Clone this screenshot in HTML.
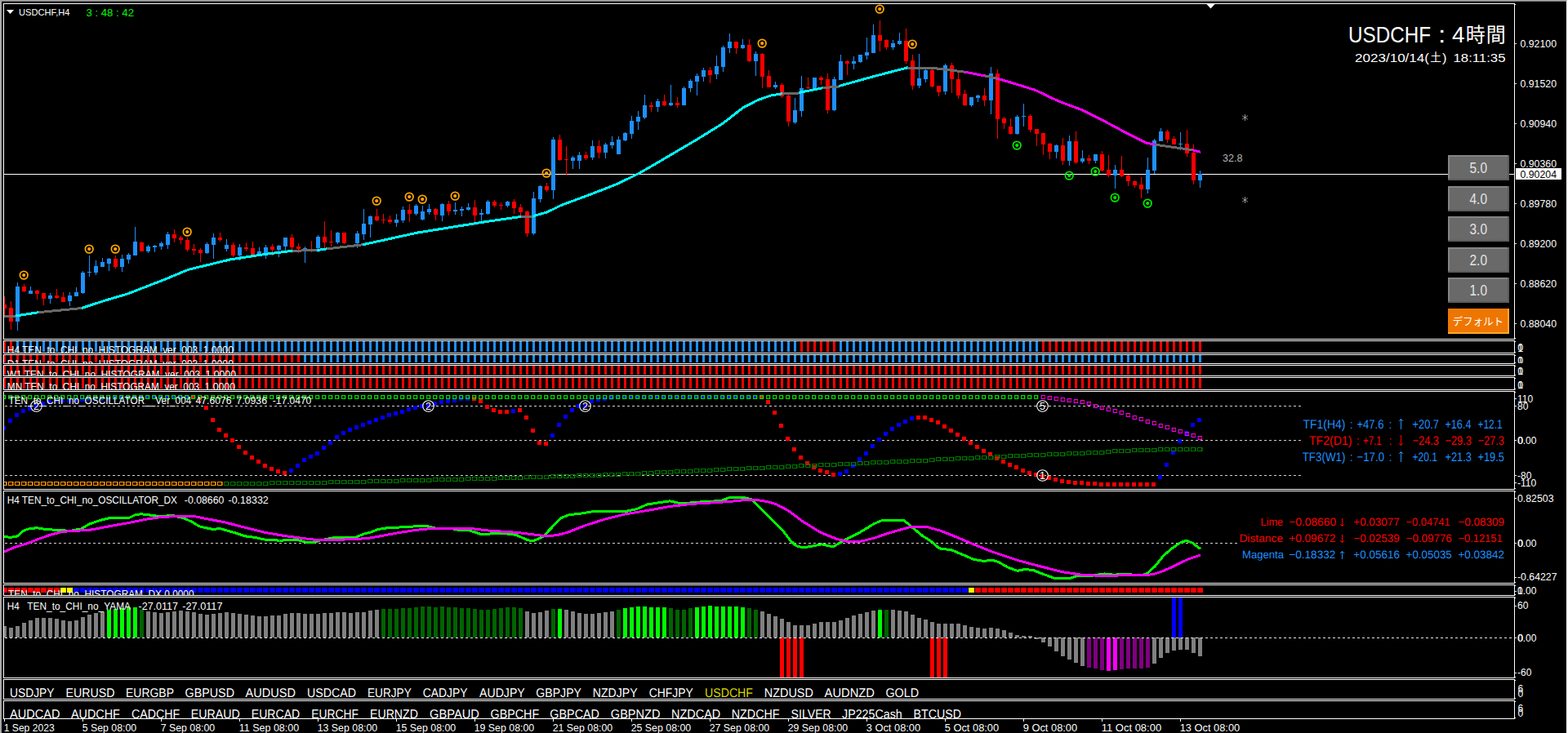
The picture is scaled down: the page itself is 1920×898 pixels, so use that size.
<!DOCTYPE html><html><head><meta charset="utf-8"><title>USDCHF,H4</title><style>html,body{margin:0;padding:0;background:#000;overflow:hidden}svg{display:block}text{font-family:"Liberation Sans",sans-serif;white-space:pre}</style></head><body>
<svg width="1920" height="898" viewBox="0 0 1920 898">
<rect x="0" y="0" width="1920" height="898" fill="#000"/>
<g shape-rendering="crispEdges">
<rect x="0" y="0" width="2" height="898" fill="#a8a8a8"/>
<rect x="1918" y="0" width="2" height="898" fill="#ffffff"/>
<rect x="0" y="0" width="1919" height="1" fill="#a8a8a8"/>
<rect x="2" y="1" width="1916" height="1" fill="#787878"/>
<rect x="4.5" y="4.5" width="1850" height="411" fill="none" stroke="#fff" stroke-width="1"/>
<rect x="4.5" y="417.5" width="1850" height="15" fill="none" stroke="#fff" stroke-width="1"/>
<rect x="4.5" y="434.5" width="1850" height="11" fill="none" stroke="#fff" stroke-width="1"/>
<rect x="4.5" y="447.5" width="1850" height="13" fill="none" stroke="#fff" stroke-width="1"/>
<rect x="4.5" y="462.5" width="1850" height="15" fill="none" stroke="#fff" stroke-width="1"/>
<rect x="4.5" y="479.5" width="1850" height="120" fill="none" stroke="#fff" stroke-width="1"/>
<rect x="4.5" y="601.5" width="1850" height="113" fill="none" stroke="#fff" stroke-width="1"/>
<rect x="4.5" y="716.5" width="1850" height="13" fill="none" stroke="#fff" stroke-width="1"/>
<rect x="4.5" y="731.5" width="1850" height="99" fill="none" stroke="#fff" stroke-width="1"/>
<rect x="4.5" y="832.5" width="1850" height="24" fill="none" stroke="#fff" stroke-width="1"/>
<rect x="4.5" y="858.5" width="1850" height="22" fill="none" stroke="#fff" stroke-width="1"/>
<rect x="1855" y="5" width="1" height="1" fill="#fff"/>
<rect x="1855" y="414" width="1" height="1" fill="#fff"/>
<rect x="1855" y="418" width="1" height="1" fill="#fff"/>
<rect x="1855" y="431" width="1" height="1" fill="#fff"/>
<rect x="1855" y="435" width="1" height="1" fill="#fff"/>
<rect x="1855" y="444" width="1" height="1" fill="#fff"/>
<rect x="1855" y="448" width="1" height="1" fill="#fff"/>
<rect x="1855" y="459" width="1" height="1" fill="#fff"/>
<rect x="1855" y="463" width="1" height="1" fill="#fff"/>
<rect x="1855" y="476" width="1" height="1" fill="#fff"/>
<rect x="1855" y="480" width="1" height="1" fill="#fff"/>
<rect x="1855" y="598" width="1" height="1" fill="#fff"/>
<rect x="1855" y="602" width="1" height="1" fill="#fff"/>
<rect x="1855" y="713" width="1" height="1" fill="#fff"/>
<rect x="1855" y="717" width="1" height="1" fill="#fff"/>
<rect x="1855" y="728" width="1" height="1" fill="#fff"/>
<rect x="1855" y="732" width="1" height="1" fill="#fff"/>
<rect x="1855" y="829" width="1" height="1" fill="#fff"/>
<rect x="1855" y="833" width="1" height="1" fill="#fff"/>
<rect x="1855" y="855" width="1" height="1" fill="#fff"/>
<rect x="1855" y="859" width="1" height="1" fill="#fff"/>
<rect x="1855" y="879" width="1" height="1" fill="#fff"/>
</g>
<clipPath id="cm"><rect x="5" y="5" width="1849" height="410"/></clipPath>
<g clip-path="url(#cm)">
<g shape-rendering="crispEdges">
<rect x="5" y="213" width="1849" height="1" fill="#fff"/>
<rect x="5" y="363" width="1" height="26" fill="#ff0000"/>
<rect x="3" y="373" width="5" height="5" fill="#ff0000"/>
<rect x="13" y="369" width="1" height="35" fill="#ff0000"/>
<rect x="11" y="377" width="5" height="17" fill="#ff0000"/>
<rect x="21" y="346" width="1" height="59" fill="#1e90ff"/>
<rect x="19" y="351" width="5" height="43" fill="#1e90ff"/>
<rect x="29" y="348" width="1" height="10" fill="#ff0000"/>
<rect x="27" y="351" width="5" height="6" fill="#ff0000"/>
<rect x="37" y="351" width="1" height="9" fill="#1e90ff"/>
<rect x="35" y="356" width="5" height="4" fill="#1e90ff"/>
<rect x="45" y="355" width="1" height="12" fill="#ff0000"/>
<rect x="43" y="356" width="5" height="4" fill="#ff0000"/>
<rect x="53" y="359" width="1" height="15" fill="#ff0000"/>
<rect x="51" y="359" width="5" height="7" fill="#ff0000"/>
<rect x="61" y="359" width="1" height="13" fill="#1e90ff"/>
<rect x="59" y="362" width="5" height="4" fill="#1e90ff"/>
<rect x="69" y="354" width="1" height="12" fill="#ff0000"/>
<rect x="67" y="362" width="5" height="3" fill="#ff0000"/>
<rect x="77" y="358" width="1" height="12" fill="#ff0000"/>
<rect x="75" y="364" width="5" height="6" fill="#ff0000"/>
<rect x="85" y="358" width="1" height="17" fill="#1e90ff"/>
<rect x="83" y="362" width="5" height="7" fill="#1e90ff"/>
<rect x="93" y="352" width="1" height="11" fill="#1e90ff"/>
<rect x="91" y="358" width="5" height="5" fill="#1e90ff"/>
<rect x="101" y="332" width="1" height="28" fill="#1e90ff"/>
<rect x="99" y="334" width="5" height="25" fill="#1e90ff"/>
<rect x="109" y="313" width="1" height="26" fill="#1e90ff"/>
<rect x="107" y="333" width="5" height="1" fill="#1e90ff"/>
<rect x="117" y="319" width="1" height="18" fill="#1e90ff"/>
<rect x="115" y="326" width="5" height="8" fill="#1e90ff"/>
<rect x="125" y="316" width="1" height="11" fill="#1e90ff"/>
<rect x="123" y="321" width="5" height="6" fill="#1e90ff"/>
<rect x="133" y="316" width="1" height="16" fill="#1e90ff"/>
<rect x="131" y="317" width="5" height="6" fill="#1e90ff"/>
<rect x="141" y="313" width="1" height="16" fill="#ff0000"/>
<rect x="139" y="317" width="5" height="10" fill="#ff0000"/>
<rect x="149" y="312" width="1" height="21" fill="#1e90ff"/>
<rect x="147" y="317" width="5" height="10" fill="#1e90ff"/>
<rect x="157" y="310" width="1" height="13" fill="#1e90ff"/>
<rect x="155" y="312" width="5" height="6" fill="#1e90ff"/>
<rect x="165" y="278" width="1" height="35" fill="#1e90ff"/>
<rect x="163" y="296" width="5" height="17" fill="#1e90ff"/>
<rect x="173" y="296" width="1" height="12" fill="#ff0000"/>
<rect x="171" y="297" width="5" height="11" fill="#ff0000"/>
<rect x="181" y="300" width="1" height="10" fill="#1e90ff"/>
<rect x="179" y="302" width="5" height="6" fill="#1e90ff"/>
<rect x="189" y="300" width="1" height="9" fill="#1e90ff"/>
<rect x="187" y="301" width="5" height="2" fill="#1e90ff"/>
<rect x="197" y="296" width="1" height="10" fill="#1e90ff"/>
<rect x="195" y="298" width="5" height="4" fill="#1e90ff"/>
<rect x="205" y="284" width="1" height="21" fill="#1e90ff"/>
<rect x="203" y="287" width="5" height="13" fill="#1e90ff"/>
<rect x="213" y="281" width="1" height="16" fill="#ff0000"/>
<rect x="211" y="287" width="5" height="5" fill="#ff0000"/>
<rect x="221" y="289" width="1" height="10" fill="#ff0000"/>
<rect x="219" y="291" width="5" height="3" fill="#ff0000"/>
<rect x="229" y="291" width="1" height="17" fill="#ff0000"/>
<rect x="227" y="294" width="5" height="12" fill="#ff0000"/>
<rect x="237" y="299" width="1" height="13" fill="#ff0000"/>
<rect x="235" y="305" width="5" height="2" fill="#ff0000"/>
<rect x="245" y="304" width="1" height="17" fill="#ff0000"/>
<rect x="243" y="306" width="5" height="4" fill="#ff0000"/>
<rect x="253" y="297" width="1" height="14" fill="#1e90ff"/>
<rect x="251" y="299" width="5" height="11" fill="#1e90ff"/>
<rect x="261" y="286" width="1" height="31" fill="#1e90ff"/>
<rect x="259" y="291" width="5" height="9" fill="#1e90ff"/>
<rect x="269" y="285" width="1" height="11" fill="#ff0000"/>
<rect x="267" y="291" width="5" height="3" fill="#ff0000"/>
<rect x="277" y="293" width="1" height="15" fill="#1e90ff"/>
<rect x="275" y="300" width="5" height="5" fill="#1e90ff"/>
<rect x="285" y="297" width="1" height="18" fill="#ff0000"/>
<rect x="283" y="300" width="5" height="13" fill="#ff0000"/>
<rect x="293" y="299" width="1" height="20" fill="#1e90ff"/>
<rect x="291" y="303" width="5" height="10" fill="#1e90ff"/>
<rect x="301" y="297" width="1" height="11" fill="#ff0000"/>
<rect x="299" y="303" width="5" height="2" fill="#ff0000"/>
<rect x="309" y="296" width="1" height="16" fill="#ff0000"/>
<rect x="307" y="304" width="5" height="8" fill="#ff0000"/>
<rect x="317" y="303" width="1" height="8" fill="#1e90ff"/>
<rect x="315" y="308" width="5" height="3" fill="#1e90ff"/>
<rect x="325" y="300" width="1" height="17" fill="#1e90ff"/>
<rect x="323" y="303" width="5" height="7" fill="#1e90ff"/>
<rect x="333" y="299" width="1" height="14" fill="#ff0000"/>
<rect x="331" y="302" width="5" height="4" fill="#ff0000"/>
<rect x="341" y="300" width="1" height="15" fill="#1e90ff"/>
<rect x="339" y="301" width="5" height="5" fill="#1e90ff"/>
<rect x="349" y="291" width="1" height="16" fill="#1e90ff"/>
<rect x="347" y="291" width="5" height="11" fill="#1e90ff"/>
<rect x="357" y="287" width="1" height="23" fill="#ff0000"/>
<rect x="355" y="291" width="5" height="12" fill="#ff0000"/>
<rect x="365" y="298" width="1" height="12" fill="#ff0000"/>
<rect x="363" y="302" width="5" height="3" fill="#ff0000"/>
<rect x="373" y="302" width="1" height="20" fill="#1e90ff"/>
<rect x="371" y="304" width="5" height="1" fill="#1e90ff"/>
<rect x="381" y="295" width="1" height="14" fill="#ff0000"/>
<rect x="379" y="307" width="5" height="1" fill="#ff0000"/>
<rect x="389" y="288" width="1" height="21" fill="#1e90ff"/>
<rect x="387" y="290" width="5" height="14" fill="#1e90ff"/>
<rect x="397" y="271" width="1" height="36" fill="#ff0000"/>
<rect x="395" y="290" width="5" height="7" fill="#ff0000"/>
<rect x="405" y="282" width="1" height="20" fill="#ff0000"/>
<rect x="403" y="296" width="5" height="1" fill="#ff0000"/>
<rect x="413" y="284" width="1" height="15" fill="#1e90ff"/>
<rect x="411" y="285" width="5" height="12" fill="#1e90ff"/>
<rect x="421" y="285" width="1" height="14" fill="#ff0000"/>
<rect x="419" y="285" width="5" height="13" fill="#ff0000"/>
<rect x="429" y="301" width="1" height="2" fill="#ff0000"/>
<rect x="427" y="301" width="5" height="2" fill="#ff0000"/>
<rect x="437" y="283" width="1" height="21" fill="#1e90ff"/>
<rect x="435" y="286" width="5" height="12" fill="#1e90ff"/>
<rect x="445" y="256" width="1" height="38" fill="#1e90ff"/>
<rect x="443" y="274" width="5" height="13" fill="#1e90ff"/>
<rect x="453" y="264" width="1" height="27" fill="#1e90ff"/>
<rect x="451" y="265" width="5" height="10" fill="#1e90ff"/>
<rect x="461" y="256" width="1" height="15" fill="#ff0000"/>
<rect x="459" y="265" width="5" height="5" fill="#ff0000"/>
<rect x="469" y="262" width="1" height="12" fill="#ff0000"/>
<rect x="467" y="269" width="5" height="1" fill="#ff0000"/>
<rect x="477" y="264" width="1" height="10" fill="#ff0000"/>
<rect x="475" y="269" width="5" height="3" fill="#ff0000"/>
<rect x="485" y="262" width="1" height="16" fill="#1e90ff"/>
<rect x="483" y="269" width="5" height="4" fill="#1e90ff"/>
<rect x="493" y="253" width="1" height="20" fill="#1e90ff"/>
<rect x="491" y="257" width="5" height="13" fill="#1e90ff"/>
<rect x="501" y="250" width="1" height="22" fill="#ff0000"/>
<rect x="499" y="257" width="5" height="5" fill="#ff0000"/>
<rect x="509" y="250" width="1" height="14" fill="#1e90ff"/>
<rect x="507" y="252" width="5" height="10" fill="#1e90ff"/>
<rect x="517" y="252" width="1" height="18" fill="#1e90ff"/>
<rect x="515" y="259" width="5" height="10" fill="#1e90ff"/>
<rect x="525" y="250" width="1" height="13" fill="#1e90ff"/>
<rect x="523" y="256" width="5" height="4" fill="#1e90ff"/>
<rect x="533" y="255" width="1" height="15" fill="#ff0000"/>
<rect x="531" y="256" width="5" height="7" fill="#ff0000"/>
<rect x="541" y="249" width="1" height="22" fill="#1e90ff"/>
<rect x="539" y="250" width="5" height="14" fill="#1e90ff"/>
<rect x="549" y="246" width="1" height="18" fill="#ff0000"/>
<rect x="547" y="250" width="5" height="9" fill="#ff0000"/>
<rect x="557" y="248" width="1" height="15" fill="#1e90ff"/>
<rect x="555" y="257" width="5" height="2" fill="#1e90ff"/>
<rect x="565" y="253" width="1" height="12" fill="#1e90ff"/>
<rect x="563" y="256" width="5" height="2" fill="#1e90ff"/>
<rect x="573" y="249" width="1" height="9" fill="#1e90ff"/>
<rect x="571" y="254" width="5" height="3" fill="#1e90ff"/>
<rect x="581" y="245" width="1" height="31" fill="#ff0000"/>
<rect x="579" y="254" width="5" height="10" fill="#ff0000"/>
<rect x="589" y="256" width="1" height="15" fill="#1e90ff"/>
<rect x="587" y="261" width="5" height="2" fill="#1e90ff"/>
<rect x="597" y="245" width="1" height="18" fill="#1e90ff"/>
<rect x="595" y="247" width="5" height="15" fill="#1e90ff"/>
<rect x="605" y="245" width="1" height="9" fill="#ff0000"/>
<rect x="603" y="247" width="5" height="5" fill="#ff0000"/>
<rect x="613" y="248" width="1" height="9" fill="#ff0000"/>
<rect x="611" y="251" width="5" height="1" fill="#ff0000"/>
<rect x="621" y="246" width="1" height="8" fill="#1e90ff"/>
<rect x="619" y="247" width="5" height="5" fill="#1e90ff"/>
<rect x="629" y="244" width="1" height="18" fill="#ff0000"/>
<rect x="627" y="247" width="5" height="8" fill="#ff0000"/>
<rect x="637" y="250" width="1" height="14" fill="#ff0000"/>
<rect x="635" y="254" width="5" height="6" fill="#ff0000"/>
<rect x="645" y="258" width="1" height="32" fill="#ff0000"/>
<rect x="643" y="259" width="5" height="27" fill="#ff0000"/>
<rect x="653" y="235" width="1" height="53" fill="#1e90ff"/>
<rect x="651" y="243" width="5" height="43" fill="#1e90ff"/>
<rect x="661" y="227" width="1" height="21" fill="#1e90ff"/>
<rect x="659" y="228" width="5" height="16" fill="#1e90ff"/>
<rect x="669" y="224" width="1" height="11" fill="#ff0000"/>
<rect x="667" y="228" width="5" height="5" fill="#ff0000"/>
<rect x="677" y="168" width="1" height="76" fill="#1e90ff"/>
<rect x="675" y="171" width="5" height="62" fill="#1e90ff"/>
<rect x="685" y="165" width="1" height="32" fill="#ff0000"/>
<rect x="683" y="171" width="5" height="25" fill="#ff0000"/>
<rect x="693" y="179" width="1" height="36" fill="#ff0000"/>
<rect x="691" y="195" width="5" height="1" fill="#ff0000"/>
<rect x="701" y="191" width="1" height="16" fill="#1e90ff"/>
<rect x="699" y="193" width="5" height="4" fill="#1e90ff"/>
<rect x="709" y="186" width="1" height="21" fill="#1e90ff"/>
<rect x="707" y="190" width="5" height="7" fill="#1e90ff"/>
<rect x="717" y="186" width="1" height="10" fill="#ff0000"/>
<rect x="715" y="190" width="5" height="4" fill="#ff0000"/>
<rect x="725" y="172" width="1" height="24" fill="#1e90ff"/>
<rect x="723" y="179" width="5" height="14" fill="#1e90ff"/>
<rect x="733" y="172" width="1" height="22" fill="#ff0000"/>
<rect x="731" y="179" width="5" height="8" fill="#ff0000"/>
<rect x="741" y="175" width="1" height="19" fill="#1e90ff"/>
<rect x="739" y="177" width="5" height="10" fill="#1e90ff"/>
<rect x="749" y="167" width="1" height="15" fill="#1e90ff"/>
<rect x="747" y="174" width="5" height="4" fill="#1e90ff"/>
<rect x="757" y="167" width="1" height="22" fill="#1e90ff"/>
<rect x="755" y="171" width="5" height="18" fill="#1e90ff"/>
<rect x="765" y="162" width="1" height="11" fill="#1e90ff"/>
<rect x="763" y="163" width="5" height="9" fill="#1e90ff"/>
<rect x="773" y="142" width="1" height="28" fill="#1e90ff"/>
<rect x="771" y="148" width="5" height="16" fill="#1e90ff"/>
<rect x="781" y="136" width="1" height="23" fill="#1e90ff"/>
<rect x="779" y="143" width="5" height="6" fill="#1e90ff"/>
<rect x="789" y="116" width="1" height="30" fill="#1e90ff"/>
<rect x="787" y="129" width="5" height="15" fill="#1e90ff"/>
<rect x="797" y="125" width="1" height="12" fill="#ff0000"/>
<rect x="795" y="129" width="5" height="2" fill="#ff0000"/>
<rect x="805" y="121" width="1" height="16" fill="#1e90ff"/>
<rect x="803" y="124" width="5" height="7" fill="#1e90ff"/>
<rect x="813" y="116" width="1" height="14" fill="#ff0000"/>
<rect x="811" y="124" width="5" height="5" fill="#ff0000"/>
<rect x="821" y="104" width="1" height="26" fill="#1e90ff"/>
<rect x="819" y="126" width="5" height="3" fill="#1e90ff"/>
<rect x="829" y="119" width="1" height="13" fill="#ff0000"/>
<rect x="827" y="126" width="5" height="3" fill="#ff0000"/>
<rect x="837" y="106" width="1" height="23" fill="#1e90ff"/>
<rect x="835" y="108" width="5" height="21" fill="#1e90ff"/>
<rect x="845" y="97" width="1" height="16" fill="#1e90ff"/>
<rect x="843" y="99" width="5" height="9" fill="#1e90ff"/>
<rect x="853" y="90" width="1" height="27" fill="#1e90ff"/>
<rect x="851" y="93" width="5" height="7" fill="#1e90ff"/>
<rect x="861" y="83" width="1" height="17" fill="#1e90ff"/>
<rect x="859" y="86" width="5" height="8" fill="#1e90ff"/>
<rect x="869" y="82" width="1" height="20" fill="#ff0000"/>
<rect x="867" y="86" width="5" height="6" fill="#ff0000"/>
<rect x="877" y="68" width="1" height="29" fill="#1e90ff"/>
<rect x="875" y="81" width="5" height="10" fill="#1e90ff"/>
<rect x="885" y="56" width="1" height="32" fill="#1e90ff"/>
<rect x="883" y="58" width="5" height="24" fill="#1e90ff"/>
<rect x="893" y="41" width="1" height="24" fill="#1e90ff"/>
<rect x="891" y="51" width="5" height="8" fill="#1e90ff"/>
<rect x="901" y="51" width="1" height="15" fill="#ff0000"/>
<rect x="899" y="51" width="5" height="8" fill="#ff0000"/>
<rect x="909" y="48" width="1" height="12" fill="#1e90ff"/>
<rect x="907" y="55" width="5" height="4" fill="#1e90ff"/>
<rect x="917" y="48" width="1" height="28" fill="#ff0000"/>
<rect x="915" y="55" width="5" height="20" fill="#ff0000"/>
<rect x="925" y="63" width="1" height="30" fill="#1e90ff"/>
<rect x="923" y="66" width="5" height="9" fill="#1e90ff"/>
<rect x="933" y="65" width="1" height="43" fill="#ff0000"/>
<rect x="931" y="66" width="5" height="28" fill="#ff0000"/>
<rect x="941" y="86" width="1" height="21" fill="#ff0000"/>
<rect x="939" y="93" width="5" height="14" fill="#ff0000"/>
<rect x="949" y="100" width="1" height="9" fill="#1e90ff"/>
<rect x="947" y="104" width="5" height="3" fill="#1e90ff"/>
<rect x="957" y="102" width="1" height="18" fill="#ff0000"/>
<rect x="955" y="104" width="5" height="14" fill="#ff0000"/>
<rect x="965" y="115" width="1" height="40" fill="#ff0000"/>
<rect x="963" y="117" width="5" height="32" fill="#ff0000"/>
<rect x="973" y="120" width="1" height="32" fill="#1e90ff"/>
<rect x="971" y="135" width="5" height="15" fill="#1e90ff"/>
<rect x="981" y="93" width="1" height="50" fill="#1e90ff"/>
<rect x="979" y="108" width="5" height="28" fill="#1e90ff"/>
<rect x="989" y="95" width="1" height="14" fill="#ff0000"/>
<rect x="987" y="107" width="5" height="1" fill="#ff0000"/>
<rect x="997" y="95" width="1" height="16" fill="#1e90ff"/>
<rect x="995" y="95" width="5" height="14" fill="#1e90ff"/>
<rect x="1005" y="93" width="1" height="11" fill="#ff0000"/>
<rect x="1003" y="95" width="5" height="3" fill="#ff0000"/>
<rect x="1013" y="90" width="1" height="49" fill="#ff0000"/>
<rect x="1011" y="97" width="5" height="38" fill="#ff0000"/>
<rect x="1021" y="94" width="1" height="42" fill="#1e90ff"/>
<rect x="1019" y="97" width="5" height="38" fill="#1e90ff"/>
<rect x="1029" y="67" width="1" height="31" fill="#1e90ff"/>
<rect x="1027" y="75" width="5" height="23" fill="#1e90ff"/>
<rect x="1037" y="74" width="1" height="18" fill="#ff0000"/>
<rect x="1035" y="75" width="5" height="3" fill="#ff0000"/>
<rect x="1045" y="69" width="1" height="16" fill="#1e90ff"/>
<rect x="1043" y="75" width="5" height="3" fill="#1e90ff"/>
<rect x="1053" y="67" width="1" height="10" fill="#1e90ff"/>
<rect x="1051" y="67" width="5" height="9" fill="#1e90ff"/>
<rect x="1061" y="46" width="1" height="27" fill="#1e90ff"/>
<rect x="1059" y="64" width="5" height="4" fill="#1e90ff"/>
<rect x="1069" y="30" width="1" height="35" fill="#1e90ff"/>
<rect x="1067" y="43" width="5" height="22" fill="#1e90ff"/>
<rect x="1077" y="25" width="1" height="38" fill="#ff0000"/>
<rect x="1075" y="43" width="5" height="7" fill="#ff0000"/>
<rect x="1085" y="48" width="1" height="13" fill="#ff0000"/>
<rect x="1083" y="49" width="5" height="9" fill="#ff0000"/>
<rect x="1093" y="49" width="1" height="12" fill="#1e90ff"/>
<rect x="1091" y="53" width="5" height="5" fill="#1e90ff"/>
<rect x="1101" y="40" width="1" height="15" fill="#1e90ff"/>
<rect x="1099" y="50" width="5" height="4" fill="#1e90ff"/>
<rect x="1109" y="35" width="1" height="43" fill="#ff0000"/>
<rect x="1107" y="50" width="5" height="25" fill="#ff0000"/>
<rect x="1117" y="67" width="1" height="43" fill="#ff0000"/>
<rect x="1115" y="74" width="5" height="31" fill="#ff0000"/>
<rect x="1125" y="66" width="1" height="42" fill="#1e90ff"/>
<rect x="1123" y="96" width="5" height="9" fill="#1e90ff"/>
<rect x="1133" y="85" width="1" height="16" fill="#1e90ff"/>
<rect x="1131" y="86" width="5" height="11" fill="#1e90ff"/>
<rect x="1141" y="85" width="1" height="22" fill="#ff0000"/>
<rect x="1139" y="86" width="5" height="20" fill="#ff0000"/>
<rect x="1149" y="105" width="1" height="13" fill="#ff0000"/>
<rect x="1147" y="105" width="5" height="8" fill="#ff0000"/>
<rect x="1157" y="78" width="1" height="38" fill="#1e90ff"/>
<rect x="1155" y="80" width="5" height="32" fill="#1e90ff"/>
<rect x="1165" y="77" width="1" height="37" fill="#ff0000"/>
<rect x="1163" y="80" width="5" height="17" fill="#ff0000"/>
<rect x="1173" y="88" width="1" height="33" fill="#ff0000"/>
<rect x="1171" y="97" width="5" height="20" fill="#ff0000"/>
<rect x="1181" y="110" width="1" height="20" fill="#ff0000"/>
<rect x="1179" y="115" width="5" height="14" fill="#ff0000"/>
<rect x="1189" y="119" width="1" height="12" fill="#1e90ff"/>
<rect x="1187" y="119" width="5" height="10" fill="#1e90ff"/>
<rect x="1197" y="116" width="1" height="9" fill="#1e90ff"/>
<rect x="1195" y="117" width="5" height="3" fill="#1e90ff"/>
<rect x="1205" y="108" width="1" height="22" fill="#ff0000"/>
<rect x="1203" y="117" width="5" height="6" fill="#ff0000"/>
<rect x="1213" y="82" width="1" height="58" fill="#1e90ff"/>
<rect x="1211" y="90" width="5" height="33" fill="#1e90ff"/>
<rect x="1221" y="85" width="1" height="85" fill="#ff0000"/>
<rect x="1219" y="90" width="5" height="56" fill="#ff0000"/>
<rect x="1229" y="143" width="1" height="15" fill="#ff0000"/>
<rect x="1227" y="145" width="5" height="6" fill="#ff0000"/>
<rect x="1237" y="145" width="1" height="20" fill="#ff0000"/>
<rect x="1235" y="155" width="5" height="9" fill="#ff0000"/>
<rect x="1245" y="141" width="1" height="24" fill="#1e90ff"/>
<rect x="1243" y="143" width="5" height="21" fill="#1e90ff"/>
<rect x="1253" y="127" width="1" height="28" fill="#1e90ff"/>
<rect x="1251" y="142" width="5" height="1" fill="#1e90ff"/>
<rect x="1261" y="140" width="1" height="22" fill="#ff0000"/>
<rect x="1259" y="142" width="5" height="17" fill="#ff0000"/>
<rect x="1269" y="158" width="1" height="21" fill="#ff0000"/>
<rect x="1267" y="158" width="5" height="6" fill="#ff0000"/>
<rect x="1277" y="163" width="1" height="27" fill="#ff0000"/>
<rect x="1275" y="163" width="5" height="14" fill="#ff0000"/>
<rect x="1285" y="175" width="1" height="20" fill="#ff0000"/>
<rect x="1283" y="176" width="5" height="10" fill="#ff0000"/>
<rect x="1293" y="177" width="1" height="17" fill="#1e90ff"/>
<rect x="1291" y="178" width="5" height="8" fill="#1e90ff"/>
<rect x="1301" y="169" width="1" height="33" fill="#ff0000"/>
<rect x="1299" y="178" width="5" height="19" fill="#ff0000"/>
<rect x="1309" y="166" width="1" height="37" fill="#1e90ff"/>
<rect x="1307" y="173" width="5" height="24" fill="#1e90ff"/>
<rect x="1317" y="161" width="1" height="40" fill="#ff0000"/>
<rect x="1315" y="173" width="5" height="26" fill="#ff0000"/>
<rect x="1325" y="184" width="1" height="16" fill="#1e90ff"/>
<rect x="1323" y="194" width="5" height="4" fill="#1e90ff"/>
<rect x="1333" y="190" width="1" height="11" fill="#ff0000"/>
<rect x="1331" y="194" width="5" height="3" fill="#ff0000"/>
<rect x="1341" y="189" width="1" height="11" fill="#1e90ff"/>
<rect x="1339" y="189" width="5" height="8" fill="#1e90ff"/>
<rect x="1349" y="185" width="1" height="25" fill="#ff0000"/>
<rect x="1347" y="189" width="5" height="20" fill="#ff0000"/>
<rect x="1357" y="190" width="1" height="27" fill="#ff0000"/>
<rect x="1355" y="208" width="5" height="7" fill="#ff0000"/>
<rect x="1365" y="202" width="1" height="29" fill="#1e90ff"/>
<rect x="1363" y="208" width="5" height="7" fill="#1e90ff"/>
<rect x="1373" y="191" width="1" height="26" fill="#ff0000"/>
<rect x="1371" y="208" width="5" height="8" fill="#ff0000"/>
<rect x="1381" y="214" width="1" height="14" fill="#ff0000"/>
<rect x="1379" y="215" width="5" height="7" fill="#ff0000"/>
<rect x="1389" y="221" width="1" height="9" fill="#ff0000"/>
<rect x="1387" y="222" width="5" height="5" fill="#ff0000"/>
<rect x="1397" y="217" width="1" height="26" fill="#ff0000"/>
<rect x="1395" y="226" width="5" height="6" fill="#ff0000"/>
<rect x="1405" y="193" width="1" height="44" fill="#1e90ff"/>
<rect x="1403" y="208" width="5" height="24" fill="#1e90ff"/>
<rect x="1413" y="170" width="1" height="43" fill="#1e90ff"/>
<rect x="1411" y="172" width="5" height="37" fill="#1e90ff"/>
<rect x="1421" y="157" width="1" height="16" fill="#1e90ff"/>
<rect x="1419" y="161" width="5" height="12" fill="#1e90ff"/>
<rect x="1429" y="159" width="1" height="16" fill="#ff0000"/>
<rect x="1427" y="161" width="5" height="10" fill="#ff0000"/>
<rect x="1437" y="167" width="1" height="10" fill="#ff0000"/>
<rect x="1435" y="170" width="5" height="7" fill="#ff0000"/>
<rect x="1445" y="162" width="1" height="22" fill="#1e90ff"/>
<rect x="1443" y="176" width="5" height="1" fill="#1e90ff"/>
<rect x="1453" y="159" width="1" height="33" fill="#ff0000"/>
<rect x="1451" y="176" width="5" height="12" fill="#ff0000"/>
<rect x="1461" y="177" width="1" height="49" fill="#ff0000"/>
<rect x="1459" y="187" width="5" height="34" fill="#ff0000"/>
<rect x="1469" y="209" width="1" height="21" fill="#1e90ff"/>
<rect x="1467" y="213" width="5" height="8" fill="#1e90ff"/>
<polyline fill="none" stroke="#696969" stroke-width="3" stroke-linejoin="round" points="5.0,387.7 19.0,387.0"/>
<polyline fill="none" stroke="#00ffff" stroke-width="3" stroke-linejoin="round" points="19.0,387.0 47.0,382.7"/>
<polyline fill="none" stroke="#696969" stroke-width="3" stroke-linejoin="round" points="47.0,382.7 100.0,377.5"/>
<polyline fill="none" stroke="#00ffff" stroke-width="3" stroke-linejoin="round" points="100.0,377.5 129.0,368.0 156.0,360.1 200.0,343.0 231.0,330.2 282.0,317.9 322.0,311.8 358.0,307.3"/>
<polyline fill="none" stroke="#696969" stroke-width="3" stroke-linejoin="round" points="358.0,307.3 388.0,306.5"/>
<polyline fill="none" stroke="#00ffff" stroke-width="3" stroke-linejoin="round" points="388.0,306.5 400.0,304.9"/>
<polyline fill="none" stroke="#696969" stroke-width="3" stroke-linejoin="round" points="400.0,304.9 444.0,299.8"/>
<polyline fill="none" stroke="#00ffff" stroke-width="3" stroke-linejoin="round" points="444.0,299.8 511.0,285.1 600.0,270.8 638.0,265.5"/>
<polyline fill="none" stroke="#696969" stroke-width="3" stroke-linejoin="round" points="638.0,265.5 652.0,265.5"/>
<polyline fill="none" stroke="#00ffff" stroke-width="3" stroke-linejoin="round" points="652.0,265.5 655.0,264.1 670.0,259.9 687.0,251.5 725.0,237.4 757.0,224.9 784.0,211.5 800.0,202.3 854.0,170.5 885.0,151.3 910.0,131.8 928.0,122.5 944.0,117.0 958.0,114.7"/>
<polyline fill="none" stroke="#696969" stroke-width="3" stroke-linejoin="round" points="958.0,114.7 978.0,114.0"/>
<polyline fill="none" stroke="#00ffff" stroke-width="3" stroke-linejoin="round" points="978.0,114.0 980.0,113.1 1007.0,107.8"/>
<polyline fill="none" stroke="#696969" stroke-width="3" stroke-linejoin="round" points="1007.0,107.8 1027.0,106.0"/>
<polyline fill="none" stroke="#00ffff" stroke-width="3" stroke-linejoin="round" points="1027.0,106.0 1028.0,105.3 1068.0,94.1 1111.0,82.9"/>
<polyline fill="none" stroke="#696969" stroke-width="3" stroke-linejoin="round" points="1111.0,82.9 1114.0,83.7 1145.0,83.7 1181.0,88.1"/>
<polyline fill="none" stroke="#ff00ff" stroke-width="3" stroke-linejoin="round" points="1181.0,88.1 1206.0,92.9"/>
<polyline fill="none" stroke="#696969" stroke-width="3" stroke-linejoin="round" points="1206.0,92.9 1221.0,96.1"/>
<polyline fill="none" stroke="#ff00ff" stroke-width="3" stroke-linejoin="round" points="1221.0,96.1 1245.0,103.3 1268.0,110.5 1288.0,120.2 1300.0,125.5 1325.0,134.7 1350.0,147.2 1375.0,160.6 1405.0,175.6 1414.0,176.8"/>
<polyline fill="none" stroke="#696969" stroke-width="3" stroke-linejoin="round" points="1414.0,176.8 1415.0,177.3 1460.0,183.7"/>
<polyline fill="none" stroke="#ff00ff" stroke-width="3" stroke-linejoin="round" points="1460.0,183.7 1470.0,186.2"/>
</g>
<circle cx="29.2" cy="337.1" r="4.8" fill="none" stroke="#ffa500" stroke-width="1.8"/><circle cx="29.2" cy="337.1" r="2.1" fill="#ffa500"/>
<circle cx="109.2" cy="305.1" r="4.8" fill="none" stroke="#ffa500" stroke-width="1.8"/><circle cx="109.2" cy="305.1" r="2.1" fill="#ffa500"/>
<circle cx="141.2" cy="305.1" r="4.8" fill="none" stroke="#ffa500" stroke-width="1.8"/><circle cx="141.2" cy="305.1" r="2.1" fill="#ffa500"/>
<circle cx="229.2" cy="284.1" r="4.8" fill="none" stroke="#ffa500" stroke-width="1.8"/><circle cx="229.2" cy="284.1" r="2.1" fill="#ffa500"/>
<circle cx="461.2" cy="246.1" r="4.8" fill="none" stroke="#ffa500" stroke-width="1.8"/><circle cx="461.2" cy="246.1" r="2.1" fill="#ffa500"/>
<circle cx="501.2" cy="241.1" r="4.8" fill="none" stroke="#ffa500" stroke-width="1.8"/><circle cx="501.2" cy="241.1" r="2.1" fill="#ffa500"/>
<circle cx="517.2" cy="244.1" r="4.8" fill="none" stroke="#ffa500" stroke-width="1.8"/><circle cx="517.2" cy="244.1" r="2.1" fill="#ffa500"/>
<circle cx="557.2" cy="240.1" r="4.8" fill="none" stroke="#ffa500" stroke-width="1.8"/><circle cx="557.2" cy="240.1" r="2.1" fill="#ffa500"/>
<circle cx="669.2" cy="212.1" r="4.8" fill="none" stroke="#ffa500" stroke-width="1.8"/><circle cx="669.2" cy="212.1" r="2.1" fill="#ffa500"/>
<circle cx="933.2" cy="53.1" r="4.8" fill="none" stroke="#ffa500" stroke-width="1.8"/><circle cx="933.2" cy="53.1" r="2.1" fill="#ffa500"/>
<circle cx="1077.2" cy="11.1" r="4.8" fill="none" stroke="#ffa500" stroke-width="1.8"/><circle cx="1077.2" cy="11.1" r="2.1" fill="#ffa500"/>
<circle cx="1117.2" cy="54.1" r="4.8" fill="none" stroke="#ffa500" stroke-width="1.8"/><circle cx="1117.2" cy="54.1" r="2.1" fill="#ffa500"/>
<circle cx="1245.2" cy="178.1" r="4.8" fill="none" stroke="#00e800" stroke-width="1.8"/><circle cx="1245.2" cy="178.1" r="2.1" fill="#00e800"/>
<circle cx="1309.2" cy="215.1" r="4.8" fill="none" stroke="#00e800" stroke-width="1.8"/><circle cx="1309.2" cy="215.1" r="2.1" fill="#00e800"/>
<circle cx="1341.2" cy="210.1" r="4.8" fill="none" stroke="#00e800" stroke-width="1.8"/><circle cx="1341.2" cy="210.1" r="2.1" fill="#00e800"/>
<circle cx="1365.2" cy="242.1" r="4.8" fill="none" stroke="#00e800" stroke-width="1.8"/><circle cx="1365.2" cy="242.1" r="2.1" fill="#00e800"/>
<circle cx="1405.2" cy="249.1" r="4.8" fill="none" stroke="#00e800" stroke-width="1.8"/><circle cx="1405.2" cy="249.1" r="2.1" fill="#00e800"/>
</g>
<polygon points="1476.5,4 1488.5,4 1482.5,10.5" fill="#fff"/>
<polygon points="8,12 17,12 12.5,17" fill="#fff"/>
<text x="23" y="19" font-size="11" fill="#fff" textLength="62.5" lengthAdjust="spacingAndGlyphs">USDCHF,H4</text>
<text x="105.5" y="19.7" font-size="12.6" fill="#00ff00" textLength="58.5" lengthAdjust="spacingAndGlyphs">3 : 48 : 42</text>
<text x="1651" y="51.5" font-size="27.2" fill="#fff" textLength="101" lengthAdjust="spacingAndGlyphs">USDCHF</text>
<rect x="1764" y="36.8" width="3.4" height="3.2" fill="#fff"/>
<rect x="1764" y="49" width="3.4" height="3.2" fill="#fff"/>
<text x="1778" y="51.5" font-size="27.2" fill="#fff" textLength="15.5" lengthAdjust="spacingAndGlyphs">4</text>
<text x="1794.8" y="51.2" font-size="24" fill="#fff" style="font-family:'Liberation Sans','Noto Sans CJK JP',sans-serif">時</text>
<text x="1819.8" y="51.2" font-size="24" fill="#fff" style="font-family:'Liberation Sans','Noto Sans CJK JP',sans-serif">間</text>
<text x="1659" y="75.6" font-size="15" fill="#fff" textLength="91" lengthAdjust="spacingAndGlyphs">2023/10/14(</text>
<text x="1751.3" y="75.3" font-size="13.6" fill="#fff" style="font-family:'Liberation Sans','Noto Sans CJK JP',sans-serif">土</text>
<text x="1766" y="75.6" font-size="15" fill="#fff" textLength="5.5" lengthAdjust="spacingAndGlyphs">)</text>
<text x="1779.5" y="75.6" font-size="15" fill="#fff" textLength="64" lengthAdjust="spacingAndGlyphs">18:11:35</text>
<text x="1497" y="198" font-size="13" fill="#b4b4b4" textLength="24.5" lengthAdjust="spacingAndGlyphs">32.8</text>
<path d="M1524.5 140V148M1521.1 141.8L1527.9 146.2M1521.1 146.2L1527.9 141.8" stroke="#a8a8a8" stroke-width="0.85" fill="none"/>
<path d="M1524.5 241V249M1521.1 242.8L1527.9 247.2M1521.1 247.2L1527.9 242.8" stroke="#a8a8a8" stroke-width="0.85" fill="none"/>
<g shape-rendering="crispEdges">
<rect x="1773" y="190" width="75" height="31" fill="#5c5c5c"/>
<rect x="1773" y="190" width="73" height="29" fill="#848484"/>
<rect x="1775" y="192" width="71" height="27" fill="#696969"/>
<rect x="1773" y="228" width="75" height="31" fill="#5c5c5c"/>
<rect x="1773" y="228" width="73" height="29" fill="#848484"/>
<rect x="1775" y="230" width="71" height="27" fill="#696969"/>
<rect x="1773" y="265" width="75" height="31" fill="#5c5c5c"/>
<rect x="1773" y="265" width="73" height="29" fill="#848484"/>
<rect x="1775" y="267" width="71" height="27" fill="#696969"/>
<rect x="1773" y="303" width="75" height="31" fill="#5c5c5c"/>
<rect x="1773" y="303" width="73" height="29" fill="#848484"/>
<rect x="1775" y="305" width="71" height="27" fill="#696969"/>
<rect x="1773" y="340" width="75" height="31" fill="#5c5c5c"/>
<rect x="1773" y="340" width="73" height="29" fill="#848484"/>
<rect x="1775" y="342" width="71" height="27" fill="#696969"/>
<rect x="1773" y="378" width="75" height="31" fill="#ffa928"/>
<rect x="1773" y="378" width="73" height="29" fill="#ee7600"/>
</g>
<text x="1799.5" y="212" font-size="18.7" fill="#e4e4e4" textLength="21.5" lengthAdjust="spacingAndGlyphs">5.0</text>
<text x="1799.5" y="250" font-size="18.7" fill="#e4e4e4" textLength="21.5" lengthAdjust="spacingAndGlyphs">4.0</text>
<text x="1799.5" y="287" font-size="18.7" fill="#e4e4e4" textLength="21.5" lengthAdjust="spacingAndGlyphs">3.0</text>
<text x="1799.5" y="325" font-size="18.7" fill="#e4e4e4" textLength="21.5" lengthAdjust="spacingAndGlyphs">2.0</text>
<text x="1799.5" y="362" font-size="18.7" fill="#e4e4e4" textLength="21.5" lengthAdjust="spacingAndGlyphs">1.0</text>
<text x="1778.4" y="398.4" font-size="12.6" fill="#fff" textLength="62.75" lengthAdjust="spacing" style="font-family:'Liberation Sans','Noto Sans CJK JP',sans-serif">デフォルト</text>
<g shape-rendering="crispEdges">
<rect x="1855" y="53" width="2" height="1" fill="#fff"/>
<rect x="1855" y="102" width="2" height="1" fill="#fff"/>
<rect x="1855" y="151" width="2" height="1" fill="#fff"/>
<rect x="1855" y="200" width="2" height="1" fill="#fff"/>
<rect x="1855" y="249" width="2" height="1" fill="#fff"/>
<rect x="1855" y="298" width="2" height="1" fill="#fff"/>
<rect x="1855" y="347" width="2" height="1" fill="#fff"/>
<rect x="1855" y="396" width="2" height="1" fill="#fff"/>
<rect x="1856" y="206" width="56" height="14" fill="#fff"/>
</g>
<text x="1861.5" y="57.5" font-size="12" fill="#fff" textLength="44.5" lengthAdjust="spacingAndGlyphs">0.92100</text>
<text x="1861.5" y="106.5" font-size="12" fill="#fff" textLength="44.5" lengthAdjust="spacingAndGlyphs">0.91520</text>
<text x="1861.5" y="155.5" font-size="12" fill="#fff" textLength="44.5" lengthAdjust="spacingAndGlyphs">0.90940</text>
<text x="1861.5" y="204.5" font-size="12" fill="#fff" textLength="44.5" lengthAdjust="spacingAndGlyphs">0.90360</text>
<text x="1861.5" y="253.5" font-size="12" fill="#fff" textLength="44.5" lengthAdjust="spacingAndGlyphs">0.89780</text>
<text x="1861.5" y="302.5" font-size="12" fill="#fff" textLength="44.5" lengthAdjust="spacingAndGlyphs">0.89200</text>
<text x="1861.5" y="351.5" font-size="12" fill="#fff" textLength="44.5" lengthAdjust="spacingAndGlyphs">0.88620</text>
<text x="1861.5" y="400.5" font-size="12" fill="#fff" textLength="44.5" lengthAdjust="spacingAndGlyphs">0.88040</text>
<text x="1861.5" y="217.5" font-size="12" fill="#000" textLength="44.5" lengthAdjust="spacingAndGlyphs">0.90204</text>
<clipPath id="c1"><rect x="5" y="418" width="1849" height="14"/></clipPath>
<g clip-path="url(#c1)"><g shape-rendering="crispEdges">
<rect x="4" y="418" width="3" height="13" fill="#ff0000"/>
<rect x="12" y="418" width="3" height="13" fill="#ff0000"/>
<rect x="20" y="418" width="3" height="13" fill="#1e90ff"/>
<rect x="28" y="418" width="3" height="13" fill="#1e90ff"/>
<rect x="36" y="418" width="3" height="13" fill="#1e90ff"/>
<rect x="44" y="418" width="3" height="13" fill="#1e90ff"/>
<rect x="52" y="418" width="3" height="13" fill="#1e90ff"/>
<rect x="60" y="418" width="3" height="13" fill="#1e90ff"/>
<rect x="68" y="418" width="3" height="13" fill="#1e90ff"/>
<rect x="76" y="418" width="3" height="13" fill="#1e90ff"/>
<rect x="84" y="418" width="3" height="13" fill="#1e90ff"/>
<rect x="92" y="418" width="3" height="13" fill="#1e90ff"/>
<rect x="100" y="418" width="3" height="13" fill="#1e90ff"/>
<rect x="108" y="418" width="3" height="13" fill="#1e90ff"/>
<rect x="116" y="418" width="3" height="13" fill="#1e90ff"/>
<rect x="124" y="418" width="3" height="13" fill="#1e90ff"/>
<rect x="132" y="418" width="3" height="13" fill="#1e90ff"/>
<rect x="140" y="418" width="3" height="13" fill="#1e90ff"/>
<rect x="148" y="418" width="3" height="13" fill="#1e90ff"/>
<rect x="156" y="418" width="3" height="13" fill="#1e90ff"/>
<rect x="164" y="418" width="3" height="13" fill="#1e90ff"/>
<rect x="172" y="418" width="3" height="13" fill="#1e90ff"/>
<rect x="180" y="418" width="3" height="13" fill="#1e90ff"/>
<rect x="188" y="418" width="3" height="13" fill="#1e90ff"/>
<rect x="196" y="418" width="3" height="13" fill="#1e90ff"/>
<rect x="204" y="418" width="3" height="13" fill="#1e90ff"/>
<rect x="212" y="418" width="3" height="13" fill="#1e90ff"/>
<rect x="220" y="418" width="3" height="13" fill="#1e90ff"/>
<rect x="228" y="418" width="3" height="13" fill="#1e90ff"/>
<rect x="236" y="418" width="3" height="13" fill="#1e90ff"/>
<rect x="244" y="418" width="3" height="13" fill="#1e90ff"/>
<rect x="252" y="418" width="3" height="13" fill="#1e90ff"/>
<rect x="260" y="418" width="3" height="13" fill="#1e90ff"/>
<rect x="268" y="418" width="3" height="13" fill="#1e90ff"/>
<rect x="276" y="418" width="3" height="13" fill="#1e90ff"/>
<rect x="284" y="418" width="3" height="13" fill="#1e90ff"/>
<rect x="292" y="418" width="3" height="13" fill="#1e90ff"/>
<rect x="300" y="418" width="3" height="13" fill="#1e90ff"/>
<rect x="308" y="418" width="3" height="13" fill="#1e90ff"/>
<rect x="316" y="418" width="3" height="13" fill="#1e90ff"/>
<rect x="324" y="418" width="3" height="13" fill="#1e90ff"/>
<rect x="332" y="418" width="3" height="13" fill="#1e90ff"/>
<rect x="340" y="418" width="3" height="13" fill="#1e90ff"/>
<rect x="348" y="418" width="3" height="13" fill="#1e90ff"/>
<rect x="356" y="418" width="3" height="13" fill="#1e90ff"/>
<rect x="364" y="418" width="3" height="13" fill="#1e90ff"/>
<rect x="372" y="418" width="3" height="13" fill="#1e90ff"/>
<rect x="380" y="418" width="3" height="13" fill="#1e90ff"/>
<rect x="388" y="418" width="3" height="13" fill="#1e90ff"/>
<rect x="396" y="418" width="3" height="13" fill="#1e90ff"/>
<rect x="404" y="418" width="3" height="13" fill="#1e90ff"/>
<rect x="412" y="418" width="3" height="13" fill="#1e90ff"/>
<rect x="420" y="418" width="3" height="13" fill="#1e90ff"/>
<rect x="428" y="418" width="3" height="13" fill="#1e90ff"/>
<rect x="436" y="418" width="3" height="13" fill="#1e90ff"/>
<rect x="444" y="418" width="3" height="13" fill="#1e90ff"/>
<rect x="452" y="418" width="3" height="13" fill="#1e90ff"/>
<rect x="460" y="418" width="3" height="13" fill="#1e90ff"/>
<rect x="468" y="418" width="3" height="13" fill="#1e90ff"/>
<rect x="476" y="418" width="3" height="13" fill="#1e90ff"/>
<rect x="484" y="418" width="3" height="13" fill="#1e90ff"/>
<rect x="492" y="418" width="3" height="13" fill="#1e90ff"/>
<rect x="500" y="418" width="3" height="13" fill="#1e90ff"/>
<rect x="508" y="418" width="3" height="13" fill="#1e90ff"/>
<rect x="516" y="418" width="3" height="13" fill="#1e90ff"/>
<rect x="524" y="418" width="3" height="13" fill="#1e90ff"/>
<rect x="532" y="418" width="3" height="13" fill="#1e90ff"/>
<rect x="540" y="418" width="3" height="13" fill="#1e90ff"/>
<rect x="548" y="418" width="3" height="13" fill="#1e90ff"/>
<rect x="556" y="418" width="3" height="13" fill="#1e90ff"/>
<rect x="564" y="418" width="3" height="13" fill="#1e90ff"/>
<rect x="572" y="418" width="3" height="13" fill="#1e90ff"/>
<rect x="580" y="418" width="3" height="13" fill="#1e90ff"/>
<rect x="588" y="418" width="3" height="13" fill="#1e90ff"/>
<rect x="596" y="418" width="3" height="13" fill="#1e90ff"/>
<rect x="604" y="418" width="3" height="13" fill="#1e90ff"/>
<rect x="612" y="418" width="3" height="13" fill="#1e90ff"/>
<rect x="620" y="418" width="3" height="13" fill="#1e90ff"/>
<rect x="628" y="418" width="3" height="13" fill="#1e90ff"/>
<rect x="636" y="418" width="3" height="13" fill="#1e90ff"/>
<rect x="644" y="418" width="3" height="13" fill="#1e90ff"/>
<rect x="652" y="418" width="3" height="13" fill="#1e90ff"/>
<rect x="660" y="418" width="3" height="13" fill="#1e90ff"/>
<rect x="668" y="418" width="3" height="13" fill="#1e90ff"/>
<rect x="676" y="418" width="3" height="13" fill="#1e90ff"/>
<rect x="684" y="418" width="3" height="13" fill="#1e90ff"/>
<rect x="692" y="418" width="3" height="13" fill="#1e90ff"/>
<rect x="700" y="418" width="3" height="13" fill="#1e90ff"/>
<rect x="708" y="418" width="3" height="13" fill="#1e90ff"/>
<rect x="716" y="418" width="3" height="13" fill="#1e90ff"/>
<rect x="724" y="418" width="3" height="13" fill="#1e90ff"/>
<rect x="732" y="418" width="3" height="13" fill="#1e90ff"/>
<rect x="740" y="418" width="3" height="13" fill="#1e90ff"/>
<rect x="748" y="418" width="3" height="13" fill="#1e90ff"/>
<rect x="756" y="418" width="3" height="13" fill="#1e90ff"/>
<rect x="764" y="418" width="3" height="13" fill="#1e90ff"/>
<rect x="772" y="418" width="3" height="13" fill="#1e90ff"/>
<rect x="780" y="418" width="3" height="13" fill="#1e90ff"/>
<rect x="788" y="418" width="3" height="13" fill="#1e90ff"/>
<rect x="796" y="418" width="3" height="13" fill="#1e90ff"/>
<rect x="804" y="418" width="3" height="13" fill="#1e90ff"/>
<rect x="812" y="418" width="3" height="13" fill="#1e90ff"/>
<rect x="820" y="418" width="3" height="13" fill="#1e90ff"/>
<rect x="828" y="418" width="3" height="13" fill="#1e90ff"/>
<rect x="836" y="418" width="3" height="13" fill="#1e90ff"/>
<rect x="844" y="418" width="3" height="13" fill="#1e90ff"/>
<rect x="852" y="418" width="3" height="13" fill="#1e90ff"/>
<rect x="860" y="418" width="3" height="13" fill="#1e90ff"/>
<rect x="868" y="418" width="3" height="13" fill="#1e90ff"/>
<rect x="876" y="418" width="3" height="13" fill="#1e90ff"/>
<rect x="884" y="418" width="3" height="13" fill="#1e90ff"/>
<rect x="892" y="418" width="3" height="13" fill="#1e90ff"/>
<rect x="900" y="418" width="3" height="13" fill="#1e90ff"/>
<rect x="908" y="418" width="3" height="13" fill="#1e90ff"/>
<rect x="916" y="418" width="3" height="13" fill="#1e90ff"/>
<rect x="924" y="418" width="3" height="13" fill="#1e90ff"/>
<rect x="932" y="418" width="3" height="13" fill="#1e90ff"/>
<rect x="940" y="418" width="3" height="13" fill="#1e90ff"/>
<rect x="948" y="418" width="3" height="13" fill="#1e90ff"/>
<rect x="956" y="418" width="3" height="13" fill="#1e90ff"/>
<rect x="964" y="418" width="3" height="13" fill="#1e90ff"/>
<rect x="972" y="418" width="3" height="13" fill="#1e90ff"/>
<rect x="980" y="418" width="3" height="13" fill="#ff0000"/>
<rect x="988" y="418" width="3" height="13" fill="#ff0000"/>
<rect x="996" y="418" width="3" height="13" fill="#ff0000"/>
<rect x="1004" y="418" width="3" height="13" fill="#ff0000"/>
<rect x="1012" y="418" width="3" height="13" fill="#ff0000"/>
<rect x="1020" y="418" width="3" height="13" fill="#ff0000"/>
<rect x="1028" y="418" width="3" height="13" fill="#1e90ff"/>
<rect x="1036" y="418" width="3" height="13" fill="#1e90ff"/>
<rect x="1044" y="418" width="3" height="13" fill="#1e90ff"/>
<rect x="1052" y="418" width="3" height="13" fill="#1e90ff"/>
<rect x="1060" y="418" width="3" height="13" fill="#1e90ff"/>
<rect x="1068" y="418" width="3" height="13" fill="#1e90ff"/>
<rect x="1076" y="418" width="3" height="13" fill="#1e90ff"/>
<rect x="1084" y="418" width="3" height="13" fill="#1e90ff"/>
<rect x="1092" y="418" width="3" height="13" fill="#1e90ff"/>
<rect x="1100" y="418" width="3" height="13" fill="#1e90ff"/>
<rect x="1108" y="418" width="3" height="13" fill="#1e90ff"/>
<rect x="1116" y="418" width="3" height="13" fill="#1e90ff"/>
<rect x="1124" y="418" width="3" height="13" fill="#1e90ff"/>
<rect x="1132" y="418" width="3" height="13" fill="#1e90ff"/>
<rect x="1140" y="418" width="3" height="13" fill="#1e90ff"/>
<rect x="1148" y="418" width="3" height="13" fill="#1e90ff"/>
<rect x="1156" y="418" width="3" height="13" fill="#1e90ff"/>
<rect x="1164" y="418" width="3" height="13" fill="#1e90ff"/>
<rect x="1172" y="418" width="3" height="13" fill="#1e90ff"/>
<rect x="1180" y="418" width="3" height="13" fill="#1e90ff"/>
<rect x="1188" y="418" width="3" height="13" fill="#1e90ff"/>
<rect x="1196" y="418" width="3" height="13" fill="#1e90ff"/>
<rect x="1204" y="418" width="3" height="13" fill="#1e90ff"/>
<rect x="1212" y="418" width="3" height="13" fill="#1e90ff"/>
<rect x="1220" y="418" width="3" height="13" fill="#1e90ff"/>
<rect x="1228" y="418" width="3" height="13" fill="#1e90ff"/>
<rect x="1236" y="418" width="3" height="13" fill="#1e90ff"/>
<rect x="1244" y="418" width="3" height="13" fill="#1e90ff"/>
<rect x="1252" y="418" width="3" height="13" fill="#1e90ff"/>
<rect x="1260" y="418" width="3" height="13" fill="#1e90ff"/>
<rect x="1268" y="418" width="3" height="13" fill="#1e90ff"/>
<rect x="1276" y="418" width="3" height="13" fill="#ff0000"/>
<rect x="1284" y="418" width="3" height="13" fill="#ff0000"/>
<rect x="1292" y="418" width="3" height="13" fill="#ff0000"/>
<rect x="1300" y="418" width="3" height="13" fill="#ff0000"/>
<rect x="1308" y="418" width="3" height="13" fill="#ff0000"/>
<rect x="1316" y="418" width="3" height="13" fill="#ff0000"/>
<rect x="1324" y="418" width="3" height="13" fill="#ff0000"/>
<rect x="1332" y="418" width="3" height="13" fill="#ff0000"/>
<rect x="1340" y="418" width="3" height="13" fill="#ff0000"/>
<rect x="1348" y="418" width="3" height="13" fill="#ff0000"/>
<rect x="1356" y="418" width="3" height="13" fill="#ff0000"/>
<rect x="1364" y="418" width="3" height="13" fill="#ff0000"/>
<rect x="1372" y="418" width="3" height="13" fill="#ff0000"/>
<rect x="1380" y="418" width="3" height="13" fill="#ff0000"/>
<rect x="1388" y="418" width="3" height="13" fill="#ff0000"/>
<rect x="1396" y="418" width="3" height="13" fill="#ff0000"/>
<rect x="1404" y="418" width="3" height="13" fill="#ff0000"/>
<rect x="1412" y="418" width="3" height="13" fill="#ff0000"/>
<rect x="1420" y="418" width="3" height="13" fill="#ff0000"/>
<rect x="1428" y="418" width="3" height="13" fill="#ff0000"/>
<rect x="1436" y="418" width="3" height="13" fill="#ff0000"/>
<rect x="1444" y="418" width="3" height="13" fill="#ff0000"/>
<rect x="1452" y="418" width="3" height="13" fill="#ff0000"/>
<rect x="1460" y="418" width="3" height="13" fill="#ff0000"/>
<rect x="1468" y="418" width="3" height="13" fill="#ff0000"/>
</g>
<text x="8.8" y="432.7" font-size="12" fill="#fff" textLength="233.3" lengthAdjust="spacingAndGlyphs">H4 TEN_to_CHI_no_HISTOGRAM_ver_003</text>
<text x="248.5" y="432.7" font-size="12" fill="#fff" textLength="37.5" lengthAdjust="spacingAndGlyphs">1.0000</text>
</g>
<clipPath id="c2"><rect x="5" y="435" width="1849" height="10"/></clipPath>
<g clip-path="url(#c2)"><g shape-rendering="crispEdges">
<rect x="4" y="435" width="3" height="9" fill="#ff0000"/>
<rect x="12" y="435" width="3" height="9" fill="#ff0000"/>
<rect x="20" y="435" width="3" height="9" fill="#ff0000"/>
<rect x="28" y="435" width="3" height="9" fill="#ff0000"/>
<rect x="36" y="435" width="3" height="9" fill="#ff0000"/>
<rect x="44" y="435" width="3" height="9" fill="#ff0000"/>
<rect x="52" y="435" width="3" height="9" fill="#ff0000"/>
<rect x="60" y="435" width="3" height="9" fill="#ff0000"/>
<rect x="68" y="435" width="3" height="9" fill="#ff0000"/>
<rect x="76" y="435" width="3" height="9" fill="#ff0000"/>
<rect x="84" y="435" width="3" height="9" fill="#ff0000"/>
<rect x="92" y="435" width="3" height="9" fill="#ff0000"/>
<rect x="100" y="435" width="3" height="9" fill="#ff0000"/>
<rect x="108" y="435" width="3" height="9" fill="#ff0000"/>
<rect x="116" y="435" width="3" height="9" fill="#ff0000"/>
<rect x="124" y="435" width="3" height="9" fill="#ff0000"/>
<rect x="132" y="435" width="3" height="9" fill="#ff0000"/>
<rect x="140" y="435" width="3" height="9" fill="#ff0000"/>
<rect x="148" y="435" width="3" height="9" fill="#ff0000"/>
<rect x="156" y="435" width="3" height="9" fill="#ff0000"/>
<rect x="164" y="435" width="3" height="9" fill="#ff0000"/>
<rect x="172" y="435" width="3" height="9" fill="#ff0000"/>
<rect x="180" y="435" width="3" height="9" fill="#ff0000"/>
<rect x="188" y="435" width="3" height="9" fill="#ff0000"/>
<rect x="196" y="435" width="3" height="9" fill="#ff0000"/>
<rect x="204" y="435" width="3" height="9" fill="#ff0000"/>
<rect x="212" y="435" width="3" height="9" fill="#ff0000"/>
<rect x="220" y="435" width="3" height="9" fill="#ff0000"/>
<rect x="228" y="435" width="3" height="9" fill="#ff0000"/>
<rect x="236" y="435" width="3" height="9" fill="#ff0000"/>
<rect x="244" y="435" width="3" height="9" fill="#ff0000"/>
<rect x="252" y="435" width="3" height="9" fill="#ff0000"/>
<rect x="260" y="435" width="3" height="9" fill="#ff0000"/>
<rect x="268" y="435" width="3" height="9" fill="#ff0000"/>
<rect x="276" y="435" width="3" height="9" fill="#ff0000"/>
<rect x="284" y="435" width="3" height="9" fill="#ff0000"/>
<rect x="292" y="435" width="3" height="9" fill="#ff0000"/>
<rect x="300" y="435" width="3" height="9" fill="#ff0000"/>
<rect x="308" y="435" width="3" height="9" fill="#ff0000"/>
<rect x="316" y="435" width="3" height="9" fill="#ff0000"/>
<rect x="324" y="435" width="3" height="9" fill="#ff0000"/>
<rect x="332" y="435" width="3" height="9" fill="#ff0000"/>
<rect x="340" y="435" width="3" height="9" fill="#ff0000"/>
<rect x="348" y="435" width="3" height="9" fill="#ff0000"/>
<rect x="356" y="435" width="3" height="9" fill="#ff0000"/>
<rect x="364" y="435" width="3" height="9" fill="#ff0000"/>
<rect x="372" y="435" width="3" height="9" fill="#1e90ff"/>
<rect x="380" y="435" width="3" height="9" fill="#1e90ff"/>
<rect x="388" y="435" width="3" height="9" fill="#1e90ff"/>
<rect x="396" y="435" width="3" height="9" fill="#1e90ff"/>
<rect x="404" y="435" width="3" height="9" fill="#1e90ff"/>
<rect x="412" y="435" width="3" height="9" fill="#1e90ff"/>
<rect x="420" y="435" width="3" height="9" fill="#1e90ff"/>
<rect x="428" y="435" width="3" height="9" fill="#1e90ff"/>
<rect x="436" y="435" width="3" height="9" fill="#1e90ff"/>
<rect x="444" y="435" width="3" height="9" fill="#1e90ff"/>
<rect x="452" y="435" width="3" height="9" fill="#1e90ff"/>
<rect x="460" y="435" width="3" height="9" fill="#1e90ff"/>
<rect x="468" y="435" width="3" height="9" fill="#1e90ff"/>
<rect x="476" y="435" width="3" height="9" fill="#1e90ff"/>
<rect x="484" y="435" width="3" height="9" fill="#1e90ff"/>
<rect x="492" y="435" width="3" height="9" fill="#1e90ff"/>
<rect x="500" y="435" width="3" height="9" fill="#1e90ff"/>
<rect x="508" y="435" width="3" height="9" fill="#1e90ff"/>
<rect x="516" y="435" width="3" height="9" fill="#1e90ff"/>
<rect x="524" y="435" width="3" height="9" fill="#1e90ff"/>
<rect x="532" y="435" width="3" height="9" fill="#1e90ff"/>
<rect x="540" y="435" width="3" height="9" fill="#1e90ff"/>
<rect x="548" y="435" width="3" height="9" fill="#1e90ff"/>
<rect x="556" y="435" width="3" height="9" fill="#1e90ff"/>
<rect x="564" y="435" width="3" height="9" fill="#1e90ff"/>
<rect x="572" y="435" width="3" height="9" fill="#1e90ff"/>
<rect x="580" y="435" width="3" height="9" fill="#1e90ff"/>
<rect x="588" y="435" width="3" height="9" fill="#1e90ff"/>
<rect x="596" y="435" width="3" height="9" fill="#1e90ff"/>
<rect x="604" y="435" width="3" height="9" fill="#1e90ff"/>
<rect x="612" y="435" width="3" height="9" fill="#1e90ff"/>
<rect x="620" y="435" width="3" height="9" fill="#1e90ff"/>
<rect x="628" y="435" width="3" height="9" fill="#1e90ff"/>
<rect x="636" y="435" width="3" height="9" fill="#1e90ff"/>
<rect x="644" y="435" width="3" height="9" fill="#1e90ff"/>
<rect x="652" y="435" width="3" height="9" fill="#1e90ff"/>
<rect x="660" y="435" width="3" height="9" fill="#1e90ff"/>
<rect x="668" y="435" width="3" height="9" fill="#1e90ff"/>
<rect x="676" y="435" width="3" height="9" fill="#1e90ff"/>
<rect x="684" y="435" width="3" height="9" fill="#1e90ff"/>
<rect x="692" y="435" width="3" height="9" fill="#1e90ff"/>
<rect x="700" y="435" width="3" height="9" fill="#1e90ff"/>
<rect x="708" y="435" width="3" height="9" fill="#1e90ff"/>
<rect x="716" y="435" width="3" height="9" fill="#1e90ff"/>
<rect x="724" y="435" width="3" height="9" fill="#1e90ff"/>
<rect x="732" y="435" width="3" height="9" fill="#1e90ff"/>
<rect x="740" y="435" width="3" height="9" fill="#1e90ff"/>
<rect x="748" y="435" width="3" height="9" fill="#1e90ff"/>
<rect x="756" y="435" width="3" height="9" fill="#1e90ff"/>
<rect x="764" y="435" width="3" height="9" fill="#1e90ff"/>
<rect x="772" y="435" width="3" height="9" fill="#1e90ff"/>
<rect x="780" y="435" width="3" height="9" fill="#1e90ff"/>
<rect x="788" y="435" width="3" height="9" fill="#1e90ff"/>
<rect x="796" y="435" width="3" height="9" fill="#1e90ff"/>
<rect x="804" y="435" width="3" height="9" fill="#1e90ff"/>
<rect x="812" y="435" width="3" height="9" fill="#1e90ff"/>
<rect x="820" y="435" width="3" height="9" fill="#1e90ff"/>
<rect x="828" y="435" width="3" height="9" fill="#1e90ff"/>
<rect x="836" y="435" width="3" height="9" fill="#1e90ff"/>
<rect x="844" y="435" width="3" height="9" fill="#1e90ff"/>
<rect x="852" y="435" width="3" height="9" fill="#1e90ff"/>
<rect x="860" y="435" width="3" height="9" fill="#1e90ff"/>
<rect x="868" y="435" width="3" height="9" fill="#1e90ff"/>
<rect x="876" y="435" width="3" height="9" fill="#1e90ff"/>
<rect x="884" y="435" width="3" height="9" fill="#1e90ff"/>
<rect x="892" y="435" width="3" height="9" fill="#1e90ff"/>
<rect x="900" y="435" width="3" height="9" fill="#1e90ff"/>
<rect x="908" y="435" width="3" height="9" fill="#1e90ff"/>
<rect x="916" y="435" width="3" height="9" fill="#1e90ff"/>
<rect x="924" y="435" width="3" height="9" fill="#1e90ff"/>
<rect x="932" y="435" width="3" height="9" fill="#1e90ff"/>
<rect x="940" y="435" width="3" height="9" fill="#1e90ff"/>
<rect x="948" y="435" width="3" height="9" fill="#1e90ff"/>
<rect x="956" y="435" width="3" height="9" fill="#1e90ff"/>
<rect x="964" y="435" width="3" height="9" fill="#1e90ff"/>
<rect x="972" y="435" width="3" height="9" fill="#1e90ff"/>
<rect x="980" y="435" width="3" height="9" fill="#1e90ff"/>
<rect x="988" y="435" width="3" height="9" fill="#1e90ff"/>
<rect x="996" y="435" width="3" height="9" fill="#1e90ff"/>
<rect x="1004" y="435" width="3" height="9" fill="#1e90ff"/>
<rect x="1012" y="435" width="3" height="9" fill="#1e90ff"/>
<rect x="1020" y="435" width="3" height="9" fill="#1e90ff"/>
<rect x="1028" y="435" width="3" height="9" fill="#1e90ff"/>
<rect x="1036" y="435" width="3" height="9" fill="#1e90ff"/>
<rect x="1044" y="435" width="3" height="9" fill="#1e90ff"/>
<rect x="1052" y="435" width="3" height="9" fill="#1e90ff"/>
<rect x="1060" y="435" width="3" height="9" fill="#1e90ff"/>
<rect x="1068" y="435" width="3" height="9" fill="#1e90ff"/>
<rect x="1076" y="435" width="3" height="9" fill="#1e90ff"/>
<rect x="1084" y="435" width="3" height="9" fill="#1e90ff"/>
<rect x="1092" y="435" width="3" height="9" fill="#1e90ff"/>
<rect x="1100" y="435" width="3" height="9" fill="#1e90ff"/>
<rect x="1108" y="435" width="3" height="9" fill="#1e90ff"/>
<rect x="1116" y="435" width="3" height="9" fill="#1e90ff"/>
<rect x="1124" y="435" width="3" height="9" fill="#1e90ff"/>
<rect x="1132" y="435" width="3" height="9" fill="#1e90ff"/>
<rect x="1140" y="435" width="3" height="9" fill="#1e90ff"/>
<rect x="1148" y="435" width="3" height="9" fill="#1e90ff"/>
<rect x="1156" y="435" width="3" height="9" fill="#1e90ff"/>
<rect x="1164" y="435" width="3" height="9" fill="#1e90ff"/>
<rect x="1172" y="435" width="3" height="9" fill="#1e90ff"/>
<rect x="1180" y="435" width="3" height="9" fill="#1e90ff"/>
<rect x="1188" y="435" width="3" height="9" fill="#1e90ff"/>
<rect x="1196" y="435" width="3" height="9" fill="#1e90ff"/>
<rect x="1204" y="435" width="3" height="9" fill="#1e90ff"/>
<rect x="1212" y="435" width="3" height="9" fill="#1e90ff"/>
<rect x="1220" y="435" width="3" height="9" fill="#1e90ff"/>
<rect x="1228" y="435" width="3" height="9" fill="#1e90ff"/>
<rect x="1236" y="435" width="3" height="9" fill="#1e90ff"/>
<rect x="1244" y="435" width="3" height="9" fill="#1e90ff"/>
<rect x="1252" y="435" width="3" height="9" fill="#1e90ff"/>
<rect x="1260" y="435" width="3" height="9" fill="#1e90ff"/>
<rect x="1268" y="435" width="3" height="9" fill="#1e90ff"/>
<rect x="1276" y="435" width="3" height="9" fill="#1e90ff"/>
<rect x="1284" y="435" width="3" height="9" fill="#1e90ff"/>
<rect x="1292" y="435" width="3" height="9" fill="#1e90ff"/>
<rect x="1300" y="435" width="3" height="9" fill="#1e90ff"/>
<rect x="1308" y="435" width="3" height="9" fill="#1e90ff"/>
<rect x="1316" y="435" width="3" height="9" fill="#1e90ff"/>
<rect x="1324" y="435" width="3" height="9" fill="#1e90ff"/>
<rect x="1332" y="435" width="3" height="9" fill="#1e90ff"/>
<rect x="1340" y="435" width="3" height="9" fill="#1e90ff"/>
<rect x="1348" y="435" width="3" height="9" fill="#1e90ff"/>
<rect x="1356" y="435" width="3" height="9" fill="#1e90ff"/>
<rect x="1364" y="435" width="3" height="9" fill="#1e90ff"/>
<rect x="1372" y="435" width="3" height="9" fill="#1e90ff"/>
<rect x="1380" y="435" width="3" height="9" fill="#1e90ff"/>
<rect x="1388" y="435" width="3" height="9" fill="#1e90ff"/>
<rect x="1396" y="435" width="3" height="9" fill="#1e90ff"/>
<rect x="1404" y="435" width="3" height="9" fill="#1e90ff"/>
<rect x="1412" y="435" width="3" height="9" fill="#1e90ff"/>
<rect x="1420" y="435" width="3" height="9" fill="#1e90ff"/>
<rect x="1428" y="435" width="3" height="9" fill="#1e90ff"/>
<rect x="1436" y="435" width="3" height="9" fill="#1e90ff"/>
<rect x="1444" y="435" width="3" height="9" fill="#1e90ff"/>
<rect x="1452" y="435" width="3" height="9" fill="#1e90ff"/>
<rect x="1460" y="435" width="3" height="9" fill="#1e90ff"/>
<rect x="1468" y="435" width="3" height="9" fill="#1e90ff"/>
</g>
<text x="8.8" y="449.7" font-size="12" fill="#fff" textLength="233.3" lengthAdjust="spacingAndGlyphs">D1 TEN_to_CHI_no_HISTOGRAM_ver_003</text>
<text x="248.5" y="449.7" font-size="12" fill="#fff" textLength="37.5" lengthAdjust="spacingAndGlyphs">1.0000</text>
</g>
<clipPath id="c3"><rect x="5" y="448" width="1849" height="12"/></clipPath>
<g clip-path="url(#c3)"><g shape-rendering="crispEdges">
<rect x="4" y="448" width="3" height="11" fill="#ff0000"/>
<rect x="12" y="448" width="3" height="11" fill="#ff0000"/>
<rect x="20" y="448" width="3" height="11" fill="#ff0000"/>
<rect x="28" y="448" width="3" height="11" fill="#ff0000"/>
<rect x="36" y="448" width="3" height="11" fill="#ff0000"/>
<rect x="44" y="448" width="3" height="11" fill="#ff0000"/>
<rect x="52" y="448" width="3" height="11" fill="#ff0000"/>
<rect x="60" y="448" width="3" height="11" fill="#ff0000"/>
<rect x="68" y="448" width="3" height="11" fill="#ff0000"/>
<rect x="76" y="448" width="3" height="11" fill="#ff0000"/>
<rect x="84" y="448" width="3" height="11" fill="#ff0000"/>
<rect x="92" y="448" width="3" height="11" fill="#ff0000"/>
<rect x="100" y="448" width="3" height="11" fill="#ff0000"/>
<rect x="108" y="448" width="3" height="11" fill="#ff0000"/>
<rect x="116" y="448" width="3" height="11" fill="#ff0000"/>
<rect x="124" y="448" width="3" height="11" fill="#ff0000"/>
<rect x="132" y="448" width="3" height="11" fill="#ff0000"/>
<rect x="140" y="448" width="3" height="11" fill="#ff0000"/>
<rect x="148" y="448" width="3" height="11" fill="#ff0000"/>
<rect x="156" y="448" width="3" height="11" fill="#ff0000"/>
<rect x="164" y="448" width="3" height="11" fill="#ff0000"/>
<rect x="172" y="448" width="3" height="11" fill="#ff0000"/>
<rect x="180" y="448" width="3" height="11" fill="#ff0000"/>
<rect x="188" y="448" width="3" height="11" fill="#ff0000"/>
<rect x="196" y="448" width="3" height="11" fill="#ff0000"/>
<rect x="204" y="448" width="3" height="11" fill="#ff0000"/>
<rect x="212" y="448" width="3" height="11" fill="#ff0000"/>
<rect x="220" y="448" width="3" height="11" fill="#ff0000"/>
<rect x="228" y="448" width="3" height="11" fill="#ff0000"/>
<rect x="236" y="448" width="3" height="11" fill="#ff0000"/>
<rect x="244" y="448" width="3" height="11" fill="#ff0000"/>
<rect x="252" y="448" width="3" height="11" fill="#ff0000"/>
<rect x="260" y="448" width="3" height="11" fill="#ff0000"/>
<rect x="268" y="448" width="3" height="11" fill="#ff0000"/>
<rect x="276" y="448" width="3" height="11" fill="#ff0000"/>
<rect x="284" y="448" width="3" height="11" fill="#ff0000"/>
<rect x="292" y="448" width="3" height="11" fill="#ff0000"/>
<rect x="300" y="448" width="3" height="11" fill="#ff0000"/>
<rect x="308" y="448" width="3" height="11" fill="#ff0000"/>
<rect x="316" y="448" width="3" height="11" fill="#ff0000"/>
<rect x="324" y="448" width="3" height="11" fill="#ff0000"/>
<rect x="332" y="448" width="3" height="11" fill="#ff0000"/>
<rect x="340" y="448" width="3" height="11" fill="#ff0000"/>
<rect x="348" y="448" width="3" height="11" fill="#ff0000"/>
<rect x="356" y="448" width="3" height="11" fill="#ff0000"/>
<rect x="364" y="448" width="3" height="11" fill="#ff0000"/>
<rect x="372" y="448" width="3" height="11" fill="#ff0000"/>
<rect x="380" y="448" width="3" height="11" fill="#ff0000"/>
<rect x="388" y="448" width="3" height="11" fill="#ff0000"/>
<rect x="396" y="448" width="3" height="11" fill="#ff0000"/>
<rect x="404" y="448" width="3" height="11" fill="#ff0000"/>
<rect x="412" y="448" width="3" height="11" fill="#ff0000"/>
<rect x="420" y="448" width="3" height="11" fill="#ff0000"/>
<rect x="428" y="448" width="3" height="11" fill="#ff0000"/>
<rect x="436" y="448" width="3" height="11" fill="#ff0000"/>
<rect x="444" y="448" width="3" height="11" fill="#ff0000"/>
<rect x="452" y="448" width="3" height="11" fill="#ff0000"/>
<rect x="460" y="448" width="3" height="11" fill="#ff0000"/>
<rect x="468" y="448" width="3" height="11" fill="#ff0000"/>
<rect x="476" y="448" width="3" height="11" fill="#ff0000"/>
<rect x="484" y="448" width="3" height="11" fill="#ff0000"/>
<rect x="492" y="448" width="3" height="11" fill="#ff0000"/>
<rect x="500" y="448" width="3" height="11" fill="#ff0000"/>
<rect x="508" y="448" width="3" height="11" fill="#ff0000"/>
<rect x="516" y="448" width="3" height="11" fill="#ff0000"/>
<rect x="524" y="448" width="3" height="11" fill="#ff0000"/>
<rect x="532" y="448" width="3" height="11" fill="#ff0000"/>
<rect x="540" y="448" width="3" height="11" fill="#ff0000"/>
<rect x="548" y="448" width="3" height="11" fill="#ff0000"/>
<rect x="556" y="448" width="3" height="11" fill="#ff0000"/>
<rect x="564" y="448" width="3" height="11" fill="#ff0000"/>
<rect x="572" y="448" width="3" height="11" fill="#ff0000"/>
<rect x="580" y="448" width="3" height="11" fill="#ff0000"/>
<rect x="588" y="448" width="3" height="11" fill="#ff0000"/>
<rect x="596" y="448" width="3" height="11" fill="#ff0000"/>
<rect x="604" y="448" width="3" height="11" fill="#ff0000"/>
<rect x="612" y="448" width="3" height="11" fill="#ff0000"/>
<rect x="620" y="448" width="3" height="11" fill="#ff0000"/>
<rect x="628" y="448" width="3" height="11" fill="#ff0000"/>
<rect x="636" y="448" width="3" height="11" fill="#ff0000"/>
<rect x="644" y="448" width="3" height="11" fill="#ff0000"/>
<rect x="652" y="448" width="3" height="11" fill="#ff0000"/>
<rect x="660" y="448" width="3" height="11" fill="#ff0000"/>
<rect x="668" y="448" width="3" height="11" fill="#ff0000"/>
<rect x="676" y="448" width="3" height="11" fill="#ff0000"/>
<rect x="684" y="448" width="3" height="11" fill="#ff0000"/>
<rect x="692" y="448" width="3" height="11" fill="#ff0000"/>
<rect x="700" y="448" width="3" height="11" fill="#ff0000"/>
<rect x="708" y="448" width="3" height="11" fill="#ff0000"/>
<rect x="716" y="448" width="3" height="11" fill="#ff0000"/>
<rect x="724" y="448" width="3" height="11" fill="#ff0000"/>
<rect x="732" y="448" width="3" height="11" fill="#ff0000"/>
<rect x="740" y="448" width="3" height="11" fill="#ff0000"/>
<rect x="748" y="448" width="3" height="11" fill="#ff0000"/>
<rect x="756" y="448" width="3" height="11" fill="#ff0000"/>
<rect x="764" y="448" width="3" height="11" fill="#ff0000"/>
<rect x="772" y="448" width="3" height="11" fill="#ff0000"/>
<rect x="780" y="448" width="3" height="11" fill="#ff0000"/>
<rect x="788" y="448" width="3" height="11" fill="#ff0000"/>
<rect x="796" y="448" width="3" height="11" fill="#ff0000"/>
<rect x="804" y="448" width="3" height="11" fill="#ff0000"/>
<rect x="812" y="448" width="3" height="11" fill="#ff0000"/>
<rect x="820" y="448" width="3" height="11" fill="#ff0000"/>
<rect x="828" y="448" width="3" height="11" fill="#ff0000"/>
<rect x="836" y="448" width="3" height="11" fill="#ff0000"/>
<rect x="844" y="448" width="3" height="11" fill="#ff0000"/>
<rect x="852" y="448" width="3" height="11" fill="#ff0000"/>
<rect x="860" y="448" width="3" height="11" fill="#ff0000"/>
<rect x="868" y="448" width="3" height="11" fill="#ff0000"/>
<rect x="876" y="448" width="3" height="11" fill="#ff0000"/>
<rect x="884" y="448" width="3" height="11" fill="#ff0000"/>
<rect x="892" y="448" width="3" height="11" fill="#ff0000"/>
<rect x="900" y="448" width="3" height="11" fill="#ff0000"/>
<rect x="908" y="448" width="3" height="11" fill="#ff0000"/>
<rect x="916" y="448" width="3" height="11" fill="#ff0000"/>
<rect x="924" y="448" width="3" height="11" fill="#ff0000"/>
<rect x="932" y="448" width="3" height="11" fill="#ff0000"/>
<rect x="940" y="448" width="3" height="11" fill="#ff0000"/>
<rect x="948" y="448" width="3" height="11" fill="#ff0000"/>
<rect x="956" y="448" width="3" height="11" fill="#ff0000"/>
<rect x="964" y="448" width="3" height="11" fill="#ff0000"/>
<rect x="972" y="448" width="3" height="11" fill="#ff0000"/>
<rect x="980" y="448" width="3" height="11" fill="#ff0000"/>
<rect x="988" y="448" width="3" height="11" fill="#ff0000"/>
<rect x="996" y="448" width="3" height="11" fill="#ff0000"/>
<rect x="1004" y="448" width="3" height="11" fill="#ff0000"/>
<rect x="1012" y="448" width="3" height="11" fill="#ff0000"/>
<rect x="1020" y="448" width="3" height="11" fill="#ff0000"/>
<rect x="1028" y="448" width="3" height="11" fill="#ff0000"/>
<rect x="1036" y="448" width="3" height="11" fill="#ff0000"/>
<rect x="1044" y="448" width="3" height="11" fill="#ff0000"/>
<rect x="1052" y="448" width="3" height="11" fill="#ff0000"/>
<rect x="1060" y="448" width="3" height="11" fill="#ff0000"/>
<rect x="1068" y="448" width="3" height="11" fill="#ff0000"/>
<rect x="1076" y="448" width="3" height="11" fill="#ff0000"/>
<rect x="1084" y="448" width="3" height="11" fill="#ff0000"/>
<rect x="1092" y="448" width="3" height="11" fill="#ff0000"/>
<rect x="1100" y="448" width="3" height="11" fill="#ff0000"/>
<rect x="1108" y="448" width="3" height="11" fill="#ff0000"/>
<rect x="1116" y="448" width="3" height="11" fill="#ff0000"/>
<rect x="1124" y="448" width="3" height="11" fill="#ff0000"/>
<rect x="1132" y="448" width="3" height="11" fill="#ff0000"/>
<rect x="1140" y="448" width="3" height="11" fill="#ff0000"/>
<rect x="1148" y="448" width="3" height="11" fill="#ff0000"/>
<rect x="1156" y="448" width="3" height="11" fill="#ff0000"/>
<rect x="1164" y="448" width="3" height="11" fill="#ff0000"/>
<rect x="1172" y="448" width="3" height="11" fill="#ff0000"/>
<rect x="1180" y="448" width="3" height="11" fill="#ff0000"/>
<rect x="1188" y="448" width="3" height="11" fill="#ff0000"/>
<rect x="1196" y="448" width="3" height="11" fill="#ff0000"/>
<rect x="1204" y="448" width="3" height="11" fill="#ff0000"/>
<rect x="1212" y="448" width="3" height="11" fill="#ff0000"/>
<rect x="1220" y="448" width="3" height="11" fill="#ff0000"/>
<rect x="1228" y="448" width="3" height="11" fill="#ff0000"/>
<rect x="1236" y="448" width="3" height="11" fill="#ff0000"/>
<rect x="1244" y="448" width="3" height="11" fill="#ff0000"/>
<rect x="1252" y="448" width="3" height="11" fill="#ff0000"/>
<rect x="1260" y="448" width="3" height="11" fill="#ff0000"/>
<rect x="1268" y="448" width="3" height="11" fill="#ff0000"/>
<rect x="1276" y="448" width="3" height="11" fill="#ff0000"/>
<rect x="1284" y="448" width="3" height="11" fill="#ff0000"/>
<rect x="1292" y="448" width="3" height="11" fill="#ff0000"/>
<rect x="1300" y="448" width="3" height="11" fill="#ff0000"/>
<rect x="1308" y="448" width="3" height="11" fill="#ff0000"/>
<rect x="1316" y="448" width="3" height="11" fill="#ff0000"/>
<rect x="1324" y="448" width="3" height="11" fill="#ff0000"/>
<rect x="1332" y="448" width="3" height="11" fill="#ff0000"/>
<rect x="1340" y="448" width="3" height="11" fill="#ff0000"/>
<rect x="1348" y="448" width="3" height="11" fill="#ff0000"/>
<rect x="1356" y="448" width="3" height="11" fill="#ff0000"/>
<rect x="1364" y="448" width="3" height="11" fill="#ff0000"/>
<rect x="1372" y="448" width="3" height="11" fill="#ff0000"/>
<rect x="1380" y="448" width="3" height="11" fill="#ff0000"/>
<rect x="1388" y="448" width="3" height="11" fill="#ff0000"/>
<rect x="1396" y="448" width="3" height="11" fill="#ff0000"/>
<rect x="1404" y="448" width="3" height="11" fill="#ff0000"/>
<rect x="1412" y="448" width="3" height="11" fill="#ff0000"/>
<rect x="1420" y="448" width="3" height="11" fill="#ff0000"/>
<rect x="1428" y="448" width="3" height="11" fill="#ff0000"/>
<rect x="1436" y="448" width="3" height="11" fill="#ff0000"/>
<rect x="1444" y="448" width="3" height="11" fill="#ff0000"/>
<rect x="1452" y="448" width="3" height="11" fill="#ff0000"/>
<rect x="1460" y="448" width="3" height="11" fill="#ff0000"/>
<rect x="1468" y="448" width="3" height="11" fill="#ff0000"/>
</g>
<text x="8.8" y="462.7" font-size="12" fill="#fff" textLength="236.3" lengthAdjust="spacingAndGlyphs">W1 TEN_to_CHI_no_HISTOGRAM_ver_003</text>
<text x="251.5" y="462.7" font-size="12" fill="#fff" textLength="37.5" lengthAdjust="spacingAndGlyphs">1.0000</text>
</g>
<clipPath id="c4"><rect x="5" y="463" width="1849" height="14"/></clipPath>
<g clip-path="url(#c4)"><g shape-rendering="crispEdges">
<rect x="4" y="463" width="3" height="13" fill="#ff0000"/>
<rect x="12" y="463" width="3" height="13" fill="#ff0000"/>
<rect x="20" y="463" width="3" height="13" fill="#ff0000"/>
<rect x="28" y="463" width="3" height="13" fill="#ff0000"/>
<rect x="36" y="463" width="3" height="13" fill="#ff0000"/>
<rect x="44" y="463" width="3" height="13" fill="#ff0000"/>
<rect x="52" y="463" width="3" height="13" fill="#ff0000"/>
<rect x="60" y="463" width="3" height="13" fill="#ff0000"/>
<rect x="68" y="463" width="3" height="13" fill="#ff0000"/>
<rect x="76" y="463" width="3" height="13" fill="#ff0000"/>
<rect x="84" y="463" width="3" height="13" fill="#ff0000"/>
<rect x="92" y="463" width="3" height="13" fill="#ff0000"/>
<rect x="100" y="463" width="3" height="13" fill="#ff0000"/>
<rect x="108" y="463" width="3" height="13" fill="#ff0000"/>
<rect x="116" y="463" width="3" height="13" fill="#ff0000"/>
<rect x="124" y="463" width="3" height="13" fill="#ff0000"/>
<rect x="132" y="463" width="3" height="13" fill="#ff0000"/>
<rect x="140" y="463" width="3" height="13" fill="#ff0000"/>
<rect x="148" y="463" width="3" height="13" fill="#ff0000"/>
<rect x="156" y="463" width="3" height="13" fill="#ff0000"/>
<rect x="164" y="463" width="3" height="13" fill="#ff0000"/>
<rect x="172" y="463" width="3" height="13" fill="#ff0000"/>
<rect x="180" y="463" width="3" height="13" fill="#ff0000"/>
<rect x="188" y="463" width="3" height="13" fill="#ff0000"/>
<rect x="196" y="463" width="3" height="13" fill="#ff0000"/>
<rect x="204" y="463" width="3" height="13" fill="#ff0000"/>
<rect x="212" y="463" width="3" height="13" fill="#ff0000"/>
<rect x="220" y="463" width="3" height="13" fill="#ff0000"/>
<rect x="228" y="463" width="3" height="13" fill="#ff0000"/>
<rect x="236" y="463" width="3" height="13" fill="#ff0000"/>
<rect x="244" y="463" width="3" height="13" fill="#ff0000"/>
<rect x="252" y="463" width="3" height="13" fill="#ff0000"/>
<rect x="260" y="463" width="3" height="13" fill="#ff0000"/>
<rect x="268" y="463" width="3" height="13" fill="#ff0000"/>
<rect x="276" y="463" width="3" height="13" fill="#ff0000"/>
<rect x="284" y="463" width="3" height="13" fill="#ff0000"/>
<rect x="292" y="463" width="3" height="13" fill="#ff0000"/>
<rect x="300" y="463" width="3" height="13" fill="#ff0000"/>
<rect x="308" y="463" width="3" height="13" fill="#ff0000"/>
<rect x="316" y="463" width="3" height="13" fill="#ff0000"/>
<rect x="324" y="463" width="3" height="13" fill="#ff0000"/>
<rect x="332" y="463" width="3" height="13" fill="#ff0000"/>
<rect x="340" y="463" width="3" height="13" fill="#ff0000"/>
<rect x="348" y="463" width="3" height="13" fill="#ff0000"/>
<rect x="356" y="463" width="3" height="13" fill="#ff0000"/>
<rect x="364" y="463" width="3" height="13" fill="#ff0000"/>
<rect x="372" y="463" width="3" height="13" fill="#ff0000"/>
<rect x="380" y="463" width="3" height="13" fill="#ff0000"/>
<rect x="388" y="463" width="3" height="13" fill="#ff0000"/>
<rect x="396" y="463" width="3" height="13" fill="#ff0000"/>
<rect x="404" y="463" width="3" height="13" fill="#ff0000"/>
<rect x="412" y="463" width="3" height="13" fill="#ff0000"/>
<rect x="420" y="463" width="3" height="13" fill="#ff0000"/>
<rect x="428" y="463" width="3" height="13" fill="#ff0000"/>
<rect x="436" y="463" width="3" height="13" fill="#ff0000"/>
<rect x="444" y="463" width="3" height="13" fill="#ff0000"/>
<rect x="452" y="463" width="3" height="13" fill="#ff0000"/>
<rect x="460" y="463" width="3" height="13" fill="#ff0000"/>
<rect x="468" y="463" width="3" height="13" fill="#ff0000"/>
<rect x="476" y="463" width="3" height="13" fill="#ff0000"/>
<rect x="484" y="463" width="3" height="13" fill="#ff0000"/>
<rect x="492" y="463" width="3" height="13" fill="#ff0000"/>
<rect x="500" y="463" width="3" height="13" fill="#ff0000"/>
<rect x="508" y="463" width="3" height="13" fill="#ff0000"/>
<rect x="516" y="463" width="3" height="13" fill="#ff0000"/>
<rect x="524" y="463" width="3" height="13" fill="#ff0000"/>
<rect x="532" y="463" width="3" height="13" fill="#ff0000"/>
<rect x="540" y="463" width="3" height="13" fill="#ff0000"/>
<rect x="548" y="463" width="3" height="13" fill="#ff0000"/>
<rect x="556" y="463" width="3" height="13" fill="#ff0000"/>
<rect x="564" y="463" width="3" height="13" fill="#ff0000"/>
<rect x="572" y="463" width="3" height="13" fill="#ff0000"/>
<rect x="580" y="463" width="3" height="13" fill="#ff0000"/>
<rect x="588" y="463" width="3" height="13" fill="#ff0000"/>
<rect x="596" y="463" width="3" height="13" fill="#ff0000"/>
<rect x="604" y="463" width="3" height="13" fill="#ff0000"/>
<rect x="612" y="463" width="3" height="13" fill="#ff0000"/>
<rect x="620" y="463" width="3" height="13" fill="#ff0000"/>
<rect x="628" y="463" width="3" height="13" fill="#ff0000"/>
<rect x="636" y="463" width="3" height="13" fill="#ff0000"/>
<rect x="644" y="463" width="3" height="13" fill="#ff0000"/>
<rect x="652" y="463" width="3" height="13" fill="#ff0000"/>
<rect x="660" y="463" width="3" height="13" fill="#ff0000"/>
<rect x="668" y="463" width="3" height="13" fill="#ff0000"/>
<rect x="676" y="463" width="3" height="13" fill="#ff0000"/>
<rect x="684" y="463" width="3" height="13" fill="#ff0000"/>
<rect x="692" y="463" width="3" height="13" fill="#ff0000"/>
<rect x="700" y="463" width="3" height="13" fill="#ff0000"/>
<rect x="708" y="463" width="3" height="13" fill="#ff0000"/>
<rect x="716" y="463" width="3" height="13" fill="#ff0000"/>
<rect x="724" y="463" width="3" height="13" fill="#ff0000"/>
<rect x="732" y="463" width="3" height="13" fill="#ff0000"/>
<rect x="740" y="463" width="3" height="13" fill="#ff0000"/>
<rect x="748" y="463" width="3" height="13" fill="#ff0000"/>
<rect x="756" y="463" width="3" height="13" fill="#ff0000"/>
<rect x="764" y="463" width="3" height="13" fill="#ff0000"/>
<rect x="772" y="463" width="3" height="13" fill="#ff0000"/>
<rect x="780" y="463" width="3" height="13" fill="#ff0000"/>
<rect x="788" y="463" width="3" height="13" fill="#ff0000"/>
<rect x="796" y="463" width="3" height="13" fill="#ff0000"/>
<rect x="804" y="463" width="3" height="13" fill="#ff0000"/>
<rect x="812" y="463" width="3" height="13" fill="#ff0000"/>
<rect x="820" y="463" width="3" height="13" fill="#ff0000"/>
<rect x="828" y="463" width="3" height="13" fill="#ff0000"/>
<rect x="836" y="463" width="3" height="13" fill="#ff0000"/>
<rect x="844" y="463" width="3" height="13" fill="#ff0000"/>
<rect x="852" y="463" width="3" height="13" fill="#ff0000"/>
<rect x="860" y="463" width="3" height="13" fill="#ff0000"/>
<rect x="868" y="463" width="3" height="13" fill="#ff0000"/>
<rect x="876" y="463" width="3" height="13" fill="#ff0000"/>
<rect x="884" y="463" width="3" height="13" fill="#ff0000"/>
<rect x="892" y="463" width="3" height="13" fill="#ff0000"/>
<rect x="900" y="463" width="3" height="13" fill="#ff0000"/>
<rect x="908" y="463" width="3" height="13" fill="#ff0000"/>
<rect x="916" y="463" width="3" height="13" fill="#ff0000"/>
<rect x="924" y="463" width="3" height="13" fill="#ff0000"/>
<rect x="932" y="463" width="3" height="13" fill="#ff0000"/>
<rect x="940" y="463" width="3" height="13" fill="#ff0000"/>
<rect x="948" y="463" width="3" height="13" fill="#ff0000"/>
<rect x="956" y="463" width="3" height="13" fill="#ff0000"/>
<rect x="964" y="463" width="3" height="13" fill="#ff0000"/>
<rect x="972" y="463" width="3" height="13" fill="#ff0000"/>
<rect x="980" y="463" width="3" height="13" fill="#ff0000"/>
<rect x="988" y="463" width="3" height="13" fill="#ff0000"/>
<rect x="996" y="463" width="3" height="13" fill="#ff0000"/>
<rect x="1004" y="463" width="3" height="13" fill="#ff0000"/>
<rect x="1012" y="463" width="3" height="13" fill="#ff0000"/>
<rect x="1020" y="463" width="3" height="13" fill="#ff0000"/>
<rect x="1028" y="463" width="3" height="13" fill="#ff0000"/>
<rect x="1036" y="463" width="3" height="13" fill="#ff0000"/>
<rect x="1044" y="463" width="3" height="13" fill="#ff0000"/>
<rect x="1052" y="463" width="3" height="13" fill="#ff0000"/>
<rect x="1060" y="463" width="3" height="13" fill="#ff0000"/>
<rect x="1068" y="463" width="3" height="13" fill="#ff0000"/>
<rect x="1076" y="463" width="3" height="13" fill="#ff0000"/>
<rect x="1084" y="463" width="3" height="13" fill="#ff0000"/>
<rect x="1092" y="463" width="3" height="13" fill="#ff0000"/>
<rect x="1100" y="463" width="3" height="13" fill="#ff0000"/>
<rect x="1108" y="463" width="3" height="13" fill="#ff0000"/>
<rect x="1116" y="463" width="3" height="13" fill="#ff0000"/>
<rect x="1124" y="463" width="3" height="13" fill="#ff0000"/>
<rect x="1132" y="463" width="3" height="13" fill="#ff0000"/>
<rect x="1140" y="463" width="3" height="13" fill="#ff0000"/>
<rect x="1148" y="463" width="3" height="13" fill="#ff0000"/>
<rect x="1156" y="463" width="3" height="13" fill="#ff0000"/>
<rect x="1164" y="463" width="3" height="13" fill="#ff0000"/>
<rect x="1172" y="463" width="3" height="13" fill="#ff0000"/>
<rect x="1180" y="463" width="3" height="13" fill="#ff0000"/>
<rect x="1188" y="463" width="3" height="13" fill="#ff0000"/>
<rect x="1196" y="463" width="3" height="13" fill="#ff0000"/>
<rect x="1204" y="463" width="3" height="13" fill="#ff0000"/>
<rect x="1212" y="463" width="3" height="13" fill="#ff0000"/>
<rect x="1220" y="463" width="3" height="13" fill="#ff0000"/>
<rect x="1228" y="463" width="3" height="13" fill="#ff0000"/>
<rect x="1236" y="463" width="3" height="13" fill="#ff0000"/>
<rect x="1244" y="463" width="3" height="13" fill="#ff0000"/>
<rect x="1252" y="463" width="3" height="13" fill="#ff0000"/>
<rect x="1260" y="463" width="3" height="13" fill="#ff0000"/>
<rect x="1268" y="463" width="3" height="13" fill="#ff0000"/>
<rect x="1276" y="463" width="3" height="13" fill="#ff0000"/>
<rect x="1284" y="463" width="3" height="13" fill="#ff0000"/>
<rect x="1292" y="463" width="3" height="13" fill="#ff0000"/>
<rect x="1300" y="463" width="3" height="13" fill="#ff0000"/>
<rect x="1308" y="463" width="3" height="13" fill="#ff0000"/>
<rect x="1316" y="463" width="3" height="13" fill="#ff0000"/>
<rect x="1324" y="463" width="3" height="13" fill="#ff0000"/>
<rect x="1332" y="463" width="3" height="13" fill="#ff0000"/>
<rect x="1340" y="463" width="3" height="13" fill="#ff0000"/>
<rect x="1348" y="463" width="3" height="13" fill="#ff0000"/>
<rect x="1356" y="463" width="3" height="13" fill="#ff0000"/>
<rect x="1364" y="463" width="3" height="13" fill="#ff0000"/>
<rect x="1372" y="463" width="3" height="13" fill="#ff0000"/>
<rect x="1380" y="463" width="3" height="13" fill="#ff0000"/>
<rect x="1388" y="463" width="3" height="13" fill="#ff0000"/>
<rect x="1396" y="463" width="3" height="13" fill="#ff0000"/>
<rect x="1404" y="463" width="3" height="13" fill="#ff0000"/>
<rect x="1412" y="463" width="3" height="13" fill="#ff0000"/>
<rect x="1420" y="463" width="3" height="13" fill="#ff0000"/>
<rect x="1428" y="463" width="3" height="13" fill="#ff0000"/>
<rect x="1436" y="463" width="3" height="13" fill="#ff0000"/>
<rect x="1444" y="463" width="3" height="13" fill="#ff0000"/>
<rect x="1452" y="463" width="3" height="13" fill="#ff0000"/>
<rect x="1460" y="463" width="3" height="13" fill="#ff0000"/>
<rect x="1468" y="463" width="3" height="13" fill="#ff0000"/>
</g>
<text x="8.8" y="477.7" font-size="12" fill="#fff" textLength="235.3" lengthAdjust="spacingAndGlyphs">MN TEN_to_CHI_no_HISTOGRAM_ver_003</text>
<text x="250.5" y="477.7" font-size="12" fill="#fff" textLength="37.5" lengthAdjust="spacingAndGlyphs">1.0000</text>
</g>
<clipPath id="ax0"><rect x="1856" y="418" width="40" height="14"/></clipPath><g clip-path="url(#ax0)">
<text x="1858.3" y="430" font-size="12.5" fill="#fff">0</text>
<text x="1858.3" y="430.8" font-size="12.5" fill="#fff">1</text>
</g>
<clipPath id="ax1"><rect x="1856" y="435" width="40" height="10"/></clipPath><g clip-path="url(#ax1)">
<text x="1858.3" y="445.5" font-size="12.5" fill="#fff">0</text>
<text x="1858.3" y="446.3" font-size="12.5" fill="#fff">1</text>
</g>
<clipPath id="ax2"><rect x="1856" y="448" width="40" height="12"/></clipPath><g clip-path="url(#ax2)">
<text x="1858.3" y="458.5" font-size="12.5" fill="#fff">0</text>
<text x="1858.3" y="459.3" font-size="12.5" fill="#fff">1</text>
</g>
<clipPath id="ax3"><rect x="1856" y="463" width="40" height="14"/></clipPath><g clip-path="url(#ax3)">
<text x="1858.3" y="475.5" font-size="12.5" fill="#fff">0</text>
<text x="1858.3" y="476.3" font-size="12.5" fill="#fff">1</text>
</g>
<clipPath id="c5"><rect x="5" y="480" width="1849" height="119"/></clipPath>
<g clip-path="url(#c5)"><g shape-rendering="crispEdges">
<line x1="6" y1="497.5" x2="1593" y2="497.5" stroke="#d0d0d0" stroke-width="1" stroke-dasharray="3 3"/>
<line x1="6" y1="539.5" x2="1593" y2="539.5" stroke="#d0d0d0" stroke-width="1" stroke-dasharray="3 3"/>
<line x1="6" y1="582.5" x2="1593" y2="582.5" stroke="#d0d0d0" stroke-width="1" stroke-dasharray="3 3"/>
<rect x="2" y="522" width="5" height="5" fill="#0000ff"/>
<rect x="10" y="513" width="5" height="5" fill="#0000ff"/>
<rect x="18" y="506" width="5" height="5" fill="#0000ff"/>
<rect x="26" y="501" width="5" height="5" fill="#0000ff"/>
<rect x="34" y="498" width="5" height="5" fill="#0000ff"/>
<rect x="42" y="495" width="5" height="5" fill="#0000ff"/>
<rect x="50" y="492" width="5" height="5" fill="#0000ff"/>
<rect x="58" y="490" width="5" height="5" fill="#0000ff"/>
<rect x="66" y="488" width="5" height="5" fill="#0000ff"/>
<rect x="74" y="488" width="5" height="5" fill="#0000ff"/>
<rect x="82" y="488" width="5" height="5" fill="#0000ff"/>
<rect x="90" y="487" width="5" height="5" fill="#0000ff"/>
<rect x="98" y="487" width="5" height="5" fill="#0000ff"/>
<rect x="106" y="486" width="5" height="5" fill="#0000ff"/>
<rect x="114" y="486" width="5" height="5" fill="#0000ff"/>
<rect x="122" y="486" width="5" height="5" fill="#0000ff"/>
<rect x="130" y="486" width="5" height="5" fill="#0000ff"/>
<rect x="138" y="485" width="5" height="5" fill="#0000ff"/>
<rect x="146" y="485" width="5" height="5" fill="#0000ff"/>
<rect x="154" y="484" width="5" height="5" fill="#0000ff"/>
<rect x="162" y="484" width="5" height="5" fill="#0000ff"/>
<rect x="170" y="484" width="5" height="5" fill="#0000ff"/>
<rect x="178" y="484" width="5" height="5" fill="#0000ff"/>
<rect x="186" y="484" width="5" height="5" fill="#0000ff"/>
<rect x="194" y="484" width="5" height="5" fill="#0000ff"/>
<rect x="202" y="484" width="5" height="5" fill="#0000ff"/>
<rect x="210" y="484" width="5" height="5" fill="#0000ff"/>
<rect x="218" y="484" width="5" height="5" fill="#0000ff"/>
<rect x="226" y="484" width="5" height="5" fill="#0000ff"/>
<rect x="234" y="484" width="5" height="5" fill="#ff0000"/>
<rect x="242" y="486" width="5" height="5" fill="#ff0000"/>
<rect x="250" y="497" width="5" height="5" fill="#ff0000"/>
<rect x="258" y="512" width="5" height="5" fill="#ff0000"/>
<rect x="266" y="524" width="5" height="5" fill="#ff0000"/>
<rect x="274" y="531" width="5" height="5" fill="#ff0000"/>
<rect x="282" y="537" width="5" height="5" fill="#ff0000"/>
<rect x="290" y="545" width="5" height="5" fill="#ff0000"/>
<rect x="298" y="552" width="5" height="5" fill="#ff0000"/>
<rect x="306" y="558" width="5" height="5" fill="#ff0000"/>
<rect x="314" y="563" width="5" height="5" fill="#ff0000"/>
<rect x="322" y="568" width="5" height="5" fill="#ff0000"/>
<rect x="330" y="572" width="5" height="5" fill="#ff0000"/>
<rect x="338" y="575" width="5" height="5" fill="#ff0000"/>
<rect x="346" y="577" width="5" height="5" fill="#ff0000"/>
<rect x="354" y="574" width="5" height="5" fill="#0000ff"/>
<rect x="362" y="568" width="5" height="5" fill="#0000ff"/>
<rect x="370" y="561" width="5" height="5" fill="#0000ff"/>
<rect x="378" y="557" width="5" height="5" fill="#0000ff"/>
<rect x="386" y="553" width="5" height="5" fill="#0000ff"/>
<rect x="394" y="546" width="5" height="5" fill="#0000ff"/>
<rect x="402" y="540" width="5" height="5" fill="#0000ff"/>
<rect x="410" y="533" width="5" height="5" fill="#0000ff"/>
<rect x="418" y="528" width="5" height="5" fill="#0000ff"/>
<rect x="426" y="524" width="5" height="5" fill="#0000ff"/>
<rect x="434" y="521" width="5" height="5" fill="#0000ff"/>
<rect x="442" y="518" width="5" height="5" fill="#0000ff"/>
<rect x="450" y="515" width="5" height="5" fill="#0000ff"/>
<rect x="458" y="512" width="5" height="5" fill="#0000ff"/>
<rect x="466" y="509" width="5" height="5" fill="#0000ff"/>
<rect x="474" y="506" width="5" height="5" fill="#0000ff"/>
<rect x="482" y="504" width="5" height="5" fill="#0000ff"/>
<rect x="490" y="502" width="5" height="5" fill="#0000ff"/>
<rect x="498" y="499" width="5" height="5" fill="#0000ff"/>
<rect x="506" y="497" width="5" height="5" fill="#0000ff"/>
<rect x="514" y="495" width="5" height="5" fill="#0000ff"/>
<rect x="522" y="495" width="5" height="5" fill="#0000ff"/>
<rect x="530" y="492" width="5" height="5" fill="#0000ff"/>
<rect x="538" y="490" width="5" height="5" fill="#0000ff"/>
<rect x="546" y="489" width="5" height="5" fill="#0000ff"/>
<rect x="554" y="488" width="5" height="5" fill="#0000ff"/>
<rect x="562" y="486" width="5" height="5" fill="#0000ff"/>
<rect x="570" y="486" width="5" height="5" fill="#0000ff"/>
<rect x="578" y="486" width="5" height="5" fill="#ff0000"/>
<rect x="586" y="489" width="5" height="5" fill="#ff0000"/>
<rect x="594" y="496" width="5" height="5" fill="#ff0000"/>
<rect x="602" y="500" width="5" height="5" fill="#ff0000"/>
<rect x="610" y="502" width="5" height="5" fill="#ff0000"/>
<rect x="618" y="502" width="5" height="5" fill="#ff0000"/>
<rect x="626" y="501" width="5" height="5" fill="#0000ff"/>
<rect x="634" y="500" width="5" height="5" fill="#ff0000"/>
<rect x="642" y="509" width="5" height="5" fill="#ff0000"/>
<rect x="650" y="525" width="5" height="5" fill="#ff0000"/>
<rect x="658" y="540" width="5" height="5" fill="#ff0000"/>
<rect x="666" y="541" width="5" height="5" fill="#ff0000"/>
<rect x="674" y="531" width="5" height="5" fill="#0000ff"/>
<rect x="682" y="518" width="5" height="5" fill="#0000ff"/>
<rect x="690" y="508" width="5" height="5" fill="#0000ff"/>
<rect x="698" y="500" width="5" height="5" fill="#0000ff"/>
<rect x="706" y="495" width="5" height="5" fill="#0000ff"/>
<rect x="714" y="495" width="5" height="5" fill="#0000ff"/>
<rect x="722" y="489" width="5" height="5" fill="#0000ff"/>
<rect x="730" y="487" width="5" height="5" fill="#0000ff"/>
<rect x="738" y="486" width="5" height="5" fill="#0000ff"/>
<rect x="746" y="485" width="5" height="5" fill="#0000ff"/>
<rect x="754" y="484" width="5" height="5" fill="#0000ff"/>
<rect x="762" y="484" width="5" height="5" fill="#0000ff"/>
<rect x="770" y="484" width="5" height="5" fill="#0000ff"/>
<rect x="778" y="484" width="5" height="5" fill="#0000ff"/>
<rect x="786" y="484" width="5" height="5" fill="#0000ff"/>
<rect x="794" y="484" width="5" height="5" fill="#0000ff"/>
<rect x="802" y="484" width="5" height="5" fill="#0000ff"/>
<rect x="810" y="484" width="5" height="5" fill="#0000ff"/>
<rect x="818" y="484" width="5" height="5" fill="#0000ff"/>
<rect x="826" y="484" width="5" height="5" fill="#0000ff"/>
<rect x="834" y="484" width="5" height="5" fill="#0000ff"/>
<rect x="842" y="484" width="5" height="5" fill="#0000ff"/>
<rect x="850" y="484" width="5" height="5" fill="#0000ff"/>
<rect x="858" y="484" width="5" height="5" fill="#0000ff"/>
<rect x="866" y="484" width="5" height="5" fill="#0000ff"/>
<rect x="874" y="484" width="5" height="5" fill="#0000ff"/>
<rect x="882" y="484" width="5" height="5" fill="#0000ff"/>
<rect x="890" y="484" width="5" height="5" fill="#0000ff"/>
<rect x="898" y="484" width="5" height="5" fill="#0000ff"/>
<rect x="906" y="484" width="5" height="5" fill="#0000ff"/>
<rect x="914" y="484" width="5" height="5" fill="#0000ff"/>
<rect x="922" y="484" width="5" height="5" fill="#0000ff"/>
<rect x="930" y="484" width="5" height="5" fill="#ff0000"/>
<rect x="938" y="490" width="5" height="5" fill="#ff0000"/>
<rect x="946" y="503" width="5" height="5" fill="#ff0000"/>
<rect x="954" y="519" width="5" height="5" fill="#ff0000"/>
<rect x="962" y="535" width="5" height="5" fill="#ff0000"/>
<rect x="970" y="548" width="5" height="5" fill="#ff0000"/>
<rect x="978" y="558" width="5" height="5" fill="#ff0000"/>
<rect x="986" y="565" width="5" height="5" fill="#ff0000"/>
<rect x="994" y="570" width="5" height="5" fill="#ff0000"/>
<rect x="1002" y="574" width="5" height="5" fill="#ff0000"/>
<rect x="1010" y="576" width="5" height="5" fill="#ff0000"/>
<rect x="1018" y="579" width="5" height="5" fill="#ff0000"/>
<rect x="1026" y="578" width="5" height="5" fill="#0000ff"/>
<rect x="1034" y="575" width="5" height="5" fill="#0000ff"/>
<rect x="1042" y="568" width="5" height="5" fill="#0000ff"/>
<rect x="1050" y="560" width="5" height="5" fill="#0000ff"/>
<rect x="1058" y="553" width="5" height="5" fill="#0000ff"/>
<rect x="1066" y="544" width="5" height="5" fill="#0000ff"/>
<rect x="1074" y="536" width="5" height="5" fill="#0000ff"/>
<rect x="1082" y="529" width="5" height="5" fill="#0000ff"/>
<rect x="1090" y="523" width="5" height="5" fill="#0000ff"/>
<rect x="1098" y="518" width="5" height="5" fill="#0000ff"/>
<rect x="1106" y="514" width="5" height="5" fill="#0000ff"/>
<rect x="1114" y="510" width="5" height="5" fill="#0000ff"/>
<rect x="1122" y="509" width="5" height="5" fill="#ff0000"/>
<rect x="1130" y="509" width="5" height="5" fill="#ff0000"/>
<rect x="1138" y="512" width="5" height="5" fill="#ff0000"/>
<rect x="1146" y="515" width="5" height="5" fill="#ff0000"/>
<rect x="1154" y="520" width="5" height="5" fill="#ff0000"/>
<rect x="1162" y="525" width="5" height="5" fill="#ff0000"/>
<rect x="1170" y="530" width="5" height="5" fill="#ff0000"/>
<rect x="1178" y="535" width="5" height="5" fill="#ff0000"/>
<rect x="1186" y="540" width="5" height="5" fill="#ff0000"/>
<rect x="1194" y="545" width="5" height="5" fill="#ff0000"/>
<rect x="1202" y="550" width="5" height="5" fill="#ff0000"/>
<rect x="1210" y="554" width="5" height="5" fill="#ff0000"/>
<rect x="1218" y="559" width="5" height="5" fill="#ff0000"/>
<rect x="1226" y="563" width="5" height="5" fill="#ff0000"/>
<rect x="1234" y="567" width="5" height="5" fill="#ff0000"/>
<rect x="1242" y="570" width="5" height="5" fill="#ff0000"/>
<rect x="1250" y="574" width="5" height="5" fill="#ff0000"/>
<rect x="1258" y="577" width="5" height="5" fill="#ff0000"/>
<rect x="1266" y="579" width="5" height="5" fill="#ff0000"/>
<rect x="1274" y="581" width="5" height="5" fill="#ff0000"/>
<rect x="1282" y="583" width="5" height="5" fill="#ff0000"/>
<rect x="1290" y="585" width="5" height="5" fill="#ff0000"/>
<rect x="1298" y="587" width="5" height="5" fill="#ff0000"/>
<rect x="1306" y="588" width="5" height="5" fill="#ff0000"/>
<rect x="1314" y="589" width="5" height="5" fill="#ff0000"/>
<rect x="1322" y="589" width="5" height="5" fill="#ff0000"/>
<rect x="1330" y="590" width="5" height="5" fill="#ff0000"/>
<rect x="1338" y="590" width="5" height="5" fill="#ff0000"/>
<rect x="1346" y="591" width="5" height="5" fill="#ff0000"/>
<rect x="1354" y="591" width="5" height="5" fill="#ff0000"/>
<rect x="1362" y="591" width="5" height="5" fill="#ff0000"/>
<rect x="1370" y="591" width="5" height="5" fill="#ff0000"/>
<rect x="1378" y="591" width="5" height="5" fill="#ff0000"/>
<rect x="1386" y="591" width="5" height="5" fill="#ff0000"/>
<rect x="1394" y="591" width="5" height="5" fill="#ff0000"/>
<rect x="1402" y="591" width="5" height="5" fill="#ff0000"/>
<rect x="1410" y="591" width="5" height="5" fill="#ff0000"/>
<rect x="1418" y="582" width="5" height="5" fill="#0000ff"/>
<rect x="1426" y="567" width="5" height="5" fill="#0000ff"/>
<rect x="1434" y="552" width="5" height="5" fill="#0000ff"/>
<rect x="1442" y="538" width="5" height="5" fill="#0000ff"/>
<rect x="1450" y="528" width="5" height="5" fill="#0000ff"/>
<rect x="1458" y="518" width="5" height="5" fill="#0000ff"/>
<rect x="1466" y="512" width="5" height="5" fill="#0000ff"/>
<path shape-rendering="geometricPrecision" fill-rule="evenodd" fill="#00e400" d="M2.1 484h5.2v5h-5.2zM3.3 485h2.5v3h-2.5z"/>
<path shape-rendering="geometricPrecision" fill-rule="evenodd" fill="#00e400" d="M10.1 484h5.2v5h-5.2zM11.3 485h2.5v3h-2.5z"/>
<path shape-rendering="geometricPrecision" fill-rule="evenodd" fill="#00e400" d="M18.1 484h5.2v5h-5.2zM19.3 485h2.5v3h-2.5z"/>
<path shape-rendering="geometricPrecision" fill-rule="evenodd" fill="#00e400" d="M26.1 484h5.2v5h-5.2zM27.3 485h2.5v3h-2.5z"/>
<path shape-rendering="geometricPrecision" fill-rule="evenodd" fill="#00e400" d="M34.1 484h5.2v5h-5.2zM35.3 485h2.5v3h-2.5z"/>
<path shape-rendering="geometricPrecision" fill-rule="evenodd" fill="#00e400" d="M42.1 484h5.2v5h-5.2zM43.3 485h2.5v3h-2.5z"/>
<path shape-rendering="geometricPrecision" fill-rule="evenodd" fill="#00e400" d="M50.1 484h5.2v5h-5.2zM51.3 485h2.5v3h-2.5z"/>
<path shape-rendering="geometricPrecision" fill-rule="evenodd" fill="#00e400" d="M58.1 484h5.2v5h-5.2zM59.3 485h2.5v3h-2.5z"/>
<path shape-rendering="geometricPrecision" fill-rule="evenodd" fill="#00e400" d="M66.1 484h5.2v5h-5.2zM67.3 485h2.5v3h-2.5z"/>
<path shape-rendering="geometricPrecision" fill-rule="evenodd" fill="#00e400" d="M74.1 484h5.2v5h-5.2zM75.3 485h2.5v3h-2.5z"/>
<path shape-rendering="geometricPrecision" fill-rule="evenodd" fill="#00e400" d="M82.1 484h5.2v5h-5.2zM83.3 485h2.5v3h-2.5z"/>
<path shape-rendering="geometricPrecision" fill-rule="evenodd" fill="#00e400" d="M90.1 484h5.2v5h-5.2zM91.3 485h2.5v3h-2.5z"/>
<path shape-rendering="geometricPrecision" fill-rule="evenodd" fill="#00e400" d="M98.1 484h5.2v5h-5.2zM99.3 485h2.5v3h-2.5z"/>
<path shape-rendering="geometricPrecision" fill-rule="evenodd" fill="#00e400" d="M106.1 484h5.2v5h-5.2zM107.3 485h2.5v3h-2.5z"/>
<path shape-rendering="geometricPrecision" fill-rule="evenodd" fill="#00e400" d="M114.1 484h5.2v5h-5.2zM115.3 485h2.5v3h-2.5z"/>
<path shape-rendering="geometricPrecision" fill-rule="evenodd" fill="#00e400" d="M122.1 484h5.2v5h-5.2zM123.3 485h2.5v3h-2.5z"/>
<path shape-rendering="geometricPrecision" fill-rule="evenodd" fill="#00e400" d="M130.1 484h5.2v5h-5.2zM131.3 485h2.5v3h-2.5z"/>
<path shape-rendering="geometricPrecision" fill-rule="evenodd" fill="#00e400" d="M138.1 484h5.2v5h-5.2zM139.3 485h2.5v3h-2.5z"/>
<path shape-rendering="geometricPrecision" fill-rule="evenodd" fill="#00e400" d="M146.1 484h5.2v5h-5.2zM147.3 485h2.5v3h-2.5z"/>
<path shape-rendering="geometricPrecision" fill-rule="evenodd" fill="#00e400" d="M154.1 484h5.2v5h-5.2zM155.3 485h2.5v3h-2.5z"/>
<path shape-rendering="geometricPrecision" fill-rule="evenodd" fill="#00e400" d="M162.1 484h5.2v5h-5.2zM163.3 485h2.5v3h-2.5z"/>
<path shape-rendering="geometricPrecision" fill-rule="evenodd" fill="#00e400" d="M170.1 484h5.2v5h-5.2zM171.3 485h2.5v3h-2.5z"/>
<path shape-rendering="geometricPrecision" fill-rule="evenodd" fill="#00e400" d="M178.1 484h5.2v5h-5.2zM179.3 485h2.5v3h-2.5z"/>
<path shape-rendering="geometricPrecision" fill-rule="evenodd" fill="#00e400" d="M186.1 484h5.2v5h-5.2zM187.3 485h2.5v3h-2.5z"/>
<path shape-rendering="geometricPrecision" fill-rule="evenodd" fill="#00e400" d="M194.1 484h5.2v5h-5.2zM195.3 485h2.5v3h-2.5z"/>
<path shape-rendering="geometricPrecision" fill-rule="evenodd" fill="#00e400" d="M202.1 484h5.2v5h-5.2zM203.3 485h2.5v3h-2.5z"/>
<path shape-rendering="geometricPrecision" fill-rule="evenodd" fill="#00e400" d="M210.1 484h5.2v5h-5.2zM211.3 485h2.5v3h-2.5z"/>
<path shape-rendering="geometricPrecision" fill-rule="evenodd" fill="#00e400" d="M218.1 484h5.2v5h-5.2zM219.3 485h2.5v3h-2.5z"/>
<path shape-rendering="geometricPrecision" fill-rule="evenodd" fill="#00e400" d="M226.1 484h5.2v5h-5.2zM227.3 485h2.5v3h-2.5z"/>
<path shape-rendering="geometricPrecision" fill-rule="evenodd" fill="#00e400" d="M234.1 484h5.2v5h-5.2zM235.3 485h2.5v3h-2.5z"/>
<path shape-rendering="geometricPrecision" fill-rule="evenodd" fill="#00e400" d="M242.1 484h5.2v5h-5.2zM243.3 485h2.5v3h-2.5z"/>
<path shape-rendering="geometricPrecision" fill-rule="evenodd" fill="#00e400" d="M250.1 484h5.2v5h-5.2zM251.3 485h2.5v3h-2.5z"/>
<path shape-rendering="geometricPrecision" fill-rule="evenodd" fill="#00e400" d="M258.1 484h5.2v5h-5.2zM259.3 485h2.5v3h-2.5z"/>
<path shape-rendering="geometricPrecision" fill-rule="evenodd" fill="#00e400" d="M266.1 484h5.2v5h-5.2zM267.3 485h2.5v3h-2.5z"/>
<path shape-rendering="geometricPrecision" fill-rule="evenodd" fill="#00e400" d="M274.1 484h5.2v5h-5.2zM275.3 485h2.5v3h-2.5z"/>
<path shape-rendering="geometricPrecision" fill-rule="evenodd" fill="#00e400" d="M282.1 484h5.2v5h-5.2zM283.3 485h2.5v3h-2.5z"/>
<path shape-rendering="geometricPrecision" fill-rule="evenodd" fill="#00e400" d="M290.1 484h5.2v5h-5.2zM291.3 485h2.5v3h-2.5z"/>
<path shape-rendering="geometricPrecision" fill-rule="evenodd" fill="#00e400" d="M298.1 484h5.2v5h-5.2zM299.3 485h2.5v3h-2.5z"/>
<path shape-rendering="geometricPrecision" fill-rule="evenodd" fill="#00e400" d="M306.1 484h5.2v5h-5.2zM307.3 485h2.5v3h-2.5z"/>
<path shape-rendering="geometricPrecision" fill-rule="evenodd" fill="#00e400" d="M314.1 484h5.2v5h-5.2zM315.3 485h2.5v3h-2.5z"/>
<path shape-rendering="geometricPrecision" fill-rule="evenodd" fill="#00e400" d="M322.1 484h5.2v5h-5.2zM323.3 485h2.5v3h-2.5z"/>
<path shape-rendering="geometricPrecision" fill-rule="evenodd" fill="#00e400" d="M330.1 484h5.2v5h-5.2zM331.3 485h2.5v3h-2.5z"/>
<path shape-rendering="geometricPrecision" fill-rule="evenodd" fill="#00e400" d="M338.1 484h5.2v5h-5.2zM339.3 485h2.5v3h-2.5z"/>
<path shape-rendering="geometricPrecision" fill-rule="evenodd" fill="#00e400" d="M346.1 484h5.2v5h-5.2zM347.3 485h2.5v3h-2.5z"/>
<path shape-rendering="geometricPrecision" fill-rule="evenodd" fill="#00e400" d="M354.1 484h5.2v5h-5.2zM355.3 485h2.5v3h-2.5z"/>
<path shape-rendering="geometricPrecision" fill-rule="evenodd" fill="#00e400" d="M362.1 484h5.2v5h-5.2zM363.3 485h2.5v3h-2.5z"/>
<path shape-rendering="geometricPrecision" fill-rule="evenodd" fill="#00e400" d="M370.1 484h5.2v5h-5.2zM371.3 485h2.5v3h-2.5z"/>
<path shape-rendering="geometricPrecision" fill-rule="evenodd" fill="#00e400" d="M378.1 484h5.2v5h-5.2zM379.3 485h2.5v3h-2.5z"/>
<path shape-rendering="geometricPrecision" fill-rule="evenodd" fill="#00e400" d="M386.1 484h5.2v5h-5.2zM387.3 485h2.5v3h-2.5z"/>
<path shape-rendering="geometricPrecision" fill-rule="evenodd" fill="#00e400" d="M394.1 484h5.2v5h-5.2zM395.3 485h2.5v3h-2.5z"/>
<path shape-rendering="geometricPrecision" fill-rule="evenodd" fill="#00e400" d="M402.1 484h5.2v5h-5.2zM403.3 485h2.5v3h-2.5z"/>
<path shape-rendering="geometricPrecision" fill-rule="evenodd" fill="#00e400" d="M410.1 484h5.2v5h-5.2zM411.3 485h2.5v3h-2.5z"/>
<path shape-rendering="geometricPrecision" fill-rule="evenodd" fill="#00e400" d="M418.1 484h5.2v5h-5.2zM419.3 485h2.5v3h-2.5z"/>
<path shape-rendering="geometricPrecision" fill-rule="evenodd" fill="#00e400" d="M426.1 484h5.2v5h-5.2zM427.3 485h2.5v3h-2.5z"/>
<path shape-rendering="geometricPrecision" fill-rule="evenodd" fill="#00e400" d="M434.1 484h5.2v5h-5.2zM435.3 485h2.5v3h-2.5z"/>
<path shape-rendering="geometricPrecision" fill-rule="evenodd" fill="#00e400" d="M442.1 484h5.2v5h-5.2zM443.3 485h2.5v3h-2.5z"/>
<path shape-rendering="geometricPrecision" fill-rule="evenodd" fill="#00e400" d="M450.1 484h5.2v5h-5.2zM451.3 485h2.5v3h-2.5z"/>
<path shape-rendering="geometricPrecision" fill-rule="evenodd" fill="#00e400" d="M458.1 484h5.2v5h-5.2zM459.3 485h2.5v3h-2.5z"/>
<path shape-rendering="geometricPrecision" fill-rule="evenodd" fill="#00e400" d="M466.1 484h5.2v5h-5.2zM467.3 485h2.5v3h-2.5z"/>
<path shape-rendering="geometricPrecision" fill-rule="evenodd" fill="#00e400" d="M474.1 484h5.2v5h-5.2zM475.3 485h2.5v3h-2.5z"/>
<path shape-rendering="geometricPrecision" fill-rule="evenodd" fill="#00e400" d="M482.1 484h5.2v5h-5.2zM483.3 485h2.5v3h-2.5z"/>
<path shape-rendering="geometricPrecision" fill-rule="evenodd" fill="#00e400" d="M490.1 484h5.2v5h-5.2zM491.3 485h2.5v3h-2.5z"/>
<path shape-rendering="geometricPrecision" fill-rule="evenodd" fill="#00e400" d="M498.1 484h5.2v5h-5.2zM499.3 485h2.5v3h-2.5z"/>
<path shape-rendering="geometricPrecision" fill-rule="evenodd" fill="#00e400" d="M506.1 484h5.2v5h-5.2zM507.3 485h2.5v3h-2.5z"/>
<path shape-rendering="geometricPrecision" fill-rule="evenodd" fill="#00e400" d="M514.1 484h5.2v5h-5.2zM515.3 485h2.5v3h-2.5z"/>
<path shape-rendering="geometricPrecision" fill-rule="evenodd" fill="#00e400" d="M522.1 484h5.2v5h-5.2zM523.3 485h2.5v3h-2.5z"/>
<path shape-rendering="geometricPrecision" fill-rule="evenodd" fill="#00e400" d="M530.1 484h5.2v5h-5.2zM531.3 485h2.5v3h-2.5z"/>
<path shape-rendering="geometricPrecision" fill-rule="evenodd" fill="#00e400" d="M538.1 484h5.2v5h-5.2zM539.3 485h2.5v3h-2.5z"/>
<path shape-rendering="geometricPrecision" fill-rule="evenodd" fill="#00e400" d="M546.1 484h5.2v5h-5.2zM547.3 485h2.5v3h-2.5z"/>
<path shape-rendering="geometricPrecision" fill-rule="evenodd" fill="#00e400" d="M554.1 484h5.2v5h-5.2zM555.3 485h2.5v3h-2.5z"/>
<path shape-rendering="geometricPrecision" fill-rule="evenodd" fill="#00e400" d="M562.1 484h5.2v5h-5.2zM563.3 485h2.5v3h-2.5z"/>
<path shape-rendering="geometricPrecision" fill-rule="evenodd" fill="#00e400" d="M570.1 484h5.2v5h-5.2zM571.3 485h2.5v3h-2.5z"/>
<path shape-rendering="geometricPrecision" fill-rule="evenodd" fill="#00e400" d="M578.1 484h5.2v5h-5.2zM579.3 485h2.5v3h-2.5z"/>
<path shape-rendering="geometricPrecision" fill-rule="evenodd" fill="#00e400" d="M586.1 484h5.2v5h-5.2zM587.3 485h2.5v3h-2.5z"/>
<path shape-rendering="geometricPrecision" fill-rule="evenodd" fill="#00e400" d="M594.1 484h5.2v5h-5.2zM595.3 485h2.5v3h-2.5z"/>
<path shape-rendering="geometricPrecision" fill-rule="evenodd" fill="#00e400" d="M602.1 484h5.2v5h-5.2zM603.3 485h2.5v3h-2.5z"/>
<path shape-rendering="geometricPrecision" fill-rule="evenodd" fill="#00e400" d="M610.1 484h5.2v5h-5.2zM611.3 485h2.5v3h-2.5z"/>
<path shape-rendering="geometricPrecision" fill-rule="evenodd" fill="#00e400" d="M618.1 484h5.2v5h-5.2zM619.3 485h2.5v3h-2.5z"/>
<path shape-rendering="geometricPrecision" fill-rule="evenodd" fill="#00e400" d="M626.1 484h5.2v5h-5.2zM627.3 485h2.5v3h-2.5z"/>
<path shape-rendering="geometricPrecision" fill-rule="evenodd" fill="#00e400" d="M634.1 484h5.2v5h-5.2zM635.3 485h2.5v3h-2.5z"/>
<path shape-rendering="geometricPrecision" fill-rule="evenodd" fill="#00e400" d="M642.1 484h5.2v5h-5.2zM643.3 485h2.5v3h-2.5z"/>
<path shape-rendering="geometricPrecision" fill-rule="evenodd" fill="#00e400" d="M650.1 484h5.2v5h-5.2zM651.3 485h2.5v3h-2.5z"/>
<path shape-rendering="geometricPrecision" fill-rule="evenodd" fill="#00e400" d="M658.1 484h5.2v5h-5.2zM659.3 485h2.5v3h-2.5z"/>
<path shape-rendering="geometricPrecision" fill-rule="evenodd" fill="#00e400" d="M666.1 484h5.2v5h-5.2zM667.3 485h2.5v3h-2.5z"/>
<path shape-rendering="geometricPrecision" fill-rule="evenodd" fill="#00e400" d="M674.1 484h5.2v5h-5.2zM675.3 485h2.5v3h-2.5z"/>
<path shape-rendering="geometricPrecision" fill-rule="evenodd" fill="#00e400" d="M682.1 484h5.2v5h-5.2zM683.3 485h2.5v3h-2.5z"/>
<path shape-rendering="geometricPrecision" fill-rule="evenodd" fill="#00e400" d="M690.1 484h5.2v5h-5.2zM691.3 485h2.5v3h-2.5z"/>
<path shape-rendering="geometricPrecision" fill-rule="evenodd" fill="#00e400" d="M698.1 484h5.2v5h-5.2zM699.3 485h2.5v3h-2.5z"/>
<path shape-rendering="geometricPrecision" fill-rule="evenodd" fill="#00e400" d="M706.1 484h5.2v5h-5.2zM707.3 485h2.5v3h-2.5z"/>
<path shape-rendering="geometricPrecision" fill-rule="evenodd" fill="#00e400" d="M714.1 484h5.2v5h-5.2zM715.3 485h2.5v3h-2.5z"/>
<path shape-rendering="geometricPrecision" fill-rule="evenodd" fill="#00e400" d="M722.1 484h5.2v5h-5.2zM723.3 485h2.5v3h-2.5z"/>
<path shape-rendering="geometricPrecision" fill-rule="evenodd" fill="#00e400" d="M730.1 484h5.2v5h-5.2zM731.3 485h2.5v3h-2.5z"/>
<path shape-rendering="geometricPrecision" fill-rule="evenodd" fill="#00e400" d="M738.1 484h5.2v5h-5.2zM739.3 485h2.5v3h-2.5z"/>
<path shape-rendering="geometricPrecision" fill-rule="evenodd" fill="#00e400" d="M746.1 484h5.2v5h-5.2zM747.3 485h2.5v3h-2.5z"/>
<path shape-rendering="geometricPrecision" fill-rule="evenodd" fill="#00e400" d="M754.1 484h5.2v5h-5.2zM755.3 485h2.5v3h-2.5z"/>
<path shape-rendering="geometricPrecision" fill-rule="evenodd" fill="#00e400" d="M762.1 484h5.2v5h-5.2zM763.3 485h2.5v3h-2.5z"/>
<path shape-rendering="geometricPrecision" fill-rule="evenodd" fill="#00e400" d="M770.1 484h5.2v5h-5.2zM771.3 485h2.5v3h-2.5z"/>
<path shape-rendering="geometricPrecision" fill-rule="evenodd" fill="#00e400" d="M778.1 484h5.2v5h-5.2zM779.3 485h2.5v3h-2.5z"/>
<path shape-rendering="geometricPrecision" fill-rule="evenodd" fill="#00e400" d="M786.1 484h5.2v5h-5.2zM787.3 485h2.5v3h-2.5z"/>
<path shape-rendering="geometricPrecision" fill-rule="evenodd" fill="#00e400" d="M794.1 484h5.2v5h-5.2zM795.3 485h2.5v3h-2.5z"/>
<path shape-rendering="geometricPrecision" fill-rule="evenodd" fill="#00e400" d="M802.1 484h5.2v5h-5.2zM803.3 485h2.5v3h-2.5z"/>
<path shape-rendering="geometricPrecision" fill-rule="evenodd" fill="#00e400" d="M810.1 484h5.2v5h-5.2zM811.3 485h2.5v3h-2.5z"/>
<path shape-rendering="geometricPrecision" fill-rule="evenodd" fill="#00e400" d="M818.1 484h5.2v5h-5.2zM819.3 485h2.5v3h-2.5z"/>
<path shape-rendering="geometricPrecision" fill-rule="evenodd" fill="#00e400" d="M826.1 484h5.2v5h-5.2zM827.3 485h2.5v3h-2.5z"/>
<path shape-rendering="geometricPrecision" fill-rule="evenodd" fill="#00e400" d="M834.1 484h5.2v5h-5.2zM835.3 485h2.5v3h-2.5z"/>
<path shape-rendering="geometricPrecision" fill-rule="evenodd" fill="#00e400" d="M842.1 484h5.2v5h-5.2zM843.3 485h2.5v3h-2.5z"/>
<path shape-rendering="geometricPrecision" fill-rule="evenodd" fill="#00e400" d="M850.1 484h5.2v5h-5.2zM851.3 485h2.5v3h-2.5z"/>
<path shape-rendering="geometricPrecision" fill-rule="evenodd" fill="#00e400" d="M858.1 484h5.2v5h-5.2zM859.3 485h2.5v3h-2.5z"/>
<path shape-rendering="geometricPrecision" fill-rule="evenodd" fill="#00e400" d="M866.1 484h5.2v5h-5.2zM867.3 485h2.5v3h-2.5z"/>
<path shape-rendering="geometricPrecision" fill-rule="evenodd" fill="#00e400" d="M874.1 484h5.2v5h-5.2zM875.3 485h2.5v3h-2.5z"/>
<path shape-rendering="geometricPrecision" fill-rule="evenodd" fill="#00e400" d="M882.1 484h5.2v5h-5.2zM883.3 485h2.5v3h-2.5z"/>
<path shape-rendering="geometricPrecision" fill-rule="evenodd" fill="#00e400" d="M890.1 484h5.2v5h-5.2zM891.3 485h2.5v3h-2.5z"/>
<path shape-rendering="geometricPrecision" fill-rule="evenodd" fill="#00e400" d="M898.1 484h5.2v5h-5.2zM899.3 485h2.5v3h-2.5z"/>
<path shape-rendering="geometricPrecision" fill-rule="evenodd" fill="#00e400" d="M906.1 484h5.2v5h-5.2zM907.3 485h2.5v3h-2.5z"/>
<path shape-rendering="geometricPrecision" fill-rule="evenodd" fill="#00e400" d="M914.1 484h5.2v5h-5.2zM915.3 485h2.5v3h-2.5z"/>
<path shape-rendering="geometricPrecision" fill-rule="evenodd" fill="#00e400" d="M922.1 484h5.2v5h-5.2zM923.3 485h2.5v3h-2.5z"/>
<path shape-rendering="geometricPrecision" fill-rule="evenodd" fill="#00e400" d="M930.1 484h5.2v5h-5.2zM931.3 485h2.5v3h-2.5z"/>
<path shape-rendering="geometricPrecision" fill-rule="evenodd" fill="#00e400" d="M938.1 484h5.2v5h-5.2zM939.3 485h2.5v3h-2.5z"/>
<path shape-rendering="geometricPrecision" fill-rule="evenodd" fill="#00e400" d="M946.1 484h5.2v5h-5.2zM947.3 485h2.5v3h-2.5z"/>
<path shape-rendering="geometricPrecision" fill-rule="evenodd" fill="#00e400" d="M954.1 484h5.2v5h-5.2zM955.3 485h2.5v3h-2.5z"/>
<path shape-rendering="geometricPrecision" fill-rule="evenodd" fill="#00e400" d="M962.1 484h5.2v5h-5.2zM963.3 485h2.5v3h-2.5z"/>
<path shape-rendering="geometricPrecision" fill-rule="evenodd" fill="#00e400" d="M970.1 484h5.2v5h-5.2zM971.3 485h2.5v3h-2.5z"/>
<path shape-rendering="geometricPrecision" fill-rule="evenodd" fill="#00e400" d="M978.1 484h5.2v5h-5.2zM979.3 485h2.5v3h-2.5z"/>
<path shape-rendering="geometricPrecision" fill-rule="evenodd" fill="#00e400" d="M986.1 484h5.2v5h-5.2zM987.3 485h2.5v3h-2.5z"/>
<path shape-rendering="geometricPrecision" fill-rule="evenodd" fill="#00e400" d="M994.1 484h5.2v5h-5.2zM995.3 485h2.5v3h-2.5z"/>
<path shape-rendering="geometricPrecision" fill-rule="evenodd" fill="#00e400" d="M1002.1 484h5.2v5h-5.2zM1003.3 485h2.5v3h-2.5z"/>
<path shape-rendering="geometricPrecision" fill-rule="evenodd" fill="#00e400" d="M1010.1 484h5.2v5h-5.2zM1011.3 485h2.5v3h-2.5z"/>
<path shape-rendering="geometricPrecision" fill-rule="evenodd" fill="#00e400" d="M1018.1 484h5.2v5h-5.2zM1019.3 485h2.5v3h-2.5z"/>
<path shape-rendering="geometricPrecision" fill-rule="evenodd" fill="#00e400" d="M1026.1 484h5.2v5h-5.2zM1027.3 485h2.5v3h-2.5z"/>
<path shape-rendering="geometricPrecision" fill-rule="evenodd" fill="#00e400" d="M1034.1 484h5.2v5h-5.2zM1035.3 485h2.5v3h-2.5z"/>
<path shape-rendering="geometricPrecision" fill-rule="evenodd" fill="#00e400" d="M1042.1 484h5.2v5h-5.2zM1043.3 485h2.5v3h-2.5z"/>
<path shape-rendering="geometricPrecision" fill-rule="evenodd" fill="#00e400" d="M1050.1 484h5.2v5h-5.2zM1051.3 485h2.5v3h-2.5z"/>
<path shape-rendering="geometricPrecision" fill-rule="evenodd" fill="#00e400" d="M1058.1 484h5.2v5h-5.2zM1059.3 485h2.5v3h-2.5z"/>
<path shape-rendering="geometricPrecision" fill-rule="evenodd" fill="#00e400" d="M1066.1 484h5.2v5h-5.2zM1067.3 485h2.5v3h-2.5z"/>
<path shape-rendering="geometricPrecision" fill-rule="evenodd" fill="#00e400" d="M1074.1 484h5.2v5h-5.2zM1075.3 485h2.5v3h-2.5z"/>
<path shape-rendering="geometricPrecision" fill-rule="evenodd" fill="#00e400" d="M1082.1 484h5.2v5h-5.2zM1083.3 485h2.5v3h-2.5z"/>
<path shape-rendering="geometricPrecision" fill-rule="evenodd" fill="#00e400" d="M1090.1 484h5.2v5h-5.2zM1091.3 485h2.5v3h-2.5z"/>
<path shape-rendering="geometricPrecision" fill-rule="evenodd" fill="#00e400" d="M1098.1 484h5.2v5h-5.2zM1099.3 485h2.5v3h-2.5z"/>
<path shape-rendering="geometricPrecision" fill-rule="evenodd" fill="#00e400" d="M1106.1 484h5.2v5h-5.2zM1107.3 485h2.5v3h-2.5z"/>
<path shape-rendering="geometricPrecision" fill-rule="evenodd" fill="#00e400" d="M1114.1 484h5.2v5h-5.2zM1115.3 485h2.5v3h-2.5z"/>
<path shape-rendering="geometricPrecision" fill-rule="evenodd" fill="#00e400" d="M1122.1 484h5.2v5h-5.2zM1123.3 485h2.5v3h-2.5z"/>
<path shape-rendering="geometricPrecision" fill-rule="evenodd" fill="#00e400" d="M1130.1 484h5.2v5h-5.2zM1131.3 485h2.5v3h-2.5z"/>
<path shape-rendering="geometricPrecision" fill-rule="evenodd" fill="#00e400" d="M1138.1 484h5.2v5h-5.2zM1139.3 485h2.5v3h-2.5z"/>
<path shape-rendering="geometricPrecision" fill-rule="evenodd" fill="#00e400" d="M1146.1 484h5.2v5h-5.2zM1147.3 485h2.5v3h-2.5z"/>
<path shape-rendering="geometricPrecision" fill-rule="evenodd" fill="#00e400" d="M1154.1 484h5.2v5h-5.2zM1155.3 485h2.5v3h-2.5z"/>
<path shape-rendering="geometricPrecision" fill-rule="evenodd" fill="#00e400" d="M1162.1 484h5.2v5h-5.2zM1163.3 485h2.5v3h-2.5z"/>
<path shape-rendering="geometricPrecision" fill-rule="evenodd" fill="#00e400" d="M1170.1 484h5.2v5h-5.2zM1171.3 485h2.5v3h-2.5z"/>
<path shape-rendering="geometricPrecision" fill-rule="evenodd" fill="#00e400" d="M1178.1 484h5.2v5h-5.2zM1179.3 485h2.5v3h-2.5z"/>
<path shape-rendering="geometricPrecision" fill-rule="evenodd" fill="#00e400" d="M1186.1 484h5.2v5h-5.2zM1187.3 485h2.5v3h-2.5z"/>
<path shape-rendering="geometricPrecision" fill-rule="evenodd" fill="#00e400" d="M1194.1 484h5.2v5h-5.2zM1195.3 485h2.5v3h-2.5z"/>
<path shape-rendering="geometricPrecision" fill-rule="evenodd" fill="#00e400" d="M1202.1 484h5.2v5h-5.2zM1203.3 485h2.5v3h-2.5z"/>
<path shape-rendering="geometricPrecision" fill-rule="evenodd" fill="#00e400" d="M1210.1 484h5.2v5h-5.2zM1211.3 485h2.5v3h-2.5z"/>
<path shape-rendering="geometricPrecision" fill-rule="evenodd" fill="#00e400" d="M1218.1 484h5.2v5h-5.2zM1219.3 485h2.5v3h-2.5z"/>
<path shape-rendering="geometricPrecision" fill-rule="evenodd" fill="#00e400" d="M1226.1 484h5.2v5h-5.2zM1227.3 485h2.5v3h-2.5z"/>
<path shape-rendering="geometricPrecision" fill-rule="evenodd" fill="#00e400" d="M1234.1 484h5.2v5h-5.2zM1235.3 485h2.5v3h-2.5z"/>
<path shape-rendering="geometricPrecision" fill-rule="evenodd" fill="#00e400" d="M1242.1 484h5.2v5h-5.2zM1243.3 485h2.5v3h-2.5z"/>
<path shape-rendering="geometricPrecision" fill-rule="evenodd" fill="#00e400" d="M1250.1 484h5.2v5h-5.2zM1251.3 485h2.5v3h-2.5z"/>
<path shape-rendering="geometricPrecision" fill-rule="evenodd" fill="#00e400" d="M1258.1 484h5.2v5h-5.2zM1259.3 485h2.5v3h-2.5z"/>
<path shape-rendering="geometricPrecision" fill-rule="evenodd" fill="#00e400" d="M1266.1 484h5.2v5h-5.2zM1267.3 485h2.5v3h-2.5z"/>
<rect x="1274" y="484" width="1" height="5" fill="#2a00b4"/>
<rect x="1275" y="484" width="5" height="1" fill="#ff00ff"/>
<rect x="1275" y="488" width="5" height="1" fill="#ff00ff"/>
<rect x="1275" y="485" width="1" height="3" fill="#e8005a"/>
<rect x="1279" y="485" width="1" height="3" fill="#e80040"/>
<rect x="1282" y="485" width="1" height="5" fill="#2a00b4"/>
<rect x="1283" y="485" width="5" height="1" fill="#ff00ff"/>
<rect x="1283" y="489" width="5" height="1" fill="#ff00ff"/>
<rect x="1283" y="486" width="1" height="3" fill="#e8005a"/>
<rect x="1287" y="486" width="1" height="3" fill="#e80040"/>
<rect x="1290" y="486" width="1" height="5" fill="#2a00b4"/>
<rect x="1291" y="486" width="5" height="1" fill="#ff00ff"/>
<rect x="1291" y="490" width="5" height="1" fill="#ff00ff"/>
<rect x="1291" y="487" width="1" height="3" fill="#e8005a"/>
<rect x="1295" y="487" width="1" height="3" fill="#e80040"/>
<rect x="1298" y="487" width="1" height="5" fill="#2a00b4"/>
<rect x="1299" y="487" width="5" height="1" fill="#ff00ff"/>
<rect x="1299" y="491" width="5" height="1" fill="#ff00ff"/>
<rect x="1299" y="488" width="1" height="3" fill="#e8005a"/>
<rect x="1303" y="488" width="1" height="3" fill="#e80040"/>
<rect x="1306" y="488" width="1" height="5" fill="#2a00b4"/>
<rect x="1307" y="488" width="5" height="1" fill="#ff00ff"/>
<rect x="1307" y="492" width="5" height="1" fill="#ff00ff"/>
<rect x="1307" y="489" width="1" height="3" fill="#e8005a"/>
<rect x="1311" y="489" width="1" height="3" fill="#e80040"/>
<rect x="1314" y="489" width="1" height="5" fill="#2a00b4"/>
<rect x="1315" y="489" width="5" height="1" fill="#ff00ff"/>
<rect x="1315" y="493" width="5" height="1" fill="#ff00ff"/>
<rect x="1315" y="490" width="1" height="3" fill="#e8005a"/>
<rect x="1319" y="490" width="1" height="3" fill="#e80040"/>
<rect x="1322" y="490" width="1" height="5" fill="#2a00b4"/>
<rect x="1323" y="490" width="5" height="1" fill="#ff00ff"/>
<rect x="1323" y="494" width="5" height="1" fill="#ff00ff"/>
<rect x="1323" y="491" width="1" height="3" fill="#e8005a"/>
<rect x="1327" y="491" width="1" height="3" fill="#e80040"/>
<rect x="1330" y="492" width="1" height="5" fill="#2a00b4"/>
<rect x="1331" y="492" width="5" height="1" fill="#ff00ff"/>
<rect x="1331" y="496" width="5" height="1" fill="#ff00ff"/>
<rect x="1331" y="493" width="1" height="3" fill="#e8005a"/>
<rect x="1335" y="493" width="1" height="3" fill="#e80040"/>
<rect x="1338" y="495" width="1" height="5" fill="#2a00b4"/>
<rect x="1339" y="495" width="5" height="1" fill="#ff00ff"/>
<rect x="1339" y="499" width="5" height="1" fill="#ff00ff"/>
<rect x="1339" y="496" width="1" height="3" fill="#e8005a"/>
<rect x="1343" y="496" width="1" height="3" fill="#e80040"/>
<rect x="1346" y="497" width="1" height="5" fill="#2a00b4"/>
<rect x="1347" y="497" width="5" height="1" fill="#ff00ff"/>
<rect x="1347" y="501" width="5" height="1" fill="#ff00ff"/>
<rect x="1347" y="498" width="1" height="3" fill="#e8005a"/>
<rect x="1351" y="498" width="1" height="3" fill="#e80040"/>
<rect x="1354" y="499" width="1" height="5" fill="#2a00b4"/>
<rect x="1355" y="499" width="5" height="1" fill="#ff00ff"/>
<rect x="1355" y="503" width="5" height="1" fill="#ff00ff"/>
<rect x="1355" y="500" width="1" height="3" fill="#e8005a"/>
<rect x="1359" y="500" width="1" height="3" fill="#e80040"/>
<rect x="1362" y="501" width="1" height="5" fill="#2a00b4"/>
<rect x="1363" y="501" width="5" height="1" fill="#ff00ff"/>
<rect x="1363" y="505" width="5" height="1" fill="#ff00ff"/>
<rect x="1363" y="502" width="1" height="3" fill="#e8005a"/>
<rect x="1367" y="502" width="1" height="3" fill="#e80040"/>
<rect x="1370" y="503" width="1" height="5" fill="#2a00b4"/>
<rect x="1371" y="503" width="5" height="1" fill="#ff00ff"/>
<rect x="1371" y="507" width="5" height="1" fill="#ff00ff"/>
<rect x="1371" y="504" width="1" height="3" fill="#e8005a"/>
<rect x="1375" y="504" width="1" height="3" fill="#e80040"/>
<rect x="1378" y="506" width="1" height="5" fill="#2a00b4"/>
<rect x="1379" y="506" width="5" height="1" fill="#ff00ff"/>
<rect x="1379" y="510" width="5" height="1" fill="#ff00ff"/>
<rect x="1379" y="507" width="1" height="3" fill="#e8005a"/>
<rect x="1383" y="507" width="1" height="3" fill="#e80040"/>
<rect x="1386" y="509" width="1" height="5" fill="#2a00b4"/>
<rect x="1387" y="509" width="5" height="1" fill="#ff00ff"/>
<rect x="1387" y="513" width="5" height="1" fill="#ff00ff"/>
<rect x="1387" y="510" width="1" height="3" fill="#e8005a"/>
<rect x="1391" y="510" width="1" height="3" fill="#e80040"/>
<rect x="1394" y="511" width="1" height="5" fill="#2a00b4"/>
<rect x="1395" y="511" width="5" height="1" fill="#ff00ff"/>
<rect x="1395" y="515" width="5" height="1" fill="#ff00ff"/>
<rect x="1395" y="512" width="1" height="3" fill="#e8005a"/>
<rect x="1399" y="512" width="1" height="3" fill="#e80040"/>
<rect x="1402" y="514" width="1" height="5" fill="#2a00b4"/>
<rect x="1403" y="514" width="5" height="1" fill="#ff00ff"/>
<rect x="1403" y="518" width="5" height="1" fill="#ff00ff"/>
<rect x="1403" y="515" width="1" height="3" fill="#e8005a"/>
<rect x="1407" y="515" width="1" height="3" fill="#e80040"/>
<rect x="1410" y="516" width="1" height="5" fill="#2a00b4"/>
<rect x="1411" y="516" width="5" height="1" fill="#ff00ff"/>
<rect x="1411" y="520" width="5" height="1" fill="#ff00ff"/>
<rect x="1411" y="517" width="1" height="3" fill="#e8005a"/>
<rect x="1415" y="517" width="1" height="3" fill="#e80040"/>
<rect x="1418" y="519" width="1" height="5" fill="#2a00b4"/>
<rect x="1419" y="519" width="5" height="1" fill="#ff00ff"/>
<rect x="1419" y="523" width="5" height="1" fill="#ff00ff"/>
<rect x="1419" y="520" width="1" height="3" fill="#e8005a"/>
<rect x="1423" y="520" width="1" height="3" fill="#e80040"/>
<rect x="1426" y="521" width="1" height="5" fill="#2a00b4"/>
<rect x="1427" y="521" width="5" height="1" fill="#ff00ff"/>
<rect x="1427" y="525" width="5" height="1" fill="#ff00ff"/>
<rect x="1427" y="522" width="1" height="3" fill="#e8005a"/>
<rect x="1431" y="522" width="1" height="3" fill="#e80040"/>
<rect x="1434" y="524" width="1" height="5" fill="#2a00b4"/>
<rect x="1435" y="524" width="5" height="1" fill="#ff00ff"/>
<rect x="1435" y="528" width="5" height="1" fill="#ff00ff"/>
<rect x="1435" y="525" width="1" height="3" fill="#e8005a"/>
<rect x="1439" y="525" width="1" height="3" fill="#e80040"/>
<rect x="1442" y="526" width="1" height="5" fill="#2a00b4"/>
<rect x="1443" y="526" width="5" height="1" fill="#ff00ff"/>
<rect x="1443" y="530" width="5" height="1" fill="#ff00ff"/>
<rect x="1443" y="527" width="1" height="3" fill="#e8005a"/>
<rect x="1447" y="527" width="1" height="3" fill="#e80040"/>
<rect x="1450" y="529" width="1" height="5" fill="#2a00b4"/>
<rect x="1451" y="529" width="5" height="1" fill="#ff00ff"/>
<rect x="1451" y="533" width="5" height="1" fill="#ff00ff"/>
<rect x="1451" y="530" width="1" height="3" fill="#e8005a"/>
<rect x="1455" y="530" width="1" height="3" fill="#e80040"/>
<rect x="1458" y="531" width="1" height="5" fill="#2a00b4"/>
<rect x="1459" y="531" width="5" height="1" fill="#ff00ff"/>
<rect x="1459" y="535" width="5" height="1" fill="#ff00ff"/>
<rect x="1459" y="532" width="1" height="3" fill="#e8005a"/>
<rect x="1463" y="532" width="1" height="3" fill="#e80040"/>
<rect x="1466" y="534" width="1" height="5" fill="#2a00b4"/>
<rect x="1467" y="534" width="5" height="1" fill="#ff00ff"/>
<rect x="1467" y="538" width="5" height="1" fill="#ff00ff"/>
<rect x="1467" y="535" width="1" height="3" fill="#e8005a"/>
<rect x="1471" y="535" width="1" height="3" fill="#e80040"/>
<path shape-rendering="geometricPrecision" fill-rule="evenodd" fill="#ff9500" d="M2 590h6.6v5h-6.6zM3 591h4v3h-4z"/>
<path shape-rendering="geometricPrecision" fill-rule="evenodd" fill="#ff9500" d="M10 590h6.6v5h-6.6zM11 591h4v3h-4z"/>
<path shape-rendering="geometricPrecision" fill-rule="evenodd" fill="#ff9500" d="M18 590h6.6v5h-6.6zM19 591h4v3h-4z"/>
<path shape-rendering="geometricPrecision" fill-rule="evenodd" fill="#ff9500" d="M26 590h6.6v5h-6.6zM27 591h4v3h-4z"/>
<path shape-rendering="geometricPrecision" fill-rule="evenodd" fill="#ff9500" d="M34 590h6.6v5h-6.6zM35 591h4v3h-4z"/>
<path shape-rendering="geometricPrecision" fill-rule="evenodd" fill="#ff9500" d="M42 590h6.6v5h-6.6zM43 591h4v3h-4z"/>
<path shape-rendering="geometricPrecision" fill-rule="evenodd" fill="#ff9500" d="M50 590h6.6v5h-6.6zM51 591h4v3h-4z"/>
<path shape-rendering="geometricPrecision" fill-rule="evenodd" fill="#ff9500" d="M58 590h6.6v5h-6.6zM59 591h4v3h-4z"/>
<path shape-rendering="geometricPrecision" fill-rule="evenodd" fill="#ff9500" d="M66 590h6.6v5h-6.6zM67 591h4v3h-4z"/>
<path shape-rendering="geometricPrecision" fill-rule="evenodd" fill="#ff9500" d="M74 590h6.6v5h-6.6zM75 591h4v3h-4z"/>
<path shape-rendering="geometricPrecision" fill-rule="evenodd" fill="#ff9500" d="M82 590h6.6v5h-6.6zM83 591h4v3h-4z"/>
<path shape-rendering="geometricPrecision" fill-rule="evenodd" fill="#ff9500" d="M90 590h6.6v5h-6.6zM91 591h4v3h-4z"/>
<path shape-rendering="geometricPrecision" fill-rule="evenodd" fill="#ff9500" d="M98 590h6.6v5h-6.6zM99 591h4v3h-4z"/>
<path shape-rendering="geometricPrecision" fill-rule="evenodd" fill="#ff9500" d="M106 590h6.6v5h-6.6zM107 591h4v3h-4z"/>
<path shape-rendering="geometricPrecision" fill-rule="evenodd" fill="#ff9500" d="M114 590h6.6v5h-6.6zM115 591h4v3h-4z"/>
<path shape-rendering="geometricPrecision" fill-rule="evenodd" fill="#ff9500" d="M122 590h6.6v5h-6.6zM123 591h4v3h-4z"/>
<path shape-rendering="geometricPrecision" fill-rule="evenodd" fill="#ff9500" d="M130 590h6.6v5h-6.6zM131 591h4v3h-4z"/>
<path shape-rendering="geometricPrecision" fill-rule="evenodd" fill="#ff9500" d="M138 590h6.6v5h-6.6zM139 591h4v3h-4z"/>
<path shape-rendering="geometricPrecision" fill-rule="evenodd" fill="#ff9500" d="M146 590h6.6v5h-6.6zM147 591h4v3h-4z"/>
<path shape-rendering="geometricPrecision" fill-rule="evenodd" fill="#ff9500" d="M154 590h6.6v5h-6.6zM155 591h4v3h-4z"/>
<path shape-rendering="geometricPrecision" fill-rule="evenodd" fill="#ff9500" d="M162 590h6.6v5h-6.6zM163 591h4v3h-4z"/>
<path shape-rendering="geometricPrecision" fill-rule="evenodd" fill="#ff9500" d="M170 590h6.6v5h-6.6zM171 591h4v3h-4z"/>
<path shape-rendering="geometricPrecision" fill-rule="evenodd" fill="#ff9500" d="M178 590h6.6v5h-6.6zM179 591h4v3h-4z"/>
<path shape-rendering="geometricPrecision" fill-rule="evenodd" fill="#ff9500" d="M186 590h6.6v5h-6.6zM187 591h4v3h-4z"/>
<path shape-rendering="geometricPrecision" fill-rule="evenodd" fill="#ff9500" d="M194 590h6.6v5h-6.6zM195 591h4v3h-4z"/>
<path shape-rendering="geometricPrecision" fill-rule="evenodd" fill="#ff9500" d="M202 590h6.6v5h-6.6zM203 591h4v3h-4z"/>
<path shape-rendering="geometricPrecision" fill-rule="evenodd" fill="#ff9500" d="M210 590h6.6v5h-6.6zM211 591h4v3h-4z"/>
<path shape-rendering="geometricPrecision" fill-rule="evenodd" fill="#ff9500" d="M218 590h6.6v5h-6.6zM219 591h4v3h-4z"/>
<path shape-rendering="geometricPrecision" fill-rule="evenodd" fill="#ff9500" d="M226 590h6.6v5h-6.6zM227 591h4v3h-4z"/>
<path shape-rendering="geometricPrecision" fill-rule="evenodd" fill="#ff9500" d="M234 590h6.6v5h-6.6zM235 591h4v3h-4z"/>
<path shape-rendering="geometricPrecision" fill-rule="evenodd" fill="#ff9500" d="M242 590h6.6v5h-6.6zM243 591h4v3h-4z"/>
<path shape-rendering="geometricPrecision" fill-rule="evenodd" fill="#ff9500" d="M250 590h6.6v5h-6.6zM251 591h4v3h-4z"/>
<path shape-rendering="geometricPrecision" fill-rule="evenodd" fill="#ff9500" d="M258 590h6.6v5h-6.6zM259 591h4v3h-4z"/>
<path shape-rendering="geometricPrecision" fill-rule="evenodd" fill="#ff9500" d="M266 590h6.6v5h-6.6zM267 591h4v3h-4z"/>
<path shape-rendering="geometricPrecision" fill-rule="evenodd" fill="#007800" d="M274 590h6.6v5h-6.6zM275 591h4v3h-4z"/>
<path shape-rendering="geometricPrecision" fill-rule="evenodd" fill="#007800" d="M282 590h6.6v5h-6.6zM283 591h4v3h-4z"/>
<path shape-rendering="geometricPrecision" fill-rule="evenodd" fill="#007800" d="M290 590h6.6v5h-6.6zM291 591h4v3h-4z"/>
<path shape-rendering="geometricPrecision" fill-rule="evenodd" fill="#007800" d="M298 590h6.6v5h-6.6zM299 591h4v3h-4z"/>
<path shape-rendering="geometricPrecision" fill-rule="evenodd" fill="#007800" d="M306 590h6.6v5h-6.6zM307 591h4v3h-4z"/>
<path shape-rendering="geometricPrecision" fill-rule="evenodd" fill="#007800" d="M314 590h6.6v5h-6.6zM315 591h4v3h-4z"/>
<path shape-rendering="geometricPrecision" fill-rule="evenodd" fill="#007800" d="M322 590h6.6v5h-6.6zM323 591h4v3h-4z"/>
<path shape-rendering="geometricPrecision" fill-rule="evenodd" fill="#007800" d="M330 589h6.6v5h-6.6zM331 590h4v3h-4z"/>
<path shape-rendering="geometricPrecision" fill-rule="evenodd" fill="#007800" d="M338 589h6.6v5h-6.6zM339 590h4v3h-4z"/>
<path shape-rendering="geometricPrecision" fill-rule="evenodd" fill="#007800" d="M346 589h6.6v5h-6.6zM347 590h4v3h-4z"/>
<path shape-rendering="geometricPrecision" fill-rule="evenodd" fill="#007800" d="M354 589h6.6v5h-6.6zM355 590h4v3h-4z"/>
<path shape-rendering="geometricPrecision" fill-rule="evenodd" fill="#007800" d="M362 589h6.6v5h-6.6zM363 590h4v3h-4z"/>
<path shape-rendering="geometricPrecision" fill-rule="evenodd" fill="#007800" d="M370 589h6.6v5h-6.6zM371 590h4v3h-4z"/>
<path shape-rendering="geometricPrecision" fill-rule="evenodd" fill="#007800" d="M378 589h6.6v5h-6.6zM379 590h4v3h-4z"/>
<path shape-rendering="geometricPrecision" fill-rule="evenodd" fill="#007800" d="M386 589h6.6v5h-6.6zM387 590h4v3h-4z"/>
<path shape-rendering="geometricPrecision" fill-rule="evenodd" fill="#007800" d="M394 589h6.6v5h-6.6zM395 590h4v3h-4z"/>
<path shape-rendering="geometricPrecision" fill-rule="evenodd" fill="#007800" d="M402 588h6.6v5h-6.6zM403 589h4v3h-4z"/>
<path shape-rendering="geometricPrecision" fill-rule="evenodd" fill="#007800" d="M410 588h6.6v5h-6.6zM411 589h4v3h-4z"/>
<path shape-rendering="geometricPrecision" fill-rule="evenodd" fill="#007800" d="M418 588h6.6v5h-6.6zM419 589h4v3h-4z"/>
<path shape-rendering="geometricPrecision" fill-rule="evenodd" fill="#007800" d="M426 588h6.6v5h-6.6zM427 589h4v3h-4z"/>
<path shape-rendering="geometricPrecision" fill-rule="evenodd" fill="#007800" d="M434 588h6.6v5h-6.6zM435 589h4v3h-4z"/>
<path shape-rendering="geometricPrecision" fill-rule="evenodd" fill="#007800" d="M442 588h6.6v5h-6.6zM443 589h4v3h-4z"/>
<path shape-rendering="geometricPrecision" fill-rule="evenodd" fill="#007800" d="M450 587h6.6v5h-6.6zM451 588h4v3h-4z"/>
<path shape-rendering="geometricPrecision" fill-rule="evenodd" fill="#007800" d="M458 587h6.6v5h-6.6zM459 588h4v3h-4z"/>
<path shape-rendering="geometricPrecision" fill-rule="evenodd" fill="#007800" d="M466 587h6.6v5h-6.6zM467 588h4v3h-4z"/>
<path shape-rendering="geometricPrecision" fill-rule="evenodd" fill="#007800" d="M474 587h6.6v5h-6.6zM475 588h4v3h-4z"/>
<path shape-rendering="geometricPrecision" fill-rule="evenodd" fill="#007800" d="M482 587h6.6v5h-6.6zM483 588h4v3h-4z"/>
<path shape-rendering="geometricPrecision" fill-rule="evenodd" fill="#007800" d="M490 586h6.6v5h-6.6zM491 587h4v3h-4z"/>
<path shape-rendering="geometricPrecision" fill-rule="evenodd" fill="#007800" d="M498 586h6.6v5h-6.6zM499 587h4v3h-4z"/>
<path shape-rendering="geometricPrecision" fill-rule="evenodd" fill="#007800" d="M506 586h6.6v5h-6.6zM507 587h4v3h-4z"/>
<path shape-rendering="geometricPrecision" fill-rule="evenodd" fill="#007800" d="M514 586h6.6v5h-6.6zM515 587h4v3h-4z"/>
<path shape-rendering="geometricPrecision" fill-rule="evenodd" fill="#007800" d="M522 586h6.6v5h-6.6zM523 587h4v3h-4z"/>
<path shape-rendering="geometricPrecision" fill-rule="evenodd" fill="#007800" d="M530 585h6.6v5h-6.6zM531 586h4v3h-4z"/>
<path shape-rendering="geometricPrecision" fill-rule="evenodd" fill="#007800" d="M538 585h6.6v5h-6.6zM539 586h4v3h-4z"/>
<path shape-rendering="geometricPrecision" fill-rule="evenodd" fill="#007800" d="M546 585h6.6v5h-6.6zM547 586h4v3h-4z"/>
<path shape-rendering="geometricPrecision" fill-rule="evenodd" fill="#007800" d="M554 585h6.6v5h-6.6zM555 586h4v3h-4z"/>
<path shape-rendering="geometricPrecision" fill-rule="evenodd" fill="#007800" d="M562 585h6.6v5h-6.6zM563 586h4v3h-4z"/>
<path shape-rendering="geometricPrecision" fill-rule="evenodd" fill="#007800" d="M570 584h6.6v5h-6.6zM571 585h4v3h-4z"/>
<path shape-rendering="geometricPrecision" fill-rule="evenodd" fill="#007800" d="M578 584h6.6v5h-6.6zM579 585h4v3h-4z"/>
<path shape-rendering="geometricPrecision" fill-rule="evenodd" fill="#007800" d="M586 584h6.6v5h-6.6zM587 585h4v3h-4z"/>
<path shape-rendering="geometricPrecision" fill-rule="evenodd" fill="#007800" d="M594 584h6.6v5h-6.6zM595 585h4v3h-4z"/>
<path shape-rendering="geometricPrecision" fill-rule="evenodd" fill="#007800" d="M602 584h6.6v5h-6.6zM603 585h4v3h-4z"/>
<path shape-rendering="geometricPrecision" fill-rule="evenodd" fill="#007800" d="M610 583h6.6v5h-6.6zM611 584h4v3h-4z"/>
<path shape-rendering="geometricPrecision" fill-rule="evenodd" fill="#007800" d="M618 583h6.6v5h-6.6zM619 584h4v3h-4z"/>
<path shape-rendering="geometricPrecision" fill-rule="evenodd" fill="#007800" d="M626 583h6.6v5h-6.6zM627 584h4v3h-4z"/>
<path shape-rendering="geometricPrecision" fill-rule="evenodd" fill="#007800" d="M634 583h6.6v5h-6.6zM635 584h4v3h-4z"/>
<path shape-rendering="geometricPrecision" fill-rule="evenodd" fill="#007800" d="M642 582h6.6v5h-6.6zM643 583h4v3h-4z"/>
<path shape-rendering="geometricPrecision" fill-rule="evenodd" fill="#007800" d="M650 582h6.6v5h-6.6zM651 583h4v3h-4z"/>
<path shape-rendering="geometricPrecision" fill-rule="evenodd" fill="#007800" d="M658 582h6.6v5h-6.6zM659 583h4v3h-4z"/>
<path shape-rendering="geometricPrecision" fill-rule="evenodd" fill="#007800" d="M666 582h6.6v5h-6.6zM667 583h4v3h-4z"/>
<path shape-rendering="geometricPrecision" fill-rule="evenodd" fill="#007800" d="M674 581h6.6v5h-6.6zM675 582h4v3h-4z"/>
<path shape-rendering="geometricPrecision" fill-rule="evenodd" fill="#007800" d="M682 581h6.6v5h-6.6zM683 582h4v3h-4z"/>
<path shape-rendering="geometricPrecision" fill-rule="evenodd" fill="#007800" d="M690 581h6.6v5h-6.6zM691 582h4v3h-4z"/>
<path shape-rendering="geometricPrecision" fill-rule="evenodd" fill="#007800" d="M698 581h6.6v5h-6.6zM699 582h4v3h-4z"/>
<path shape-rendering="geometricPrecision" fill-rule="evenodd" fill="#007800" d="M706 580h6.6v5h-6.6zM707 581h4v3h-4z"/>
<path shape-rendering="geometricPrecision" fill-rule="evenodd" fill="#007800" d="M714 580h6.6v5h-6.6zM715 581h4v3h-4z"/>
<path shape-rendering="geometricPrecision" fill-rule="evenodd" fill="#007800" d="M722 580h6.6v5h-6.6zM723 581h4v3h-4z"/>
<path shape-rendering="geometricPrecision" fill-rule="evenodd" fill="#007800" d="M730 580h6.6v5h-6.6zM731 581h4v3h-4z"/>
<path shape-rendering="geometricPrecision" fill-rule="evenodd" fill="#007800" d="M738 579h6.6v5h-6.6zM739 580h4v3h-4z"/>
<path shape-rendering="geometricPrecision" fill-rule="evenodd" fill="#007800" d="M746 579h6.6v5h-6.6zM747 580h4v3h-4z"/>
<path shape-rendering="geometricPrecision" fill-rule="evenodd" fill="#007800" d="M754 579h6.6v5h-6.6zM755 580h4v3h-4z"/>
<path shape-rendering="geometricPrecision" fill-rule="evenodd" fill="#007800" d="M762 578h6.6v5h-6.6zM763 579h4v3h-4z"/>
<path shape-rendering="geometricPrecision" fill-rule="evenodd" fill="#007800" d="M770 578h6.6v5h-6.6zM771 579h4v3h-4z"/>
<path shape-rendering="geometricPrecision" fill-rule="evenodd" fill="#007800" d="M778 578h6.6v5h-6.6zM779 579h4v3h-4z"/>
<path shape-rendering="geometricPrecision" fill-rule="evenodd" fill="#007800" d="M786 577h6.6v5h-6.6zM787 578h4v3h-4z"/>
<path shape-rendering="geometricPrecision" fill-rule="evenodd" fill="#007800" d="M794 577h6.6v5h-6.6zM795 578h4v3h-4z"/>
<path shape-rendering="geometricPrecision" fill-rule="evenodd" fill="#007800" d="M802 576h6.6v5h-6.6zM803 577h4v3h-4z"/>
<path shape-rendering="geometricPrecision" fill-rule="evenodd" fill="#007800" d="M810 576h6.6v5h-6.6zM811 577h4v3h-4z"/>
<path shape-rendering="geometricPrecision" fill-rule="evenodd" fill="#007800" d="M818 576h6.6v5h-6.6zM819 577h4v3h-4z"/>
<path shape-rendering="geometricPrecision" fill-rule="evenodd" fill="#007800" d="M826 575h6.6v5h-6.6zM827 576h4v3h-4z"/>
<path shape-rendering="geometricPrecision" fill-rule="evenodd" fill="#007800" d="M834 575h6.6v5h-6.6zM835 576h4v3h-4z"/>
<path shape-rendering="geometricPrecision" fill-rule="evenodd" fill="#007800" d="M842 575h6.6v5h-6.6zM843 576h4v3h-4z"/>
<path shape-rendering="geometricPrecision" fill-rule="evenodd" fill="#007800" d="M850 574h6.6v5h-6.6zM851 575h4v3h-4z"/>
<path shape-rendering="geometricPrecision" fill-rule="evenodd" fill="#007800" d="M858 574h6.6v5h-6.6zM859 575h4v3h-4z"/>
<path shape-rendering="geometricPrecision" fill-rule="evenodd" fill="#007800" d="M866 574h6.6v5h-6.6zM867 575h4v3h-4z"/>
<path shape-rendering="geometricPrecision" fill-rule="evenodd" fill="#007800" d="M874 573h6.6v5h-6.6zM875 574h4v3h-4z"/>
<path shape-rendering="geometricPrecision" fill-rule="evenodd" fill="#007800" d="M882 573h6.6v5h-6.6zM883 574h4v3h-4z"/>
<path shape-rendering="geometricPrecision" fill-rule="evenodd" fill="#007800" d="M890 572h6.6v5h-6.6zM891 573h4v3h-4z"/>
<path shape-rendering="geometricPrecision" fill-rule="evenodd" fill="#007800" d="M898 572h6.6v5h-6.6zM899 573h4v3h-4z"/>
<path shape-rendering="geometricPrecision" fill-rule="evenodd" fill="#007800" d="M906 572h6.6v5h-6.6zM907 573h4v3h-4z"/>
<path shape-rendering="geometricPrecision" fill-rule="evenodd" fill="#007800" d="M914 571h6.6v5h-6.6zM915 572h4v3h-4z"/>
<path shape-rendering="geometricPrecision" fill-rule="evenodd" fill="#007800" d="M922 571h6.6v5h-6.6zM923 572h4v3h-4z"/>
<path shape-rendering="geometricPrecision" fill-rule="evenodd" fill="#007800" d="M930 571h6.6v5h-6.6zM931 572h4v3h-4z"/>
<path shape-rendering="geometricPrecision" fill-rule="evenodd" fill="#007800" d="M938 570h6.6v5h-6.6zM939 571h4v3h-4z"/>
<path shape-rendering="geometricPrecision" fill-rule="evenodd" fill="#007800" d="M946 570h6.6v5h-6.6zM947 571h4v3h-4z"/>
<path shape-rendering="geometricPrecision" fill-rule="evenodd" fill="#007800" d="M954 570h6.6v5h-6.6zM955 571h4v3h-4z"/>
<path shape-rendering="geometricPrecision" fill-rule="evenodd" fill="#007800" d="M962 569h6.6v5h-6.6zM963 570h4v3h-4z"/>
<path shape-rendering="geometricPrecision" fill-rule="evenodd" fill="#007800" d="M970 569h6.6v5h-6.6zM971 570h4v3h-4z"/>
<path shape-rendering="geometricPrecision" fill-rule="evenodd" fill="#007800" d="M978 568h6.6v5h-6.6zM979 569h4v3h-4z"/>
<path shape-rendering="geometricPrecision" fill-rule="evenodd" fill="#007800" d="M986 568h6.6v5h-6.6zM987 569h4v3h-4z"/>
<path shape-rendering="geometricPrecision" fill-rule="evenodd" fill="#007800" d="M994 568h6.6v5h-6.6zM995 569h4v3h-4z"/>
<path shape-rendering="geometricPrecision" fill-rule="evenodd" fill="#007800" d="M1002 567h6.6v5h-6.6zM1003 568h4v3h-4z"/>
<path shape-rendering="geometricPrecision" fill-rule="evenodd" fill="#007800" d="M1010 567h6.6v5h-6.6zM1011 568h4v3h-4z"/>
<path shape-rendering="geometricPrecision" fill-rule="evenodd" fill="#007800" d="M1018 567h6.6v5h-6.6zM1019 568h4v3h-4z"/>
<path shape-rendering="geometricPrecision" fill-rule="evenodd" fill="#007800" d="M1026 566h6.6v5h-6.6zM1027 567h4v3h-4z"/>
<path shape-rendering="geometricPrecision" fill-rule="evenodd" fill="#007800" d="M1034 566h6.6v5h-6.6zM1035 567h4v3h-4z"/>
<path shape-rendering="geometricPrecision" fill-rule="evenodd" fill="#007800" d="M1042 566h6.6v5h-6.6zM1043 567h4v3h-4z"/>
<path shape-rendering="geometricPrecision" fill-rule="evenodd" fill="#007800" d="M1050 565h6.6v5h-6.6zM1051 566h4v3h-4z"/>
<path shape-rendering="geometricPrecision" fill-rule="evenodd" fill="#007800" d="M1058 565h6.6v5h-6.6zM1059 566h4v3h-4z"/>
<path shape-rendering="geometricPrecision" fill-rule="evenodd" fill="#007800" d="M1066 564h6.6v5h-6.6zM1067 565h4v3h-4z"/>
<path shape-rendering="geometricPrecision" fill-rule="evenodd" fill="#007800" d="M1074 564h6.6v5h-6.6zM1075 565h4v3h-4z"/>
<path shape-rendering="geometricPrecision" fill-rule="evenodd" fill="#007800" d="M1082 564h6.6v5h-6.6zM1083 565h4v3h-4z"/>
<path shape-rendering="geometricPrecision" fill-rule="evenodd" fill="#007800" d="M1090 563h6.6v5h-6.6zM1091 564h4v3h-4z"/>
<path shape-rendering="geometricPrecision" fill-rule="evenodd" fill="#007800" d="M1098 563h6.6v5h-6.6zM1099 564h4v3h-4z"/>
<path shape-rendering="geometricPrecision" fill-rule="evenodd" fill="#007800" d="M1106 563h6.6v5h-6.6zM1107 564h4v3h-4z"/>
<path shape-rendering="geometricPrecision" fill-rule="evenodd" fill="#007800" d="M1114 562h6.6v5h-6.6zM1115 563h4v3h-4z"/>
<path shape-rendering="geometricPrecision" fill-rule="evenodd" fill="#007800" d="M1122 562h6.6v5h-6.6zM1123 563h4v3h-4z"/>
<path shape-rendering="geometricPrecision" fill-rule="evenodd" fill="#007800" d="M1130 562h6.6v5h-6.6zM1131 563h4v3h-4z"/>
<path shape-rendering="geometricPrecision" fill-rule="evenodd" fill="#007800" d="M1138 561h6.6v5h-6.6zM1139 562h4v3h-4z"/>
<path shape-rendering="geometricPrecision" fill-rule="evenodd" fill="#007800" d="M1146 560h6.6v5h-6.6zM1147 561h4v3h-4z"/>
<path shape-rendering="geometricPrecision" fill-rule="evenodd" fill="#007800" d="M1154 560h6.6v5h-6.6zM1155 561h4v3h-4z"/>
<path shape-rendering="geometricPrecision" fill-rule="evenodd" fill="#007800" d="M1162 560h6.6v5h-6.6zM1163 561h4v3h-4z"/>
<path shape-rendering="geometricPrecision" fill-rule="evenodd" fill="#007800" d="M1170 559h6.6v5h-6.6zM1171 560h4v3h-4z"/>
<path shape-rendering="geometricPrecision" fill-rule="evenodd" fill="#007800" d="M1178 559h6.6v5h-6.6zM1179 560h4v3h-4z"/>
<path shape-rendering="geometricPrecision" fill-rule="evenodd" fill="#007800" d="M1186 559h6.6v5h-6.6zM1187 560h4v3h-4z"/>
<path shape-rendering="geometricPrecision" fill-rule="evenodd" fill="#007800" d="M1194 558h6.6v5h-6.6zM1195 559h4v3h-4z"/>
<path shape-rendering="geometricPrecision" fill-rule="evenodd" fill="#007800" d="M1202 558h6.6v5h-6.6zM1203 559h4v3h-4z"/>
<path shape-rendering="geometricPrecision" fill-rule="evenodd" fill="#007800" d="M1210 558h6.6v5h-6.6zM1211 559h4v3h-4z"/>
<path shape-rendering="geometricPrecision" fill-rule="evenodd" fill="#007800" d="M1218 557h6.6v5h-6.6zM1219 558h4v3h-4z"/>
<path shape-rendering="geometricPrecision" fill-rule="evenodd" fill="#007800" d="M1226 557h6.6v5h-6.6zM1227 558h4v3h-4z"/>
<path shape-rendering="geometricPrecision" fill-rule="evenodd" fill="#007800" d="M1234 556h6.6v5h-6.6zM1235 557h4v3h-4z"/>
<path shape-rendering="geometricPrecision" fill-rule="evenodd" fill="#007800" d="M1242 556h6.6v5h-6.6zM1243 557h4v3h-4z"/>
<path shape-rendering="geometricPrecision" fill-rule="evenodd" fill="#007800" d="M1250 556h6.6v5h-6.6zM1251 557h4v3h-4z"/>
<path shape-rendering="geometricPrecision" fill-rule="evenodd" fill="#007800" d="M1258 555h6.6v5h-6.6zM1259 556h4v3h-4z"/>
<path shape-rendering="geometricPrecision" fill-rule="evenodd" fill="#007800" d="M1266 555h6.6v5h-6.6zM1267 556h4v3h-4z"/>
<path shape-rendering="geometricPrecision" fill-rule="evenodd" fill="#007800" d="M1274 555h6.6v5h-6.6zM1275 556h4v3h-4z"/>
<path shape-rendering="geometricPrecision" fill-rule="evenodd" fill="#007800" d="M1282 554h6.6v5h-6.6zM1283 555h4v3h-4z"/>
<path shape-rendering="geometricPrecision" fill-rule="evenodd" fill="#007800" d="M1290 554h6.6v5h-6.6zM1291 555h4v3h-4z"/>
<path shape-rendering="geometricPrecision" fill-rule="evenodd" fill="#007800" d="M1298 554h6.6v5h-6.6zM1299 555h4v3h-4z"/>
<path shape-rendering="geometricPrecision" fill-rule="evenodd" fill="#007800" d="M1306 553h6.6v5h-6.6zM1307 554h4v3h-4z"/>
<path shape-rendering="geometricPrecision" fill-rule="evenodd" fill="#007800" d="M1314 553h6.6v5h-6.6zM1315 554h4v3h-4z"/>
<path shape-rendering="geometricPrecision" fill-rule="evenodd" fill="#007800" d="M1322 553h6.6v5h-6.6zM1323 554h4v3h-4z"/>
<path shape-rendering="geometricPrecision" fill-rule="evenodd" fill="#007800" d="M1330 552h6.6v5h-6.6zM1331 553h4v3h-4z"/>
<path shape-rendering="geometricPrecision" fill-rule="evenodd" fill="#007800" d="M1338 552h6.6v5h-6.6zM1339 553h4v3h-4z"/>
<path shape-rendering="geometricPrecision" fill-rule="evenodd" fill="#007800" d="M1346 552h6.6v5h-6.6zM1347 553h4v3h-4z"/>
<path shape-rendering="geometricPrecision" fill-rule="evenodd" fill="#007800" d="M1354 551h6.6v5h-6.6zM1355 552h4v3h-4z"/>
<path shape-rendering="geometricPrecision" fill-rule="evenodd" fill="#007800" d="M1362 550h6.6v5h-6.6zM1363 551h4v3h-4z"/>
<path shape-rendering="geometricPrecision" fill-rule="evenodd" fill="#007800" d="M1370 550h6.6v5h-6.6zM1371 551h4v3h-4z"/>
<path shape-rendering="geometricPrecision" fill-rule="evenodd" fill="#007800" d="M1378 550h6.6v5h-6.6zM1379 551h4v3h-4z"/>
<path shape-rendering="geometricPrecision" fill-rule="evenodd" fill="#007800" d="M1386 549h6.6v5h-6.6zM1387 550h4v3h-4z"/>
<path shape-rendering="geometricPrecision" fill-rule="evenodd" fill="#007800" d="M1394 549h6.6v5h-6.6zM1395 550h4v3h-4z"/>
<path shape-rendering="geometricPrecision" fill-rule="evenodd" fill="#007800" d="M1402 549h6.6v5h-6.6zM1403 550h4v3h-4z"/>
<path shape-rendering="geometricPrecision" fill-rule="evenodd" fill="#007800" d="M1410 549h6.6v5h-6.6zM1411 550h4v3h-4z"/>
<path shape-rendering="geometricPrecision" fill-rule="evenodd" fill="#007800" d="M1418 548h6.6v5h-6.6zM1419 549h4v3h-4z"/>
<path shape-rendering="geometricPrecision" fill-rule="evenodd" fill="#007800" d="M1426 548h6.6v5h-6.6zM1427 549h4v3h-4z"/>
<path shape-rendering="geometricPrecision" fill-rule="evenodd" fill="#007800" d="M1434 548h6.6v5h-6.6zM1435 549h4v3h-4z"/>
<path shape-rendering="geometricPrecision" fill-rule="evenodd" fill="#007800" d="M1442 548h6.6v5h-6.6zM1443 549h4v3h-4z"/>
<path shape-rendering="geometricPrecision" fill-rule="evenodd" fill="#007800" d="M1450 548h6.6v5h-6.6zM1451 549h4v3h-4z"/>
<path shape-rendering="geometricPrecision" fill-rule="evenodd" fill="#007800" d="M1458 548h6.6v5h-6.6zM1459 549h4v3h-4z"/>
<path shape-rendering="geometricPrecision" fill-rule="evenodd" fill="#007800" d="M1466 548h6.6v5h-6.6zM1467 549h4v3h-4z"/>
</g>
<text x="10.5" y="494.7" font-size="12" fill="#fff" textLength="223.8" lengthAdjust="spacingAndGlyphs">TEN_to_CHI_no_OSCILLATOR__Ver_004</text>
<text x="239.5" y="494.7" font-size="12" fill="#fff" textLength="44" lengthAdjust="spacingAndGlyphs">47.6076</text>
<text x="289.3" y="494.7" font-size="12" fill="#fff" textLength="37.7" lengthAdjust="spacingAndGlyphs">7.0936</text>
<text x="333.8" y="494.7" font-size="12" fill="#fff" textLength="47.5" lengthAdjust="spacingAndGlyphs">-17.0470</text>
<circle cx="44.5" cy="497.5" r="6.8" fill="none" stroke="#fff" stroke-width="1.1"/>
<text x="44.5" y="501.8" font-size="12.5" fill="#fff" text-anchor="middle">2</text>
<circle cx="524.5" cy="497.5" r="6.8" fill="none" stroke="#fff" stroke-width="1.1"/>
<text x="524.5" y="501.8" font-size="12.5" fill="#fff" text-anchor="middle">2</text>
<circle cx="716.5" cy="497.5" r="6.8" fill="none" stroke="#fff" stroke-width="1.1"/>
<text x="716.5" y="501.8" font-size="12.5" fill="#fff" text-anchor="middle">2</text>
<circle cx="1276.5" cy="497.5" r="6.8" fill="none" stroke="#fff" stroke-width="1.1"/>
<text x="1276.5" y="501.8" font-size="12.5" fill="#fff" text-anchor="middle">5</text>
<circle cx="1276.5" cy="582.5" r="6.8" fill="none" stroke="#fff" stroke-width="1.1"/>
<text x="1276.5" y="586.8" font-size="12.5" fill="#fff" text-anchor="middle">1</text>
</g>
<text x="1595.4" y="525.3" font-size="15.4" fill="#1e90ff" textLength="52.1" lengthAdjust="spacingAndGlyphs" text-rendering="geometricPrecision">TF1(H4)</text>
<text x="1653" y="525.3" font-size="15.4" fill="#1e90ff" textLength="3.5" lengthAdjust="spacingAndGlyphs" text-rendering="geometricPrecision">:</text>
<text x="1661.5" y="525.3" font-size="15.4" fill="#1e90ff" textLength="33.0" lengthAdjust="spacingAndGlyphs" text-rendering="geometricPrecision">+47.6</text>
<text x="1700.7" y="525.3" font-size="15.4" fill="#1e90ff" textLength="3.5" lengthAdjust="spacingAndGlyphs" text-rendering="geometricPrecision">:</text>
<g shape-rendering="crispEdges">
<rect x="1715" y="513" width="1" height="13" fill="#1e90ff"/>
<rect x="1714" y="514" width="1" height="1" fill="#1e90ff"/>
<rect x="1716" y="514" width="1" height="1" fill="#1e90ff"/>
<rect x="1713" y="515" width="1" height="1" fill="#1e90ff"/>
<rect x="1717" y="515" width="1" height="1" fill="#1e90ff"/>
</g>
<text x="1729.5" y="525.3" font-size="15.4" fill="#1e90ff" textLength="32.5" lengthAdjust="spacingAndGlyphs" text-rendering="geometricPrecision">+20.7</text>
<text x="1769.4" y="525.3" font-size="15.4" fill="#1e90ff" textLength="32.1" lengthAdjust="spacingAndGlyphs" text-rendering="geometricPrecision">+16.4</text>
<text x="1809.4" y="525.3" font-size="15.4" fill="#1e90ff" textLength="30.4" lengthAdjust="spacingAndGlyphs" text-rendering="geometricPrecision">+12.1</text>
<text x="1602.9" y="545.3" font-size="15.4" fill="#ff0000" textLength="52.6" lengthAdjust="spacingAndGlyphs" text-rendering="geometricPrecision">TF2(D1)</text>
<text x="1661" y="545.3" font-size="15.4" fill="#ff0000" textLength="3.5" lengthAdjust="spacingAndGlyphs" text-rendering="geometricPrecision">:</text>
<text x="1669" y="545.3" font-size="15.4" fill="#ff0000" textLength="22.5" lengthAdjust="spacingAndGlyphs" text-rendering="geometricPrecision">+7.1</text>
<text x="1700.7" y="545.3" font-size="15.4" fill="#ff0000" textLength="3.5" lengthAdjust="spacingAndGlyphs" text-rendering="geometricPrecision">:</text>
<g shape-rendering="crispEdges">
<rect x="1715" y="533" width="1" height="13" fill="#ff0000"/>
<rect x="1714" y="544" width="1" height="1" fill="#ff0000"/>
<rect x="1716" y="544" width="1" height="1" fill="#ff0000"/>
<rect x="1713" y="543" width="1" height="1" fill="#ff0000"/>
<rect x="1717" y="543" width="1" height="1" fill="#ff0000"/>
</g>
<text x="1729.5" y="545.3" font-size="15.4" fill="#ff0000" textLength="32.5" lengthAdjust="spacingAndGlyphs" text-rendering="geometricPrecision">−24.3</text>
<text x="1769.4" y="545.3" font-size="15.4" fill="#ff0000" textLength="32.6" lengthAdjust="spacingAndGlyphs" text-rendering="geometricPrecision">−29.3</text>
<text x="1809.4" y="545.3" font-size="15.4" fill="#ff0000" textLength="32.6" lengthAdjust="spacingAndGlyphs" text-rendering="geometricPrecision">−27.3</text>
<text x="1594.7" y="565" font-size="15.4" fill="#1e90ff" textLength="52.8" lengthAdjust="spacingAndGlyphs" text-rendering="geometricPrecision">TF3(W1)</text>
<text x="1653" y="565" font-size="15.4" fill="#1e90ff" textLength="3.5" lengthAdjust="spacingAndGlyphs" text-rendering="geometricPrecision">:</text>
<text x="1661.5" y="565" font-size="15.4" fill="#1e90ff" textLength="33.5" lengthAdjust="spacingAndGlyphs" text-rendering="geometricPrecision">−17.0</text>
<text x="1700.7" y="565" font-size="15.4" fill="#1e90ff" textLength="3.5" lengthAdjust="spacingAndGlyphs" text-rendering="geometricPrecision">:</text>
<g shape-rendering="crispEdges">
<rect x="1715" y="553" width="1" height="13" fill="#1e90ff"/>
<rect x="1714" y="554" width="1" height="1" fill="#1e90ff"/>
<rect x="1716" y="554" width="1" height="1" fill="#1e90ff"/>
<rect x="1713" y="555" width="1" height="1" fill="#1e90ff"/>
<rect x="1717" y="555" width="1" height="1" fill="#1e90ff"/>
</g>
<text x="1729.5" y="565" font-size="15.4" fill="#1e90ff" textLength="30.5" lengthAdjust="spacingAndGlyphs" text-rendering="geometricPrecision">+20.1</text>
<text x="1769.4" y="565" font-size="15.4" fill="#1e90ff" textLength="32.6" lengthAdjust="spacingAndGlyphs" text-rendering="geometricPrecision">+21.3</text>
<text x="1809.4" y="565" font-size="15.4" fill="#1e90ff" textLength="32.6" lengthAdjust="spacingAndGlyphs" text-rendering="geometricPrecision">+19.5</text>
<text x="1858" y="493" font-size="12" fill="#fff">110</text>
<text x="1858" y="502" font-size="12" fill="#fff">80</text>
<text x="1858" y="543.5" font-size="12" fill="#fff">0.00</text>
<text x="1858.6" y="543.5" font-size="12" fill="#fff">0</text>
<text x="1858" y="586.5" font-size="12" fill="#fff">-80</text>
<text x="1858" y="595.5" font-size="12" fill="#fff">-110</text>
<g shape-rendering="crispEdges">
<rect x="1855" y="488" width="2" height="1" fill="#fff"/>
<rect x="1855" y="497" width="2" height="1" fill="#fff"/>
<rect x="1855" y="539" width="2" height="1" fill="#fff"/>
<rect x="1855" y="582" width="2" height="1" fill="#fff"/>
<rect x="1855" y="591" width="2" height="1" fill="#fff"/>
<rect x="1855" y="610" width="2" height="1" fill="#fff"/>
<rect x="1855" y="665" width="2" height="1" fill="#fff"/>
<rect x="1855" y="707" width="2" height="1" fill="#fff"/>
<rect x="1855" y="724" width="2" height="1" fill="#fff"/>
<rect x="1855" y="742" width="2" height="1" fill="#fff"/>
<rect x="1855" y="781" width="2" height="1" fill="#fff"/>
<rect x="1855" y="824" width="2" height="1" fill="#fff"/>
</g>
<clipPath id="c6"><rect x="5" y="602" width="1849" height="112"/></clipPath>
<g clip-path="url(#c6)"><g shape-rendering="crispEdges">
<line x1="6" y1="665.5" x2="1516" y2="665.5" stroke="#d0d0d0" stroke-width="1" stroke-dasharray="3 3"/>
<polyline fill="none" stroke="#00ff00" stroke-width="3" stroke-linejoin="round" points="5.0,657.0 12.5,658.5 21.0,657.0 29.0,650.0 37.5,647.3 46.0,646.8 57.5,648.8 72.5,649.3 85.0,650.5 99.0,648.0 110.0,641.8 122.5,637.5 132.5,635.0 157.5,634.8 165.0,631.0 172.5,629.8 180.0,630.5 192.5,632.3 212.5,631.8 225.0,634.8 235.0,639.3 244.0,644.8 252.5,646.8 261.0,648.5 269.0,647.5 277.5,649.8 290.0,653.5 300.0,656.8 312.5,658.5 325.0,661.3 335.0,661.3 342.5,662.5 355.0,661.0 365.0,661.8 375.0,664.3 385.0,664.3 392.5,661.8 410.0,658.5 435.0,658.5 445.0,654.3 455.0,651.8 462.5,648.5 472.5,647.0 480.0,646.8 495.0,645.5 510.0,644.8 525.0,645.0 535.0,647.5 555.0,648.0 565.0,649.8 575.0,650.0 590.0,654.8 602.5,653.8 620.0,653.8 632.5,655.5 645.0,661.3 652.5,663.0 665.0,657.5 677.5,644.3 687.5,634.3 697.5,630.5 710.0,629.3 730.0,626.0 740.0,626.8 765.0,626.8 780.0,623.5 792.5,618.0 805.0,616.0 820.0,613.8 830.0,616.0 845.0,616.0 860.0,614.8 882.5,613.5 892.5,609.8 910.0,609.3 920.0,611.8 932.5,624.3 940.0,631.8 950.0,641.8 960.0,651.8 967.5,661.8 975.0,668.8 983.8,671.0 997.5,668.5 1006.0,666.8 1020.0,669.8 1035.0,661.3 1052.5,652.5 1070.0,641.8 1080.0,637.5 1090.0,637.3 1107.5,638.0 1115.0,644.3 1130.0,656.8 1140.0,663.0 1150.0,671.8 1165.0,673.8 1180.0,680.0 1192.5,685.5 1205.0,687.5 1213.8,686.0 1222.5,688.5 1235.0,695.5 1246.0,699.3 1255.0,697.5 1265.0,698.5 1277.5,703.5 1292.5,708.8 1310.0,708.5 1317.5,706.0 1335.0,705.5 1352.5,703.0 1365.0,704.3 1375.0,703.0 1397.5,705.0 1405.0,702.5 1415.0,693.0 1425.0,680.5 1435.0,671.8 1445.0,665.0 1452.5,662.3 1460.0,665.0 1470.0,672.5"/>
<polyline fill="none" stroke="#ff00ff" stroke-width="3" stroke-linejoin="round" points="5.0,676.0 18.0,670.5 34.0,665.5 49.5,659.5 62.5,655.0 77.0,651.3 110.0,649.3 132.5,645.0 157.5,640.5 180.0,636.0 197.5,633.5 217.5,632.5 240.0,633.0 252.5,635.5 275.0,639.8 300.0,646.3 325.0,652.5 350.0,656.8 375.0,660.0 390.0,661.8 412.5,661.3 437.5,660.5 455.0,658.8 470.0,656.0 490.0,652.3 510.0,649.3 530.0,647.3 575.0,647.3 595.0,649.8 632.5,652.3 652.5,654.8 670.0,657.0 682.5,655.5 695.0,652.3 715.0,644.3 740.0,636.3 765.0,630.0 792.5,625.5 820.0,620.5 845.0,617.5 870.0,616.0 895.0,614.3 912.5,612.5 927.5,612.5 940.0,614.7 950.0,617.5 965.0,625.5 982.5,638.5 1005.0,652.5 1025.0,660.5 1040.0,663.8 1052.5,663.5 1070.0,659.3 1090.0,652.5 1115.0,645.5 1135.0,645.5 1152.5,650.5 1172.5,658.5 1190.0,666.0 1215.0,676.0 1247.5,686.8 1272.5,693.5 1300.0,700.5 1325.0,704.3 1350.0,705.5 1377.5,704.8 1400.0,704.8 1412.5,703.5 1425.0,699.3 1440.0,692.3 1455.0,685.0 1470.0,680.0"/>
</g>
<text x="8.7" y="616.7" font-size="12" fill="#fff" textLength="208.3" lengthAdjust="spacingAndGlyphs">H4 TEN_to_CHI_no_OSCILLATOR_DX</text>
<text x="225.8" y="616.7" font-size="12" fill="#fff" textLength="48.5" lengthAdjust="spacingAndGlyphs">-0.08660</text>
<text x="279.5" y="616.7" font-size="12" fill="#fff" textLength="49.3" lengthAdjust="spacingAndGlyphs">-0.18332</text>
</g>
<text x="1543.6" y="643.7" font-size="13.6" fill="#ff0000" textLength="27.5" lengthAdjust="spacingAndGlyphs" text-rendering="geometricPrecision">Lime</text>
<text x="1578.2" y="643.7" font-size="13.6" fill="#ff0000" textLength="57.9" lengthAdjust="spacingAndGlyphs" text-rendering="geometricPrecision">−0.08660</text>
<g shape-rendering="crispEdges">
<rect x="1643" y="635" width="1" height="10" fill="#ff0000"/>
<rect x="1642" y="643" width="1" height="1" fill="#ff0000"/>
<rect x="1644" y="643" width="1" height="1" fill="#ff0000"/>
<rect x="1641" y="642" width="1" height="1" fill="#ff0000"/>
<rect x="1645" y="642" width="1" height="1" fill="#ff0000"/>
</g>
<text x="1657.3" y="643.7" font-size="13.6" fill="#ff0000" textLength="56.3" lengthAdjust="spacingAndGlyphs" text-rendering="geometricPrecision">+0.03077</text>
<text x="1721.6" y="643.7" font-size="13.6" fill="#ff0000" textLength="54.0" lengthAdjust="spacingAndGlyphs" text-rendering="geometricPrecision">−0.04741</text>
<text x="1785.4" y="643.7" font-size="13.6" fill="#ff0000" textLength="56.6" lengthAdjust="spacingAndGlyphs" text-rendering="geometricPrecision">−0.08309</text>
<text x="1517.4" y="663.7" font-size="13.6" fill="#ff0000" textLength="53.7" lengthAdjust="spacingAndGlyphs" text-rendering="geometricPrecision">Distance</text>
<text x="1578.2" y="663.7" font-size="13.6" fill="#ff0000" textLength="57.2" lengthAdjust="spacingAndGlyphs" text-rendering="geometricPrecision">+0.09672</text>
<g shape-rendering="crispEdges">
<rect x="1643" y="655" width="1" height="10" fill="#ff0000"/>
<rect x="1642" y="663" width="1" height="1" fill="#ff0000"/>
<rect x="1644" y="663" width="1" height="1" fill="#ff0000"/>
<rect x="1641" y="662" width="1" height="1" fill="#ff0000"/>
<rect x="1645" y="662" width="1" height="1" fill="#ff0000"/>
</g>
<text x="1657.3" y="663.7" font-size="13.6" fill="#ff0000" textLength="56.3" lengthAdjust="spacingAndGlyphs" text-rendering="geometricPrecision">−0.02539</text>
<text x="1721.6" y="663.7" font-size="13.6" fill="#ff0000" textLength="56.2" lengthAdjust="spacingAndGlyphs" text-rendering="geometricPrecision">−0.09776</text>
<text x="1785.4" y="663.7" font-size="13.6" fill="#ff0000" textLength="54.3" lengthAdjust="spacingAndGlyphs" text-rendering="geometricPrecision">−0.12151</text>
<text x="1521" y="683.6" font-size="13.6" fill="#1e90ff" textLength="51" lengthAdjust="spacingAndGlyphs" text-rendering="geometricPrecision">Magenta</text>
<text x="1578.2" y="683.6" font-size="13.6" fill="#1e90ff" textLength="57.2" lengthAdjust="spacingAndGlyphs" text-rendering="geometricPrecision">−0.18332</text>
<g shape-rendering="crispEdges">
<rect x="1643" y="675" width="1" height="10" fill="#1e90ff"/>
<rect x="1642" y="676" width="1" height="1" fill="#1e90ff"/>
<rect x="1644" y="676" width="1" height="1" fill="#1e90ff"/>
<rect x="1641" y="677" width="1" height="1" fill="#1e90ff"/>
<rect x="1645" y="677" width="1" height="1" fill="#1e90ff"/>
</g>
<text x="1657.3" y="683.6" font-size="13.6" fill="#1e90ff" textLength="56.7" lengthAdjust="spacingAndGlyphs" text-rendering="geometricPrecision">+0.05616</text>
<text x="1721.6" y="683.6" font-size="13.6" fill="#1e90ff" textLength="56.2" lengthAdjust="spacingAndGlyphs" text-rendering="geometricPrecision">+0.05035</text>
<text x="1785.4" y="683.6" font-size="13.6" fill="#1e90ff" textLength="56.6" lengthAdjust="spacingAndGlyphs" text-rendering="geometricPrecision">+0.03842</text>
<text x="1858" y="614.5" font-size="12" fill="#fff" textLength="44.5" lengthAdjust="spacingAndGlyphs">0.82503</text>
<text x="1858" y="669.5" font-size="12" fill="#fff">0.00</text>
<text x="1858.6" y="669.5" font-size="12" fill="#fff">0</text>
<text x="1858" y="710.5" font-size="12" fill="#fff" textLength="48.5" lengthAdjust="spacingAndGlyphs">-0.64227</text>
<clipPath id="c7"><rect x="5" y="717" width="1849" height="12"/></clipPath>
<g clip-path="url(#c7)"><g shape-rendering="crispEdges">
<rect x="2" y="720" width="7" height="6" fill="#ff0000"/>
<rect x="10" y="720" width="7" height="6" fill="#ff0000"/>
<rect x="18" y="720" width="7" height="6" fill="#ff0000"/>
<rect x="26" y="720" width="7" height="6" fill="#ff0000"/>
<rect x="34" y="720" width="7" height="6" fill="#ff0000"/>
<rect x="42" y="720" width="7" height="6" fill="#ff0000"/>
<rect x="50" y="720" width="7" height="6" fill="#ff0000"/>
<rect x="58" y="720" width="7" height="6" fill="#ff0000"/>
<rect x="66" y="720" width="7" height="6" fill="#ff0000"/>
<rect x="74" y="720" width="7" height="6" fill="#ffff00"/>
<rect x="82" y="720" width="7" height="6" fill="#ffff00"/>
<rect x="90" y="720" width="7" height="6" fill="#0000ff"/>
<rect x="98" y="720" width="7" height="6" fill="#0000ff"/>
<rect x="106" y="720" width="7" height="6" fill="#0000ff"/>
<rect x="114" y="720" width="7" height="6" fill="#0000ff"/>
<rect x="122" y="720" width="7" height="6" fill="#0000ff"/>
<rect x="130" y="720" width="7" height="6" fill="#0000ff"/>
<rect x="138" y="720" width="7" height="6" fill="#0000ff"/>
<rect x="146" y="720" width="7" height="6" fill="#0000ff"/>
<rect x="154" y="720" width="7" height="6" fill="#0000ff"/>
<rect x="162" y="720" width="7" height="6" fill="#0000ff"/>
<rect x="170" y="720" width="7" height="6" fill="#0000ff"/>
<rect x="178" y="720" width="7" height="6" fill="#0000ff"/>
<rect x="186" y="720" width="7" height="6" fill="#0000ff"/>
<rect x="194" y="720" width="7" height="6" fill="#0000ff"/>
<rect x="202" y="720" width="7" height="6" fill="#0000ff"/>
<rect x="210" y="720" width="7" height="6" fill="#0000ff"/>
<rect x="218" y="720" width="7" height="6" fill="#0000ff"/>
<rect x="226" y="720" width="7" height="6" fill="#0000ff"/>
<rect x="234" y="720" width="7" height="6" fill="#0000ff"/>
<rect x="242" y="720" width="7" height="6" fill="#0000ff"/>
<rect x="250" y="720" width="7" height="6" fill="#0000ff"/>
<rect x="258" y="720" width="7" height="6" fill="#0000ff"/>
<rect x="266" y="720" width="7" height="6" fill="#0000ff"/>
<rect x="274" y="720" width="7" height="6" fill="#0000ff"/>
<rect x="282" y="720" width="7" height="6" fill="#0000ff"/>
<rect x="290" y="720" width="7" height="6" fill="#0000ff"/>
<rect x="298" y="720" width="7" height="6" fill="#0000ff"/>
<rect x="306" y="720" width="7" height="6" fill="#0000ff"/>
<rect x="314" y="720" width="7" height="6" fill="#0000ff"/>
<rect x="322" y="720" width="7" height="6" fill="#0000ff"/>
<rect x="330" y="720" width="7" height="6" fill="#0000ff"/>
<rect x="338" y="720" width="7" height="6" fill="#0000ff"/>
<rect x="346" y="720" width="7" height="6" fill="#0000ff"/>
<rect x="354" y="720" width="7" height="6" fill="#0000ff"/>
<rect x="362" y="720" width="7" height="6" fill="#0000ff"/>
<rect x="370" y="720" width="7" height="6" fill="#0000ff"/>
<rect x="378" y="720" width="7" height="6" fill="#0000ff"/>
<rect x="386" y="720" width="7" height="6" fill="#0000ff"/>
<rect x="394" y="720" width="7" height="6" fill="#0000ff"/>
<rect x="402" y="720" width="7" height="6" fill="#0000ff"/>
<rect x="410" y="720" width="7" height="6" fill="#0000ff"/>
<rect x="418" y="720" width="7" height="6" fill="#0000ff"/>
<rect x="426" y="720" width="7" height="6" fill="#0000ff"/>
<rect x="434" y="720" width="7" height="6" fill="#0000ff"/>
<rect x="442" y="720" width="7" height="6" fill="#0000ff"/>
<rect x="450" y="720" width="7" height="6" fill="#0000ff"/>
<rect x="458" y="720" width="7" height="6" fill="#0000ff"/>
<rect x="466" y="720" width="7" height="6" fill="#0000ff"/>
<rect x="474" y="720" width="7" height="6" fill="#0000ff"/>
<rect x="482" y="720" width="7" height="6" fill="#0000ff"/>
<rect x="490" y="720" width="7" height="6" fill="#0000ff"/>
<rect x="498" y="720" width="7" height="6" fill="#0000ff"/>
<rect x="506" y="720" width="7" height="6" fill="#0000ff"/>
<rect x="514" y="720" width="7" height="6" fill="#0000ff"/>
<rect x="522" y="720" width="7" height="6" fill="#0000ff"/>
<rect x="530" y="720" width="7" height="6" fill="#0000ff"/>
<rect x="538" y="720" width="7" height="6" fill="#0000ff"/>
<rect x="546" y="720" width="7" height="6" fill="#0000ff"/>
<rect x="554" y="720" width="7" height="6" fill="#0000ff"/>
<rect x="562" y="720" width="7" height="6" fill="#0000ff"/>
<rect x="570" y="720" width="7" height="6" fill="#0000ff"/>
<rect x="578" y="720" width="7" height="6" fill="#0000ff"/>
<rect x="586" y="720" width="7" height="6" fill="#0000ff"/>
<rect x="594" y="720" width="7" height="6" fill="#0000ff"/>
<rect x="602" y="720" width="7" height="6" fill="#0000ff"/>
<rect x="610" y="720" width="7" height="6" fill="#0000ff"/>
<rect x="618" y="720" width="7" height="6" fill="#0000ff"/>
<rect x="626" y="720" width="7" height="6" fill="#0000ff"/>
<rect x="634" y="720" width="7" height="6" fill="#0000ff"/>
<rect x="642" y="720" width="7" height="6" fill="#0000ff"/>
<rect x="650" y="720" width="7" height="6" fill="#0000ff"/>
<rect x="658" y="720" width="7" height="6" fill="#0000ff"/>
<rect x="666" y="720" width="7" height="6" fill="#0000ff"/>
<rect x="674" y="720" width="7" height="6" fill="#0000ff"/>
<rect x="682" y="720" width="7" height="6" fill="#0000ff"/>
<rect x="690" y="720" width="7" height="6" fill="#0000ff"/>
<rect x="698" y="720" width="7" height="6" fill="#0000ff"/>
<rect x="706" y="720" width="7" height="6" fill="#0000ff"/>
<rect x="714" y="720" width="7" height="6" fill="#0000ff"/>
<rect x="722" y="720" width="7" height="6" fill="#0000ff"/>
<rect x="730" y="720" width="7" height="6" fill="#0000ff"/>
<rect x="738" y="720" width="7" height="6" fill="#0000ff"/>
<rect x="746" y="720" width="7" height="6" fill="#0000ff"/>
<rect x="754" y="720" width="7" height="6" fill="#0000ff"/>
<rect x="762" y="720" width="7" height="6" fill="#0000ff"/>
<rect x="770" y="720" width="7" height="6" fill="#0000ff"/>
<rect x="778" y="720" width="7" height="6" fill="#0000ff"/>
<rect x="786" y="720" width="7" height="6" fill="#0000ff"/>
<rect x="794" y="720" width="7" height="6" fill="#0000ff"/>
<rect x="802" y="720" width="7" height="6" fill="#0000ff"/>
<rect x="810" y="720" width="7" height="6" fill="#0000ff"/>
<rect x="818" y="720" width="7" height="6" fill="#0000ff"/>
<rect x="826" y="720" width="7" height="6" fill="#0000ff"/>
<rect x="834" y="720" width="7" height="6" fill="#0000ff"/>
<rect x="842" y="720" width="7" height="6" fill="#0000ff"/>
<rect x="850" y="720" width="7" height="6" fill="#0000ff"/>
<rect x="858" y="720" width="7" height="6" fill="#0000ff"/>
<rect x="866" y="720" width="7" height="6" fill="#0000ff"/>
<rect x="874" y="720" width="7" height="6" fill="#0000ff"/>
<rect x="882" y="720" width="7" height="6" fill="#0000ff"/>
<rect x="890" y="720" width="7" height="6" fill="#0000ff"/>
<rect x="898" y="720" width="7" height="6" fill="#0000ff"/>
<rect x="906" y="720" width="7" height="6" fill="#0000ff"/>
<rect x="914" y="720" width="7" height="6" fill="#0000ff"/>
<rect x="922" y="720" width="7" height="6" fill="#0000ff"/>
<rect x="930" y="720" width="7" height="6" fill="#0000ff"/>
<rect x="938" y="720" width="7" height="6" fill="#0000ff"/>
<rect x="946" y="720" width="7" height="6" fill="#0000ff"/>
<rect x="954" y="720" width="7" height="6" fill="#0000ff"/>
<rect x="962" y="720" width="7" height="6" fill="#0000ff"/>
<rect x="970" y="720" width="7" height="6" fill="#0000ff"/>
<rect x="978" y="720" width="7" height="6" fill="#0000ff"/>
<rect x="986" y="720" width="7" height="6" fill="#0000ff"/>
<rect x="994" y="720" width="7" height="6" fill="#0000ff"/>
<rect x="1002" y="720" width="7" height="6" fill="#0000ff"/>
<rect x="1010" y="720" width="7" height="6" fill="#0000ff"/>
<rect x="1018" y="720" width="7" height="6" fill="#0000ff"/>
<rect x="1026" y="720" width="7" height="6" fill="#0000ff"/>
<rect x="1034" y="720" width="7" height="6" fill="#0000ff"/>
<rect x="1042" y="720" width="7" height="6" fill="#0000ff"/>
<rect x="1050" y="720" width="7" height="6" fill="#0000ff"/>
<rect x="1058" y="720" width="7" height="6" fill="#0000ff"/>
<rect x="1066" y="720" width="7" height="6" fill="#0000ff"/>
<rect x="1074" y="720" width="7" height="6" fill="#0000ff"/>
<rect x="1082" y="720" width="7" height="6" fill="#0000ff"/>
<rect x="1090" y="720" width="7" height="6" fill="#0000ff"/>
<rect x="1098" y="720" width="7" height="6" fill="#0000ff"/>
<rect x="1106" y="720" width="7" height="6" fill="#0000ff"/>
<rect x="1114" y="720" width="7" height="6" fill="#0000ff"/>
<rect x="1122" y="720" width="7" height="6" fill="#0000ff"/>
<rect x="1130" y="720" width="7" height="6" fill="#0000ff"/>
<rect x="1138" y="720" width="7" height="6" fill="#0000ff"/>
<rect x="1146" y="720" width="7" height="6" fill="#0000ff"/>
<rect x="1154" y="720" width="7" height="6" fill="#0000ff"/>
<rect x="1162" y="720" width="7" height="6" fill="#0000ff"/>
<rect x="1170" y="720" width="7" height="6" fill="#0000ff"/>
<rect x="1178" y="720" width="7" height="6" fill="#0000ff"/>
<rect x="1186" y="720" width="7" height="6" fill="#ffff00"/>
<rect x="1194" y="720" width="7" height="6" fill="#ff0000"/>
<rect x="1202" y="720" width="7" height="6" fill="#ff0000"/>
<rect x="1210" y="720" width="7" height="6" fill="#ff0000"/>
<rect x="1218" y="720" width="7" height="6" fill="#ff0000"/>
<rect x="1226" y="720" width="7" height="6" fill="#ff0000"/>
<rect x="1234" y="720" width="7" height="6" fill="#ff0000"/>
<rect x="1242" y="720" width="7" height="6" fill="#ff0000"/>
<rect x="1250" y="720" width="7" height="6" fill="#ff0000"/>
<rect x="1258" y="720" width="7" height="6" fill="#ff0000"/>
<rect x="1266" y="720" width="7" height="6" fill="#ff0000"/>
<rect x="1274" y="720" width="7" height="6" fill="#ff0000"/>
<rect x="1282" y="720" width="7" height="6" fill="#ff0000"/>
<rect x="1290" y="720" width="7" height="6" fill="#ff0000"/>
<rect x="1298" y="720" width="7" height="6" fill="#ff0000"/>
<rect x="1306" y="720" width="7" height="6" fill="#ff0000"/>
<rect x="1314" y="720" width="7" height="6" fill="#ff0000"/>
<rect x="1322" y="720" width="7" height="6" fill="#ff0000"/>
<rect x="1330" y="720" width="7" height="6" fill="#ff0000"/>
<rect x="1338" y="720" width="7" height="6" fill="#ff0000"/>
<rect x="1346" y="720" width="7" height="6" fill="#ff0000"/>
<rect x="1354" y="720" width="7" height="6" fill="#ff0000"/>
<rect x="1362" y="720" width="7" height="6" fill="#ff0000"/>
<rect x="1370" y="720" width="7" height="6" fill="#ff0000"/>
<rect x="1378" y="720" width="7" height="6" fill="#ff0000"/>
<rect x="1386" y="720" width="7" height="6" fill="#ff0000"/>
<rect x="1394" y="720" width="7" height="6" fill="#ff0000"/>
<rect x="1402" y="720" width="7" height="6" fill="#ff0000"/>
<rect x="1410" y="720" width="7" height="6" fill="#ff0000"/>
<rect x="1418" y="720" width="7" height="6" fill="#ff0000"/>
<rect x="1426" y="720" width="7" height="6" fill="#ff0000"/>
<rect x="1434" y="720" width="7" height="6" fill="#ff0000"/>
<rect x="1442" y="720" width="7" height="6" fill="#ff0000"/>
<rect x="1450" y="720" width="7" height="6" fill="#ff0000"/>
<rect x="1458" y="720" width="7" height="6" fill="#ff0000"/>
<rect x="1466" y="720" width="7" height="6" fill="#ff0000"/>
</g>
<text x="10" y="731.7" font-size="12" fill="#fff" textLength="227.5" lengthAdjust="spacingAndGlyphs">TEN_to_CHI_no_HISTOGRAM_DX 0.0000</text>
</g>
<clipPath id="ax9"><rect x="1856" y="717" width="60" height="13"/></clipPath><g clip-path="url(#ax9)">
<text x="1858" y="728" font-size="12" fill="#fff">1.00</text>
<text x="1858" y="727.5" font-size="12" fill="#fff">0</text>
</g>
<clipPath id="c8"><rect x="5" y="732" width="1849" height="98"/></clipPath>
<g clip-path="url(#c8)"><g shape-rendering="crispEdges">
<rect x="3" y="767" width="5" height="14" fill="#808080"/>
<rect x="11" y="769" width="5" height="12" fill="#808080"/>
<rect x="19" y="767" width="5" height="14" fill="#808080"/>
<rect x="27" y="763" width="5" height="18" fill="#808080"/>
<rect x="35" y="760" width="5" height="21" fill="#808080"/>
<rect x="43" y="757" width="5" height="24" fill="#808080"/>
<rect x="51" y="757" width="5" height="24" fill="#808080"/>
<rect x="59" y="757" width="5" height="24" fill="#808080"/>
<rect x="67" y="758" width="5" height="23" fill="#808080"/>
<rect x="75" y="760" width="5" height="21" fill="#808080"/>
<rect x="83" y="761" width="5" height="20" fill="#808080"/>
<rect x="91" y="760" width="5" height="21" fill="#808080"/>
<rect x="99" y="756" width="5" height="25" fill="#808080"/>
<rect x="107" y="753" width="5" height="28" fill="#808080"/>
<rect x="115" y="751" width="5" height="30" fill="#808080"/>
<rect x="123" y="750" width="5" height="31" fill="#808080"/>
<rect x="131" y="747" width="5" height="34" fill="#00ff00"/>
<rect x="139" y="746" width="5" height="35" fill="#00ff00"/>
<rect x="147" y="745" width="5" height="36" fill="#00ff00"/>
<rect x="155" y="744" width="5" height="37" fill="#00ff00"/>
<rect x="163" y="744" width="5" height="37" fill="#00ff00"/>
<rect x="171" y="747" width="5" height="34" fill="#006400"/>
<rect x="179" y="749" width="5" height="32" fill="#808080"/>
<rect x="187" y="750" width="5" height="31" fill="#808080"/>
<rect x="195" y="751" width="5" height="30" fill="#808080"/>
<rect x="203" y="750" width="5" height="31" fill="#808080"/>
<rect x="211" y="749" width="5" height="32" fill="#808080"/>
<rect x="219" y="748" width="5" height="33" fill="#808080"/>
<rect x="227" y="749" width="5" height="32" fill="#808080"/>
<rect x="235" y="750" width="5" height="31" fill="#808080"/>
<rect x="243" y="752" width="5" height="29" fill="#808080"/>
<rect x="251" y="753" width="5" height="28" fill="#808080"/>
<rect x="259" y="752" width="5" height="29" fill="#808080"/>
<rect x="267" y="751" width="5" height="30" fill="#808080"/>
<rect x="275" y="750" width="5" height="31" fill="#808080"/>
<rect x="283" y="751" width="5" height="30" fill="#808080"/>
<rect x="291" y="752" width="5" height="29" fill="#808080"/>
<rect x="299" y="753" width="5" height="28" fill="#808080"/>
<rect x="307" y="754" width="5" height="27" fill="#808080"/>
<rect x="315" y="755" width="5" height="26" fill="#808080"/>
<rect x="323" y="755" width="5" height="26" fill="#808080"/>
<rect x="331" y="754" width="5" height="27" fill="#808080"/>
<rect x="339" y="754" width="5" height="27" fill="#808080"/>
<rect x="347" y="752" width="5" height="29" fill="#808080"/>
<rect x="355" y="751" width="5" height="30" fill="#808080"/>
<rect x="363" y="751" width="5" height="30" fill="#808080"/>
<rect x="371" y="752" width="5" height="29" fill="#808080"/>
<rect x="379" y="752" width="5" height="29" fill="#808080"/>
<rect x="387" y="752" width="5" height="29" fill="#808080"/>
<rect x="395" y="751" width="5" height="30" fill="#808080"/>
<rect x="403" y="751" width="5" height="30" fill="#808080"/>
<rect x="411" y="750" width="5" height="31" fill="#808080"/>
<rect x="419" y="750" width="5" height="31" fill="#808080"/>
<rect x="427" y="751" width="5" height="30" fill="#808080"/>
<rect x="435" y="750" width="5" height="31" fill="#808080"/>
<rect x="443" y="750" width="5" height="31" fill="#808080"/>
<rect x="451" y="748" width="5" height="33" fill="#808080"/>
<rect x="459" y="747" width="5" height="34" fill="#808080"/>
<rect x="467" y="746" width="5" height="35" fill="#006400"/>
<rect x="475" y="746" width="5" height="35" fill="#006400"/>
<rect x="483" y="746" width="5" height="35" fill="#006400"/>
<rect x="491" y="745" width="5" height="36" fill="#006400"/>
<rect x="499" y="745" width="5" height="36" fill="#006400"/>
<rect x="507" y="744" width="5" height="37" fill="#006400"/>
<rect x="515" y="743" width="5" height="38" fill="#006400"/>
<rect x="523" y="743" width="5" height="38" fill="#006400"/>
<rect x="531" y="744" width="5" height="37" fill="#006400"/>
<rect x="539" y="743" width="5" height="38" fill="#006400"/>
<rect x="547" y="744" width="5" height="37" fill="#006400"/>
<rect x="555" y="744" width="5" height="37" fill="#006400"/>
<rect x="563" y="745" width="5" height="36" fill="#006400"/>
<rect x="571" y="745" width="5" height="36" fill="#006400"/>
<rect x="579" y="746" width="5" height="35" fill="#006400"/>
<rect x="587" y="747" width="5" height="34" fill="#006400"/>
<rect x="595" y="747" width="5" height="34" fill="#006400"/>
<rect x="603" y="746" width="5" height="35" fill="#006400"/>
<rect x="611" y="745" width="5" height="36" fill="#006400"/>
<rect x="619" y="744" width="5" height="37" fill="#006400"/>
<rect x="627" y="744" width="5" height="37" fill="#006400"/>
<rect x="635" y="745" width="5" height="36" fill="#006400"/>
<rect x="643" y="749" width="5" height="32" fill="#808080"/>
<rect x="651" y="751" width="5" height="30" fill="#808080"/>
<rect x="659" y="750" width="5" height="31" fill="#808080"/>
<rect x="667" y="748" width="5" height="33" fill="#808080"/>
<rect x="675" y="746" width="5" height="35" fill="#006400"/>
<rect x="683" y="746" width="5" height="35" fill="#00ff00"/>
<rect x="691" y="747" width="5" height="34" fill="#808080"/>
<rect x="699" y="749" width="5" height="32" fill="#808080"/>
<rect x="707" y="751" width="5" height="30" fill="#808080"/>
<rect x="715" y="752" width="5" height="29" fill="#808080"/>
<rect x="723" y="752" width="5" height="29" fill="#808080"/>
<rect x="731" y="751" width="5" height="30" fill="#808080"/>
<rect x="739" y="750" width="5" height="31" fill="#808080"/>
<rect x="747" y="749" width="5" height="32" fill="#808080"/>
<rect x="755" y="747" width="5" height="34" fill="#006400"/>
<rect x="763" y="745" width="5" height="36" fill="#00ff00"/>
<rect x="771" y="744" width="5" height="37" fill="#00ff00"/>
<rect x="779" y="743" width="5" height="38" fill="#00ff00"/>
<rect x="787" y="743" width="5" height="38" fill="#00ff00"/>
<rect x="795" y="744" width="5" height="37" fill="#00ff00"/>
<rect x="803" y="744" width="5" height="37" fill="#00ff00"/>
<rect x="811" y="744" width="5" height="37" fill="#00ff00"/>
<rect x="819" y="745" width="5" height="36" fill="#006400"/>
<rect x="827" y="747" width="5" height="34" fill="#006400"/>
<rect x="835" y="747" width="5" height="34" fill="#006400"/>
<rect x="843" y="745" width="5" height="36" fill="#006400"/>
<rect x="851" y="744" width="5" height="37" fill="#00ff00"/>
<rect x="859" y="743" width="5" height="38" fill="#00ff00"/>
<rect x="867" y="742" width="5" height="39" fill="#00ff00"/>
<rect x="875" y="743" width="5" height="38" fill="#00ff00"/>
<rect x="883" y="743" width="5" height="38" fill="#00ff00"/>
<rect x="891" y="743" width="5" height="38" fill="#00ff00"/>
<rect x="899" y="743" width="5" height="38" fill="#00ff00"/>
<rect x="907" y="744" width="5" height="37" fill="#00ff00"/>
<rect x="915" y="745" width="5" height="36" fill="#006400"/>
<rect x="923" y="747" width="5" height="34" fill="#006400"/>
<rect x="931" y="749" width="5" height="32" fill="#808080"/>
<rect x="939" y="752" width="5" height="29" fill="#808080"/>
<rect x="947" y="755" width="5" height="26" fill="#808080"/>
<rect x="955" y="758" width="5" height="23" fill="#808080"/>
<rect x="963" y="762" width="5" height="19" fill="#808080"/>
<rect x="971" y="766" width="5" height="15" fill="#808080"/>
<rect x="979" y="766" width="5" height="15" fill="#808080"/>
<rect x="987" y="766" width="5" height="15" fill="#808080"/>
<rect x="995" y="764" width="5" height="17" fill="#808080"/>
<rect x="1003" y="762" width="5" height="19" fill="#808080"/>
<rect x="1011" y="762" width="5" height="19" fill="#808080"/>
<rect x="1019" y="762" width="5" height="19" fill="#808080"/>
<rect x="1027" y="760" width="5" height="21" fill="#808080"/>
<rect x="1035" y="757" width="5" height="24" fill="#808080"/>
<rect x="1043" y="754" width="5" height="27" fill="#808080"/>
<rect x="1051" y="752" width="5" height="29" fill="#808080"/>
<rect x="1059" y="750" width="5" height="31" fill="#808080"/>
<rect x="1067" y="748" width="5" height="33" fill="#808080"/>
<rect x="1075" y="747" width="5" height="34" fill="#00ff00"/>
<rect x="1083" y="747" width="5" height="34" fill="#006400"/>
<rect x="1091" y="747" width="5" height="34" fill="#808080"/>
<rect x="1099" y="748" width="5" height="33" fill="#808080"/>
<rect x="1107" y="749" width="5" height="32" fill="#808080"/>
<rect x="1115" y="753" width="5" height="28" fill="#808080"/>
<rect x="1123" y="757" width="5" height="24" fill="#808080"/>
<rect x="1131" y="759" width="5" height="22" fill="#808080"/>
<rect x="1139" y="762" width="5" height="19" fill="#808080"/>
<rect x="1147" y="764" width="5" height="17" fill="#808080"/>
<rect x="1155" y="764" width="5" height="17" fill="#808080"/>
<rect x="1163" y="764" width="5" height="17" fill="#808080"/>
<rect x="1171" y="764" width="5" height="17" fill="#808080"/>
<rect x="1179" y="766" width="5" height="15" fill="#808080"/>
<rect x="1187" y="768" width="5" height="13" fill="#808080"/>
<rect x="1195" y="769" width="5" height="12" fill="#808080"/>
<rect x="1203" y="770" width="5" height="11" fill="#808080"/>
<rect x="1211" y="769" width="5" height="12" fill="#808080"/>
<rect x="1219" y="770" width="5" height="11" fill="#808080"/>
<rect x="1227" y="772" width="5" height="9" fill="#808080"/>
<rect x="1235" y="775" width="5" height="6" fill="#808080"/>
<rect x="1243" y="778" width="5" height="3" fill="#808080"/>
<rect x="1251" y="779" width="5" height="2" fill="#808080"/>
<rect x="1259" y="779" width="5" height="2" fill="#808080"/>
<rect x="1267" y="781" width="5" height="2" fill="#808080"/>
<rect x="1275" y="781" width="5" height="6" fill="#808080"/>
<rect x="1283" y="781" width="5" height="11" fill="#808080"/>
<rect x="1291" y="781" width="5" height="17" fill="#808080"/>
<rect x="1299" y="781" width="5" height="23" fill="#808080"/>
<rect x="1307" y="781" width="5" height="27" fill="#808080"/>
<rect x="1315" y="781" width="5" height="31" fill="#808080"/>
<rect x="1323" y="781" width="5" height="35" fill="#808080"/>
<rect x="1331" y="781" width="5" height="37" fill="#800080"/>
<rect x="1339" y="781" width="5" height="38" fill="#800080"/>
<rect x="1347" y="781" width="5" height="40" fill="#800080"/>
<rect x="1355" y="781" width="5" height="41" fill="#ff00ff"/>
<rect x="1363" y="781" width="5" height="40" fill="#ff00ff"/>
<rect x="1371" y="781" width="5" height="39" fill="#800080"/>
<rect x="1379" y="781" width="5" height="38" fill="#800080"/>
<rect x="1387" y="781" width="5" height="38" fill="#800080"/>
<rect x="1395" y="781" width="5" height="38" fill="#800080"/>
<rect x="1403" y="781" width="5" height="37" fill="#800080"/>
<rect x="1411" y="781" width="5" height="32" fill="#808080"/>
<rect x="1419" y="781" width="5" height="25" fill="#808080"/>
<rect x="1427" y="781" width="5" height="19" fill="#808080"/>
<rect x="1435" y="781" width="5" height="16" fill="#808080"/>
<rect x="1443" y="781" width="5" height="15" fill="#808080"/>
<rect x="1451" y="781" width="5" height="15" fill="#808080"/>
<rect x="1459" y="781" width="5" height="19" fill="#808080"/>
<rect x="1467" y="781" width="5" height="23" fill="#808080"/>
<rect x="955" y="781" width="5" height="49" fill="#ff0000"/>
<rect x="963" y="781" width="5" height="49" fill="#ff0000"/>
<rect x="971" y="781" width="5" height="49" fill="#ff0000"/>
<rect x="979" y="781" width="5" height="49" fill="#ff0000"/>
<rect x="1139" y="781" width="5" height="49" fill="#ff0000"/>
<rect x="1147" y="781" width="5" height="49" fill="#ff0000"/>
<rect x="1155" y="781" width="5" height="49" fill="#ff0000"/>
<rect x="1435" y="732" width="5" height="49" fill="#0000ff"/>
<rect x="1443" y="732" width="5" height="49" fill="#0000ff"/>
<line x1="6" y1="781.5" x2="1854" y2="781.5" stroke="#e8e8e8" stroke-width="1" stroke-dasharray="3 3"/>
</g>
<text x="8.7" y="746.7" font-size="12" fill="#fff" textLength="15" lengthAdjust="spacingAndGlyphs">H4</text>
<text x="33.3" y="746.7" font-size="12" fill="#fff" textLength="126.7" lengthAdjust="spacingAndGlyphs">TEN_to_CHI_no_YAMA</text>
<text x="169.5" y="746.7" font-size="12" fill="#fff" textLength="48.5" lengthAdjust="spacingAndGlyphs">-27.0117</text>
<text x="223.3" y="746.7" font-size="12" fill="#fff" textLength="49.2" lengthAdjust="spacingAndGlyphs">-27.0117</text>
</g>
<text x="1858" y="746" font-size="12" fill="#fff">60</text>
<text x="1858" y="785.5" font-size="12" fill="#fff">0.00</text>
<text x="1858.6" y="785.5" font-size="12" fill="#fff">0</text>
<text x="1858" y="828" font-size="12" fill="#fff">-60</text>
<clipPath id="c9"><rect x="5" y="859" width="1849" height="21"/></clipPath>
<text x="12" y="854.3" font-size="15.5" fill="#fff" textLength="54.5" lengthAdjust="spacingAndGlyphs" text-rendering="geometricPrecision">USDJPY</text>
<text x="80.6" y="854.3" font-size="15.5" fill="#fff" textLength="60.0" lengthAdjust="spacingAndGlyphs" text-rendering="geometricPrecision">EURUSD</text>
<text x="154" y="854.3" font-size="15.5" fill="#fff" textLength="59" lengthAdjust="spacingAndGlyphs" text-rendering="geometricPrecision">EURGBP</text>
<text x="226.6" y="854.3" font-size="15.5" fill="#fff" textLength="60.4" lengthAdjust="spacingAndGlyphs" text-rendering="geometricPrecision">GBPUSD</text>
<text x="300.6" y="854.3" font-size="15.5" fill="#fff" textLength="61.4" lengthAdjust="spacingAndGlyphs" text-rendering="geometricPrecision">AUDUSD</text>
<text x="376" y="854.3" font-size="15.5" fill="#fff" textLength="60" lengthAdjust="spacingAndGlyphs" text-rendering="geometricPrecision">USDCAD</text>
<text x="450" y="854.3" font-size="15.5" fill="#fff" textLength="53.8" lengthAdjust="spacingAndGlyphs" text-rendering="geometricPrecision">EURJPY</text>
<text x="517.8" y="854.3" font-size="15.5" fill="#fff" textLength="54.7" lengthAdjust="spacingAndGlyphs" text-rendering="geometricPrecision">CADJPY</text>
<text x="587" y="854.3" font-size="15.5" fill="#fff" textLength="55.8" lengthAdjust="spacingAndGlyphs" text-rendering="geometricPrecision">AUDJPY</text>
<text x="656.3" y="854.3" font-size="15.5" fill="#fff" textLength="55.7" lengthAdjust="spacingAndGlyphs" text-rendering="geometricPrecision">GBPJPY</text>
<text x="725.8" y="854.3" font-size="15.5" fill="#fff" textLength="54.8" lengthAdjust="spacingAndGlyphs" text-rendering="geometricPrecision">NZDJPY</text>
<text x="794.7" y="854.3" font-size="15.5" fill="#fff" textLength="54.2" lengthAdjust="spacingAndGlyphs" text-rendering="geometricPrecision">CHFJPY</text>
<text x="863" y="854.3" font-size="15.5" fill="#d8d800" textLength="59" lengthAdjust="spacingAndGlyphs" text-rendering="geometricPrecision">USDCHF</text>
<text x="935.8" y="854.3" font-size="15.5" fill="#fff" textLength="60.1" lengthAdjust="spacingAndGlyphs" text-rendering="geometricPrecision">NZDUSD</text>
<text x="1009.6" y="854.3" font-size="15.5" fill="#fff" textLength="61.4" lengthAdjust="spacingAndGlyphs" text-rendering="geometricPrecision">AUDNZD</text>
<text x="1084.4" y="854.3" font-size="15.5" fill="#fff" textLength="40.7" lengthAdjust="spacingAndGlyphs" text-rendering="geometricPrecision">GOLD</text>
<g clip-path="url(#c9)">
<text x="12" y="880.3" font-size="15.5" fill="#fff" textLength="61.4" lengthAdjust="spacingAndGlyphs" text-rendering="geometricPrecision">AUDCAD</text>
<text x="86.9" y="880.3" font-size="15.5" fill="#fff" textLength="60.0" lengthAdjust="spacingAndGlyphs" text-rendering="geometricPrecision">AUDCHF</text>
<text x="161" y="880.3" font-size="15.5" fill="#fff" textLength="59.3" lengthAdjust="spacingAndGlyphs" text-rendering="geometricPrecision">CADCHF</text>
<text x="233.8" y="880.3" font-size="15.5" fill="#fff" textLength="60.0" lengthAdjust="spacingAndGlyphs" text-rendering="geometricPrecision">EURAUD</text>
<text x="307.8" y="880.3" font-size="15.5" fill="#fff" textLength="59.4" lengthAdjust="spacingAndGlyphs" text-rendering="geometricPrecision">EURCAD</text>
<text x="381.3" y="880.3" font-size="15.5" fill="#fff" textLength="57.7" lengthAdjust="spacingAndGlyphs" text-rendering="geometricPrecision">EURCHF</text>
<text x="453" y="880.3" font-size="15.5" fill="#fff" textLength="58.9" lengthAdjust="spacingAndGlyphs" text-rendering="geometricPrecision">EURNZD</text>
<text x="526" y="880.3" font-size="15.5" fill="#fff" textLength="60.9" lengthAdjust="spacingAndGlyphs" text-rendering="geometricPrecision">GBPAUD</text>
<text x="600.5" y="880.3" font-size="15.5" fill="#fff" textLength="59.7" lengthAdjust="spacingAndGlyphs" text-rendering="geometricPrecision">GBPCHF</text>
<text x="673.3" y="880.3" font-size="15.5" fill="#fff" textLength="60.7" lengthAdjust="spacingAndGlyphs" text-rendering="geometricPrecision">GBPCAD</text>
<text x="747.8" y="880.3" font-size="15.5" fill="#fff" textLength="60.7" lengthAdjust="spacingAndGlyphs" text-rendering="geometricPrecision">GBPNZD</text>
<text x="822" y="880.3" font-size="15.5" fill="#fff" textLength="60.3" lengthAdjust="spacingAndGlyphs" text-rendering="geometricPrecision">NZDCAD</text>
<text x="895.8" y="880.3" font-size="15.5" fill="#fff" textLength="58.7" lengthAdjust="spacingAndGlyphs" text-rendering="geometricPrecision">NZDCHF</text>
<text x="968.6" y="880.3" font-size="15.5" fill="#fff" textLength="49.2" lengthAdjust="spacingAndGlyphs" text-rendering="geometricPrecision">SILVER</text>
<text x="1031" y="880.3" font-size="15.5" fill="#fff" textLength="73.8" lengthAdjust="spacingAndGlyphs" text-rendering="geometricPrecision">JP225Cash</text>
<text x="1118.6" y="880.3" font-size="15.5" fill="#fff" textLength="58.4" lengthAdjust="spacingAndGlyphs" text-rendering="geometricPrecision">BTCUSD</text>
</g>
<text x="1858.5" y="848" font-size="12" fill="#fff">6</text>
<text x="1858.5" y="854" font-size="12" fill="#fff">0</text>
<text x="1858.5" y="872" font-size="12" fill="#fff">6</text>
<text x="1858.5" y="878" font-size="12" fill="#fff">0</text>
<g shape-rendering="crispEdges">
<rect x="5" y="881" width="1" height="3" fill="#fff"/>
<rect x="101" y="881" width="1" height="3" fill="#fff"/>
<rect x="197" y="881" width="1" height="3" fill="#fff"/>
<rect x="293" y="881" width="1" height="3" fill="#fff"/>
<rect x="389" y="881" width="1" height="3" fill="#fff"/>
<rect x="485" y="881" width="1" height="3" fill="#fff"/>
<rect x="581" y="881" width="1" height="3" fill="#fff"/>
<rect x="677" y="881" width="1" height="3" fill="#fff"/>
<rect x="773" y="881" width="1" height="3" fill="#fff"/>
<rect x="869" y="881" width="1" height="3" fill="#fff"/>
<rect x="965" y="881" width="1" height="3" fill="#fff"/>
<rect x="1061" y="881" width="1" height="3" fill="#fff"/>
<rect x="1157" y="881" width="1" height="3" fill="#fff"/>
<rect x="1253" y="881" width="1" height="3" fill="#fff"/>
<rect x="1349" y="881" width="1" height="3" fill="#fff"/>
<rect x="1445" y="881" width="1" height="3" fill="#fff"/>
</g>
<text x="4.7" y="895.7" font-size="12" fill="#fff" textLength="62" lengthAdjust="spacingAndGlyphs">1 Sep 2023</text>
<text x="100.7" y="895.7" font-size="12" fill="#fff" textLength="66.5" lengthAdjust="spacingAndGlyphs">5 Sep 08:00</text>
<text x="196.7" y="895.7" font-size="12" fill="#fff" textLength="66.5" lengthAdjust="spacingAndGlyphs">7 Sep 08:00</text>
<text x="292.7" y="895.7" font-size="12" fill="#fff" textLength="73.5" lengthAdjust="spacingAndGlyphs">11 Sep 08:00</text>
<text x="388.7" y="895.7" font-size="12" fill="#fff" textLength="73.5" lengthAdjust="spacingAndGlyphs">13 Sep 08:00</text>
<text x="484.7" y="895.7" font-size="12" fill="#fff" textLength="73.5" lengthAdjust="spacingAndGlyphs">15 Sep 08:00</text>
<text x="580.7" y="895.7" font-size="12" fill="#fff" textLength="73.5" lengthAdjust="spacingAndGlyphs">19 Sep 08:00</text>
<text x="676.7" y="895.7" font-size="12" fill="#fff" textLength="73.5" lengthAdjust="spacingAndGlyphs">21 Sep 08:00</text>
<text x="772.7" y="895.7" font-size="12" fill="#fff" textLength="73.5" lengthAdjust="spacingAndGlyphs">25 Sep 08:00</text>
<text x="868.7" y="895.7" font-size="12" fill="#fff" textLength="73.5" lengthAdjust="spacingAndGlyphs">27 Sep 08:00</text>
<text x="964.7" y="895.7" font-size="12" fill="#fff" textLength="73.5" lengthAdjust="spacingAndGlyphs">29 Sep 08:00</text>
<text x="1060.7" y="895.7" font-size="12" fill="#fff" textLength="66.5" lengthAdjust="spacingAndGlyphs">3 Oct 08:00</text>
<text x="1156.7" y="895.7" font-size="12" fill="#fff" textLength="66.5" lengthAdjust="spacingAndGlyphs">5 Oct 08:00</text>
<text x="1252.7" y="895.7" font-size="12" fill="#fff" textLength="66.5" lengthAdjust="spacingAndGlyphs">9 Oct 08:00</text>
<text x="1348.7" y="895.7" font-size="12" fill="#fff" textLength="73.5" lengthAdjust="spacingAndGlyphs">11 Oct 08:00</text>
<text x="1444.7" y="895.7" font-size="12" fill="#fff" textLength="73.5" lengthAdjust="spacingAndGlyphs">13 Oct 08:00</text>
</svg></body></html>
